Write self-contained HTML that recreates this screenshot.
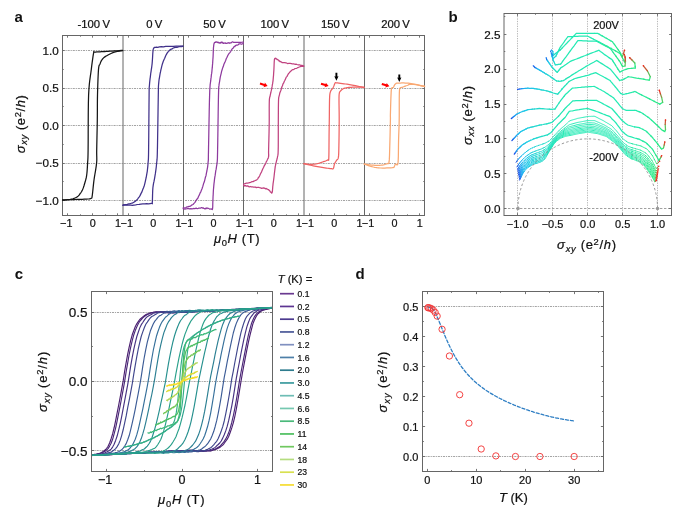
<!DOCTYPE html>
<html><head><meta charset="utf-8"><style>html,body{margin:0;padding:0;background:#fff;}svg{display:block;will-change:transform;}</style></head>
<body><svg width="685" height="523" viewBox="0 0 685 523" font-family="'Liberation Sans', sans-serif" fill="#111"><style>text{stroke:#111;stroke-width:0.22px;}text[font-weight=bold]{stroke-width:0;}</style>
<rect width="685" height="523" fill="#fff"/>
<text x="14.60" y="21.50" font-size="15" text-anchor="start" font-weight="bold"  >a</text>
<text x="448.40" y="21.60" font-size="15" text-anchor="start" font-weight="bold"  >b</text>
<text x="14.80" y="279.00" font-size="15" text-anchor="start" font-weight="bold"  >c</text>
<text x="355.50" y="279.00" font-size="15" text-anchor="start" font-weight="bold"  >d</text>
<line x1="62.50" y1="50.50" x2="424.50" y2="50.50" stroke="#a4a4a4" stroke-width="1" stroke-dasharray="2.1 0.9 1.2 0.9"/>
<line x1="62.50" y1="88.50" x2="424.50" y2="88.50" stroke="#a4a4a4" stroke-width="1" stroke-dasharray="2.1 0.9 1.2 0.9"/>
<line x1="62.50" y1="125.50" x2="424.50" y2="125.50" stroke="#a4a4a4" stroke-width="1" stroke-dasharray="2.1 0.9 1.2 0.9"/>
<line x1="62.50" y1="163.50" x2="424.50" y2="163.50" stroke="#a4a4a4" stroke-width="1" stroke-dasharray="2.1 0.9 1.2 0.9"/>
<line x1="62.50" y1="200.50" x2="424.50" y2="200.50" stroke="#a4a4a4" stroke-width="1" stroke-dasharray="2.1 0.9 1.2 0.9"/>
<line x1="62.50" y1="200.50" x2="64.70" y2="200.50" stroke="#666666" stroke-width="0.9" />
<line x1="424.50" y1="200.50" x2="422.30" y2="200.50" stroke="#666666" stroke-width="0.9" />
<line x1="62.50" y1="163.50" x2="64.70" y2="163.50" stroke="#666666" stroke-width="0.9" />
<line x1="424.50" y1="163.50" x2="422.30" y2="163.50" stroke="#666666" stroke-width="0.9" />
<line x1="62.50" y1="125.50" x2="64.70" y2="125.50" stroke="#666666" stroke-width="0.9" />
<line x1="424.50" y1="125.50" x2="422.30" y2="125.50" stroke="#666666" stroke-width="0.9" />
<line x1="62.50" y1="88.50" x2="64.70" y2="88.50" stroke="#666666" stroke-width="0.9" />
<line x1="424.50" y1="88.50" x2="422.30" y2="88.50" stroke="#666666" stroke-width="0.9" />
<line x1="62.50" y1="50.50" x2="64.70" y2="50.50" stroke="#666666" stroke-width="0.9" />
<line x1="424.50" y1="50.50" x2="422.30" y2="50.50" stroke="#666666" stroke-width="0.9" />
<line x1="62.50" y1="181.50" x2="63.70" y2="181.50" stroke="#666666" stroke-width="0.9" />
<line x1="424.50" y1="181.50" x2="423.30" y2="181.50" stroke="#666666" stroke-width="0.9" />
<line x1="62.50" y1="144.50" x2="63.70" y2="144.50" stroke="#666666" stroke-width="0.9" />
<line x1="424.50" y1="144.50" x2="423.30" y2="144.50" stroke="#666666" stroke-width="0.9" />
<line x1="62.50" y1="106.50" x2="63.70" y2="106.50" stroke="#666666" stroke-width="0.9" />
<line x1="424.50" y1="106.50" x2="423.30" y2="106.50" stroke="#666666" stroke-width="0.9" />
<line x1="62.50" y1="69.50" x2="63.70" y2="69.50" stroke="#666666" stroke-width="0.9" />
<line x1="424.50" y1="69.50" x2="423.30" y2="69.50" stroke="#666666" stroke-width="0.9" />
<line x1="67.50" y1="215.50" x2="67.50" y2="213.30" stroke="#666666" stroke-width="0.9" />
<line x1="67.50" y1="35.50" x2="67.50" y2="37.70" stroke="#666666" stroke-width="0.9" />
<line x1="92.50" y1="215.50" x2="92.50" y2="213.30" stroke="#666666" stroke-width="0.9" />
<line x1="92.50" y1="35.50" x2="92.50" y2="37.70" stroke="#666666" stroke-width="0.9" />
<line x1="117.50" y1="215.50" x2="117.50" y2="213.30" stroke="#666666" stroke-width="0.9" />
<line x1="117.50" y1="35.50" x2="117.50" y2="37.70" stroke="#666666" stroke-width="0.9" />
<line x1="80.50" y1="215.50" x2="80.50" y2="214.30" stroke="#666666" stroke-width="0.9" />
<line x1="80.50" y1="35.50" x2="80.50" y2="36.70" stroke="#666666" stroke-width="0.9" />
<line x1="105.50" y1="215.50" x2="105.50" y2="214.30" stroke="#666666" stroke-width="0.9" />
<line x1="105.50" y1="35.50" x2="105.50" y2="36.70" stroke="#666666" stroke-width="0.9" />
<line x1="128.50" y1="215.50" x2="128.50" y2="213.30" stroke="#666666" stroke-width="0.9" />
<line x1="128.50" y1="35.50" x2="128.50" y2="37.70" stroke="#666666" stroke-width="0.9" />
<line x1="153.50" y1="215.50" x2="153.50" y2="213.30" stroke="#666666" stroke-width="0.9" />
<line x1="153.50" y1="35.50" x2="153.50" y2="37.70" stroke="#666666" stroke-width="0.9" />
<line x1="178.50" y1="215.50" x2="178.50" y2="213.30" stroke="#666666" stroke-width="0.9" />
<line x1="178.50" y1="35.50" x2="178.50" y2="37.70" stroke="#666666" stroke-width="0.9" />
<line x1="140.50" y1="215.50" x2="140.50" y2="214.30" stroke="#666666" stroke-width="0.9" />
<line x1="140.50" y1="35.50" x2="140.50" y2="36.70" stroke="#666666" stroke-width="0.9" />
<line x1="165.50" y1="215.50" x2="165.50" y2="214.30" stroke="#666666" stroke-width="0.9" />
<line x1="165.50" y1="35.50" x2="165.50" y2="36.70" stroke="#666666" stroke-width="0.9" />
<line x1="188.50" y1="215.50" x2="188.50" y2="213.30" stroke="#666666" stroke-width="0.9" />
<line x1="188.50" y1="35.50" x2="188.50" y2="37.70" stroke="#666666" stroke-width="0.9" />
<line x1="213.50" y1="215.50" x2="213.50" y2="213.30" stroke="#666666" stroke-width="0.9" />
<line x1="213.50" y1="35.50" x2="213.50" y2="37.70" stroke="#666666" stroke-width="0.9" />
<line x1="238.50" y1="215.50" x2="238.50" y2="213.30" stroke="#666666" stroke-width="0.9" />
<line x1="238.50" y1="35.50" x2="238.50" y2="37.70" stroke="#666666" stroke-width="0.9" />
<line x1="200.50" y1="215.50" x2="200.50" y2="214.30" stroke="#666666" stroke-width="0.9" />
<line x1="200.50" y1="35.50" x2="200.50" y2="36.70" stroke="#666666" stroke-width="0.9" />
<line x1="226.50" y1="215.50" x2="226.50" y2="214.30" stroke="#666666" stroke-width="0.9" />
<line x1="226.50" y1="35.50" x2="226.50" y2="36.70" stroke="#666666" stroke-width="0.9" />
<line x1="248.50" y1="215.50" x2="248.50" y2="213.30" stroke="#666666" stroke-width="0.9" />
<line x1="248.50" y1="35.50" x2="248.50" y2="37.70" stroke="#666666" stroke-width="0.9" />
<line x1="273.50" y1="215.50" x2="273.50" y2="213.30" stroke="#666666" stroke-width="0.9" />
<line x1="273.50" y1="35.50" x2="273.50" y2="37.70" stroke="#666666" stroke-width="0.9" />
<line x1="298.50" y1="215.50" x2="298.50" y2="213.30" stroke="#666666" stroke-width="0.9" />
<line x1="298.50" y1="35.50" x2="298.50" y2="37.70" stroke="#666666" stroke-width="0.9" />
<line x1="261.50" y1="215.50" x2="261.50" y2="214.30" stroke="#666666" stroke-width="0.9" />
<line x1="261.50" y1="35.50" x2="261.50" y2="36.70" stroke="#666666" stroke-width="0.9" />
<line x1="286.50" y1="215.50" x2="286.50" y2="214.30" stroke="#666666" stroke-width="0.9" />
<line x1="286.50" y1="35.50" x2="286.50" y2="36.70" stroke="#666666" stroke-width="0.9" />
<line x1="309.50" y1="215.50" x2="309.50" y2="213.30" stroke="#666666" stroke-width="0.9" />
<line x1="309.50" y1="35.50" x2="309.50" y2="37.70" stroke="#666666" stroke-width="0.9" />
<line x1="334.50" y1="215.50" x2="334.50" y2="213.30" stroke="#666666" stroke-width="0.9" />
<line x1="334.50" y1="35.50" x2="334.50" y2="37.70" stroke="#666666" stroke-width="0.9" />
<line x1="359.50" y1="215.50" x2="359.50" y2="213.30" stroke="#666666" stroke-width="0.9" />
<line x1="359.50" y1="35.50" x2="359.50" y2="37.70" stroke="#666666" stroke-width="0.9" />
<line x1="321.50" y1="215.50" x2="321.50" y2="214.30" stroke="#666666" stroke-width="0.9" />
<line x1="321.50" y1="35.50" x2="321.50" y2="36.70" stroke="#666666" stroke-width="0.9" />
<line x1="346.50" y1="215.50" x2="346.50" y2="214.30" stroke="#666666" stroke-width="0.9" />
<line x1="346.50" y1="35.50" x2="346.50" y2="36.70" stroke="#666666" stroke-width="0.9" />
<line x1="369.50" y1="215.50" x2="369.50" y2="213.30" stroke="#666666" stroke-width="0.9" />
<line x1="369.50" y1="35.50" x2="369.50" y2="37.70" stroke="#666666" stroke-width="0.9" />
<line x1="394.50" y1="215.50" x2="394.50" y2="213.30" stroke="#666666" stroke-width="0.9" />
<line x1="394.50" y1="35.50" x2="394.50" y2="37.70" stroke="#666666" stroke-width="0.9" />
<line x1="419.50" y1="215.50" x2="419.50" y2="213.30" stroke="#666666" stroke-width="0.9" />
<line x1="419.50" y1="35.50" x2="419.50" y2="37.70" stroke="#666666" stroke-width="0.9" />
<line x1="381.50" y1="215.50" x2="381.50" y2="214.30" stroke="#666666" stroke-width="0.9" />
<line x1="381.50" y1="35.50" x2="381.50" y2="36.70" stroke="#666666" stroke-width="0.9" />
<line x1="407.50" y1="215.50" x2="407.50" y2="214.30" stroke="#666666" stroke-width="0.9" />
<line x1="407.50" y1="35.50" x2="407.50" y2="36.70" stroke="#666666" stroke-width="0.9" />
<line x1="123.00" y1="35.50" x2="123.00" y2="215.50" stroke="#666666" stroke-width="1" />
<line x1="183.50" y1="35.50" x2="183.50" y2="215.50" stroke="#666666" stroke-width="1" />
<line x1="243.50" y1="35.50" x2="243.50" y2="215.50" stroke="#666666" stroke-width="1" />
<line x1="304.00" y1="35.50" x2="304.00" y2="215.50" stroke="#666666" stroke-width="1" />
<line x1="364.50" y1="35.50" x2="364.50" y2="215.50" stroke="#666666" stroke-width="1" />
<rect x="62.5" y="35.5" width="362.00" height="180.00" fill="none" stroke="#666666" stroke-width="1"/>
<text x="58.80" y="54.70" font-size="11.7" text-anchor="end" font-weight="normal"  >1.0</text>
<text x="58.80" y="92.20" font-size="11.7" text-anchor="end" font-weight="normal"  >0.5</text>
<text x="58.80" y="129.70" font-size="11.7" text-anchor="end" font-weight="normal"  >0.0</text>
<text x="58.80" y="167.20" font-size="11.7" text-anchor="end" font-weight="normal"  >&#8722;0.5</text>
<text x="58.80" y="204.70" font-size="11.7" text-anchor="end" font-weight="normal"  >&#8722;1.0</text>
<text x="66.28" y="227.30" font-size="10.8" text-anchor="middle" font-weight="normal"  >&#8722;1</text>
<text x="92.75" y="227.30" font-size="10.8" text-anchor="middle" font-weight="normal"  >0</text>
<text x="117.92" y="227.30" font-size="10.8" text-anchor="middle" font-weight="normal"  >1</text>
<text x="126.78" y="227.30" font-size="10.8" text-anchor="middle" font-weight="normal"  >&#8722;1</text>
<text x="153.25" y="227.30" font-size="10.8" text-anchor="middle" font-weight="normal"  >0</text>
<text x="178.42" y="227.30" font-size="10.8" text-anchor="middle" font-weight="normal"  >1</text>
<text x="187.03" y="227.30" font-size="10.8" text-anchor="middle" font-weight="normal"  >&#8722;1</text>
<text x="213.50" y="227.30" font-size="10.8" text-anchor="middle" font-weight="normal"  >0</text>
<text x="238.67" y="227.30" font-size="10.8" text-anchor="middle" font-weight="normal"  >1</text>
<text x="247.28" y="227.30" font-size="10.8" text-anchor="middle" font-weight="normal"  >&#8722;1</text>
<text x="273.75" y="227.30" font-size="10.8" text-anchor="middle" font-weight="normal"  >0</text>
<text x="298.92" y="227.30" font-size="10.8" text-anchor="middle" font-weight="normal"  >1</text>
<text x="307.78" y="227.30" font-size="10.8" text-anchor="middle" font-weight="normal"  >&#8722;1</text>
<text x="334.25" y="227.30" font-size="10.8" text-anchor="middle" font-weight="normal"  >0</text>
<text x="359.42" y="227.30" font-size="10.8" text-anchor="middle" font-weight="normal"  >1</text>
<text x="368.03" y="227.30" font-size="10.8" text-anchor="middle" font-weight="normal"  >&#8722;1</text>
<text x="394.50" y="227.30" font-size="10.8" text-anchor="middle" font-weight="normal"  >0</text>
<text x="419.67" y="227.30" font-size="10.8" text-anchor="middle" font-weight="normal"  >1</text>
<text x="93.75" y="28.40" font-size="11.3" text-anchor="middle" font-weight="normal"  >-100&#8201;V</text>
<text x="154.25" y="28.40" font-size="11.3" text-anchor="middle" font-weight="normal"  >0&#8201;V</text>
<text x="214.50" y="28.40" font-size="11.3" text-anchor="middle" font-weight="normal"  >50&#8201;V</text>
<text x="274.75" y="28.40" font-size="11.3" text-anchor="middle" font-weight="normal"  >100&#8201;V</text>
<text x="335.25" y="28.40" font-size="11.3" text-anchor="middle" font-weight="normal"  >150&#8201;V</text>
<text x="395.50" y="28.40" font-size="11.3" text-anchor="middle" font-weight="normal"  >200&#8201;V</text>
<path d="M122.70,50.40 L121.29,50.49 L119.31,50.61 L116.98,50.76 L114.50,50.92 L112.11,51.07 L110.00,51.20 L108.12,51.31 L106.30,51.42 L104.55,51.53 L102.90,51.62 L101.37,51.71 L100.00,51.80 L98.77,51.87 L97.66,51.93 L96.68,51.99 L95.83,52.04 L95.10,52.11 L94.50,52.20 L94.10,52.13 L93.91,51.86 L93.85,51.60 L93.83,51.56 L93.78,51.96 L93.60,53.00 L93.30,54.72 L92.95,56.97 L92.56,59.65 L92.15,62.67 L91.72,65.95 L91.30,69.40 L90.85,72.79 L90.35,76.16 L89.84,79.79 L89.35,83.95 L88.93,88.93 L88.60,95.00 L88.39,102.95 L88.27,112.71 L88.21,123.29 L88.19,133.69 L88.16,142.92 L88.10,150.00 L88.02,154.61 L87.95,157.48 L87.87,159.19 L87.80,160.30 L87.71,161.38 L87.60,163.00 L87.48,165.10 L87.37,167.22 L87.24,169.31 L87.09,171.33 L86.91,173.24 L86.70,175.00 L86.45,176.58 L86.16,178.00 L85.84,179.31 L85.51,180.56 L85.16,181.77 L84.80,183.00 L84.43,184.25 L84.06,185.50 L83.66,186.72 L83.26,187.89 L82.83,188.99 L82.40,190.00 L81.94,190.92 L81.46,191.76 L80.96,192.53 L80.46,193.24 L79.97,193.89 L79.50,194.50 L79.08,195.04 L78.70,195.50 L78.33,195.91 L77.93,196.28 L77.46,196.64 L76.90,197.00 L76.23,197.38 L75.48,197.74 L74.66,198.10 L73.80,198.43 L72.91,198.74 L72.00,199.00 L71.03,199.22 L69.99,199.40 L68.91,199.56 L67.86,199.69 L66.87,199.80 L66.00,199.90 L65.23,199.99 L64.52,200.06 L63.88,200.11 L63.31,200.14 L62.85,200.17 L62.50,200.20" fill="none" stroke="#151515" stroke-width="1.25" stroke-linejoin="round" stroke-linecap="round" />
<path d="M62.50,199.90 L63.85,199.86 L65.72,199.80 L67.94,199.73 L70.33,199.66 L72.74,199.58 L75.00,199.50 L77.25,199.43 L79.66,199.35 L82.08,199.28 L84.37,199.19 L86.39,199.10 L88.00,199.00 L89.13,198.90 L89.87,198.81 L90.35,198.71 L90.66,198.58 L90.91,198.42 L91.20,198.20 L91.48,198.07 L91.67,198.08 L91.79,198.05 L91.89,197.81 L92.01,197.18 L92.20,196.00 L92.44,194.14 L92.71,191.73 L93.00,188.93 L93.31,185.92 L93.64,182.88 L94.00,180.00 L94.42,177.18 L94.90,174.26 L95.41,171.31 L95.89,168.41 L96.30,165.61 L96.60,163.00 L96.76,160.80 L96.80,159.00 L96.77,157.31 L96.72,155.44 L96.68,153.10 L96.70,150.00 L96.78,145.93 L96.88,141.07 L96.99,135.75 L97.11,130.26 L97.22,124.91 L97.30,120.00 L97.35,115.55 L97.37,111.32 L97.38,107.23 L97.39,103.19 L97.42,99.14 L97.50,95.00 L97.61,90.53 L97.76,85.76 L97.92,80.97 L98.10,76.46 L98.30,72.50 L98.50,69.40 L98.72,67.31 L98.96,66.04 L99.21,65.33 L99.47,64.93 L99.74,64.57 L100.00,64.00 L100.25,63.27 L100.50,62.61 L100.74,61.99 L101.00,61.40 L101.29,60.84 L101.60,60.30 L101.95,59.77 L102.33,59.26 L102.72,58.78 L103.14,58.33 L103.57,57.90 L104.00,57.50 L104.41,57.15 L104.80,56.87 L105.19,56.61 L105.64,56.34 L106.16,56.05 L106.80,55.70 L107.58,55.26 L108.49,54.76 L109.48,54.23 L110.51,53.70 L111.53,53.22 L112.50,52.80 L113.44,52.46 L114.38,52.16 L115.31,51.91 L116.23,51.68 L117.13,51.48 L118.00,51.30 L118.88,51.14 L119.80,51.01 L120.69,50.91 L121.51,50.82 L122.20,50.75 L122.70,50.70" fill="none" stroke="#151515" stroke-width="1.25" stroke-linejoin="round" stroke-linecap="round" />
<path d="M183.00,46.10 L181.32,46.01 L178.95,46.21 L176.17,46.19 L173.23,46.38 L170.38,46.47 L167.90,46.28 L165.67,46.36 L163.47,46.88 L161.36,46.71 L159.43,46.82 L157.75,47.33 L156.40,47.19 L155.44,47.46 L154.84,47.33 L154.49,47.46 L154.28,47.31 L154.12,47.71 L153.90,48.08 L153.66,48.19 L153.48,48.55 L153.35,48.84 L153.24,49.03 L153.13,50.12 L153.00,51.15 L152.86,52.57 L152.73,54.41 L152.59,57.06 L152.45,59.22 L152.29,61.66 L152.10,63.89 L151.87,65.79 L151.60,67.83 L151.32,69.47 L151.03,71.56 L150.75,73.27 L150.50,75.42 L150.27,77.34 L150.03,78.95 L149.81,80.97 L149.61,82.96 L149.44,85.20 L149.30,86.67 L149.21,87.79 L149.17,87.87 L149.16,88.13 L149.15,88.84 L149.14,90.88 L149.12,93.02 L149.10,95.04 L149.08,97.52 L149.06,99.73 L149.03,102.17 L149.01,104.51 L148.99,106.95 L148.98,109.16 L148.96,111.28 L148.94,113.78 L148.92,115.99 L148.90,118.12 L148.89,120.11 L148.87,122.34 L148.85,124.26 L148.83,126.74 L148.81,128.78 L148.80,130.80 L148.78,132.86 L148.76,135.67 L148.73,138.16 L148.71,140.12 L148.69,142.90 L148.66,145.12 L148.63,147.41 L148.60,149.90 L148.56,152.41 L148.53,154.74 L148.47,157.11 L148.41,159.00 L148.34,159.74 L148.24,161.09 L148.10,162.52 L147.93,164.90 L147.73,167.07 L147.51,168.95 L147.26,171.32 L146.95,173.09 L146.60,175.09 L146.20,177.48 L145.76,179.37 L145.27,181.61 L144.74,183.84 L144.15,186.00 L143.50,187.73 L142.76,189.57 L141.94,191.85 L141.07,193.37 L140.17,195.38 L139.27,196.87 L138.40,197.94 L137.57,199.07 L136.74,200.00 L135.92,200.79 L135.09,201.38 L134.26,201.91 L133.40,202.46 L132.51,203.08 L131.58,203.24 L130.64,203.50 L129.72,203.89 L128.83,203.86 L128.00,204.10 L127.21,204.63 L126.42,204.55 L125.67,204.68 L124.99,204.51 L124.39,204.79 L123.90,204.94 L123.54,204.71 L123.30,205.04 L123.14,205.06 L123.04,204.78 L122.97,205.00 L122.90,205.00" fill="none" stroke="#40318a" stroke-width="1.25" stroke-linejoin="round" stroke-linecap="round" />
<path d="M122.90,205.30 L123.73,205.17 L124.87,205.11 L126.22,205.25 L127.71,205.12 L129.26,205.05 L130.80,205.15 L132.35,205.31 L133.99,205.11 L135.69,204.94 L137.43,204.50 L139.17,204.48 L140.90,204.19 L142.72,203.97 L144.69,203.77 L146.67,203.66 L148.52,203.84 L150.11,203.63 L151.30,203.45 L152.02,203.45 L152.34,203.34 L152.41,203.60 L152.34,203.77 L152.27,203.45 L152.30,202.58 L152.40,200.94 L152.47,198.30 L152.53,195.93 L152.60,193.18 L152.71,190.37 L152.90,187.74 L153.18,185.68 L153.54,183.36 L153.94,181.70 L154.35,179.62 L154.75,177.41 L155.10,175.20 L155.41,173.39 L155.71,171.11 L155.99,169.14 L156.26,167.00 L156.49,164.72 L156.70,162.56 L156.87,161.03 L156.99,159.93 L157.09,158.77 L157.19,157.24 L157.28,154.71 L157.34,152.05 L157.40,149.77 L157.45,147.66 L157.50,145.08 L157.54,142.80 L157.58,140.38 L157.62,137.92 L157.66,135.85 L157.70,133.06 L157.74,131.01 L157.77,128.76 L157.80,126.82 L157.84,124.49 L157.87,122.38 L157.90,120.42 L157.93,118.06 L157.97,116.03 L158.00,114.06 L158.03,111.50 L158.07,109.10 L158.10,106.79 L158.14,104.68 L158.18,102.22 L158.22,99.64 L158.26,97.30 L158.30,94.84 L158.34,92.74 L158.38,90.30 L158.42,87.95 L158.44,86.58 L158.48,85.74 L158.56,84.77 L158.70,83.43 L158.91,81.01 L159.16,79.19 L159.45,77.59 L159.77,75.57 L160.13,73.50 L160.50,71.92 L160.89,69.96 L161.29,68.30 L161.73,66.30 L162.20,64.55 L162.72,63.01 L163.30,61.22 L163.96,59.68 L164.70,58.28 L165.49,56.30 L166.30,54.57 L167.11,53.17 L167.90,52.03 L168.65,51.38 L169.39,50.41 L170.12,49.76 L170.88,49.17 L171.66,49.17 L172.50,48.46 L173.41,47.97 L174.39,47.59 L175.39,47.35 L176.40,47.20 L177.38,47.27 L178.30,46.82 L179.20,46.59 L180.12,46.65 L181.01,46.38 L181.82,46.63 L182.50,46.28 L183.00,46.20" fill="none" stroke="#40318a" stroke-width="1.25" stroke-linejoin="round" stroke-linecap="round" />
<path d="M243.40,42.10 L242.29,42.20 L240.70,42.28 L238.84,42.31 L236.92,42.43 L235.14,42.26 L233.70,42.48 L232.62,41.78 L231.76,42.32 L231.02,42.93 L230.37,42.85 L229.71,43.24 L229.00,42.65 L228.22,43.07 L227.41,42.96 L226.61,43.30 L225.84,43.37 L225.13,42.88 L224.50,43.05 L223.96,43.02 L223.50,43.45 L223.10,43.14 L222.73,42.42 L222.37,42.85 L222.00,42.17 L221.64,42.61 L221.32,42.23 L221.01,42.21 L220.69,43.08 L220.33,42.55 L219.90,42.54 L219.38,43.14 L218.77,42.87 L218.12,42.14 L217.49,42.55 L216.90,42.01 L216.40,42.06 L216.01,41.61 L215.68,42.26 L215.40,42.07 L215.16,42.41 L214.93,42.54 L214.70,42.32 L214.48,42.76 L214.27,43.00 L214.08,43.50 L213.91,44.09 L213.75,45.18 L213.60,46.59 L213.47,47.54 L213.37,49.94 L213.29,51.64 L213.20,53.73 L213.11,56.29 L213.00,57.98 L212.87,59.74 L212.74,61.79 L212.60,63.88 L212.45,65.20 L212.28,67.92 L212.10,68.97 L211.89,71.51 L211.66,73.44 L211.41,74.55 L211.16,77.13 L210.92,78.71 L210.70,80.97 L210.50,82.18 L210.31,83.48 L210.13,84.94 L209.96,87.58 L209.78,89.98 L209.69,92.86 L209.60,95.39 L209.54,97.83 L209.47,99.72 L209.41,102.16 L209.36,104.71 L209.31,107.33 L209.26,109.13 L209.21,112.10 L209.17,114.29 L209.13,116.49 L209.09,117.89 L209.05,120.85 L209.01,122.23 L208.97,124.59 L208.93,126.97 L208.89,129.39 L208.85,131.01 L208.81,133.67 L208.77,135.71 L208.73,137.88 L208.69,140.27 L208.64,142.52 L208.60,144.83 L208.55,147.29 L208.50,150.17 L208.46,152.72 L208.41,154.25 L208.38,156.93 L208.36,159.38 L208.33,159.99 L208.26,160.90 L208.10,162.36 L207.87,164.80 L207.59,167.12 L207.26,168.91 L206.89,171.00 L206.47,172.79 L206.00,175.67 L205.47,177.01 L204.88,179.59 L204.24,182.07 L203.57,183.56 L202.89,186.15 L202.20,188.30 L201.52,189.88 L200.83,191.83 L200.12,192.95 L199.39,194.90 L198.62,196.22 L197.80,198.31 L196.92,199.20 L195.97,200.67 L194.99,202.39 L194.00,203.38 L193.02,204.49 L192.10,204.86 L191.21,205.55 L190.34,206.24 L189.49,206.37 L188.66,206.46 L187.86,206.79 L187.10,206.78 L186.34,207.20 L185.57,207.91 L184.84,208.00 L184.17,207.79 L183.61,207.74 L183.20,207.80" fill="none" stroke="#8e3a9e" stroke-width="1.25" stroke-linejoin="round" stroke-linecap="round" />
<path d="M183.20,208.70 L183.88,208.98 L184.81,209.04 L185.92,208.77 L187.14,208.59 L188.39,208.37 L189.60,208.95 L190.83,208.72 L192.14,208.91 L193.49,208.47 L194.81,208.73 L196.07,208.19 L197.20,208.57 L198.21,208.41 L199.14,208.01 L200.00,208.00 L200.79,208.03 L201.52,207.53 L202.20,207.85 L202.80,208.15 L203.31,207.80 L203.77,208.46 L204.19,208.53 L204.59,208.83 L205.00,208.45 L205.39,208.23 L205.73,208.81 L206.05,208.72 L206.40,208.31 L206.80,207.93 L207.30,208.03 L207.95,208.51 L208.74,208.36 L209.59,209.15 L210.41,209.01 L211.14,208.79 L211.70,209.24 L212.06,208.99 L212.28,209.53 L212.41,209.49 L212.47,209.00 L212.53,208.80 L212.60,208.28 L212.68,207.55 L212.73,206.67 L212.76,204.60 L212.79,203.52 L212.83,202.22 L212.90,200.32 L212.98,198.77 L213.07,196.30 L213.18,194.85 L213.29,192.31 L213.43,189.71 L213.60,188.05 L213.80,185.63 L214.02,183.43 L214.27,181.59 L214.53,179.18 L214.81,177.14 L215.10,175.63 L215.42,173.37 L215.79,170.63 L216.16,169.20 L216.53,166.39 L216.85,164.56 L217.10,162.96 L217.27,161.09 L217.36,159.79 L217.42,158.83 L217.46,157.24 L217.51,154.22 L217.56,152.73 L217.60,149.60 L217.64,147.53 L217.69,145.41 L217.73,142.70 L217.76,140.83 L217.80,137.77 L217.84,136.03 L217.87,133.56 L217.91,131.21 L217.94,129.26 L217.97,126.71 L218.00,124.90 L218.03,122.72 L218.06,120.32 L218.10,118.13 L218.13,116.19 L218.16,113.77 L218.19,111.33 L218.23,109.54 L218.27,106.72 L218.31,104.53 L218.35,102.41 L218.40,99.48 L218.45,96.96 L218.50,94.66 L218.56,92.85 L218.62,90.40 L218.72,87.64 L218.81,86.34 L218.93,85.90 L219.08,84.43 L219.30,83.12 L219.58,81.59 L219.91,79.40 L220.28,77.15 L220.69,75.41 L221.13,73.52 L221.60,71.38 L222.11,69.78 L222.66,67.92 L223.24,66.61 L223.85,64.46 L224.47,63.11 L225.10,61.82 L225.73,60.29 L226.37,58.37 L227.03,57.21 L227.70,55.66 L228.39,54.49 L229.10,53.39 L229.85,52.54 L230.63,51.59 L231.44,49.99 L232.23,48.79 L233.00,48.32 L233.70,47.20 L234.30,46.52 L234.81,46.63 L235.29,45.56 L235.80,45.70 L236.38,45.02 L237.10,45.19 L238.06,44.81 L239.22,43.84 L240.46,43.75 L241.66,44.25 L242.68,43.71 L243.40,43.60" fill="none" stroke="#8e3a9e" stroke-width="1.25" stroke-linejoin="round" stroke-linecap="round" />
<path d="M303.75,66.00 L303.03,65.72 L302.04,65.37 L300.86,65.46 L299.58,64.78 L298.30,64.85 L297.10,64.51 L295.98,64.12 L294.86,64.29 L293.73,63.83 L292.59,63.97 L291.42,63.57 L290.20,63.41 L288.88,63.45 L287.45,63.51 L285.99,62.79 L284.57,62.62 L283.29,62.65 L282.20,62.61 L281.34,62.07 L280.66,61.65 L280.09,61.75 L279.61,60.78 L279.16,61.04 L278.70,60.35 L278.23,59.96 L277.79,59.64 L277.39,59.48 L277.02,59.56 L276.69,58.87 L276.40,58.96 L276.17,58.84 L276.00,58.53 L275.87,58.56 L275.76,58.16 L275.65,58.15 L275.50,58.29 L275.32,58.64 L275.13,58.42 L274.93,58.34 L274.73,58.67 L274.55,58.96 L274.40,59.56 L274.29,61.01 L274.20,62.38 L274.14,63.73 L274.07,65.77 L274.00,67.60 L273.90,69.66 L273.78,71.41 L273.65,73.08 L273.51,75.59 L273.35,76.98 L273.18,79.10 L273.00,81.08 L272.79,82.23 L272.57,83.92 L272.33,84.97 L272.08,86.70 L271.83,88.00 L271.60,89.05 L271.37,90.38 L271.15,91.01 L270.93,92.24 L270.71,93.11 L270.50,94.05 L270.30,94.97 L270.11,96.10 L269.91,96.83 L269.73,97.18 L269.56,98.21 L269.41,99.15 L269.30,101.64 L269.24,104.44 L269.22,108.16 L269.23,111.98 L269.23,113.71 L269.24,115.88 L269.24,118.22 L269.24,119.90 L269.22,122.29 L269.20,124.17 L269.16,126.30 L269.12,128.42 L269.07,131.26 L269.02,133.17 L268.96,135.64 L268.90,138.12 L268.84,140.74 L268.78,142.46 L268.73,144.73 L268.68,146.82 L268.60,150.27 L268.58,152.47 L268.62,153.98 L268.67,154.54 L268.69,155.32 L268.65,155.94 L268.50,157.17 L268.24,158.22 L267.89,158.57 L267.48,159.48 L267.02,160.42 L266.52,161.37 L266.00,162.59 L265.44,163.82 L264.83,164.83 L264.18,165.93 L263.51,167.54 L262.85,168.82 L262.20,170.25 L261.57,171.84 L260.93,173.03 L260.30,174.29 L259.67,175.68 L259.03,176.92 L258.40,177.49 L257.78,178.87 L257.18,179.41 L256.57,179.97 L255.96,180.33 L255.30,180.43 L254.60,180.83 L253.85,181.02 L253.06,181.74 L252.24,181.66 L251.39,181.95 L250.51,182.33 L249.60,182.56 L248.58,182.95 L247.44,183.01 L246.26,183.22 L245.16,183.54 L244.22,183.97 L243.55,184.10" fill="none" stroke="#c0427f" stroke-width="1.25" stroke-linejoin="round" stroke-linecap="round" />
<path d="M243.55,185.40 L244.05,185.32 L244.72,185.99 L245.53,185.59 L246.43,186.19 L247.36,185.94 L248.30,186.22 L249.27,186.90 L250.33,186.48 L251.43,186.92 L252.53,186.92 L253.60,187.04 L254.60,187.20 L255.51,187.11 L256.37,187.68 L257.19,187.28 L258.00,187.49 L258.83,187.45 L259.70,187.74 L260.64,187.93 L261.63,188.35 L262.64,188.05 L263.63,187.95 L264.56,188.17 L265.40,188.84 L266.15,188.40 L266.84,189.04 L267.47,189.15 L268.05,189.65 L268.59,189.74 L269.10,190.33 L269.57,190.61 L269.99,191.21 L270.37,191.90 L270.71,192.15 L271.02,192.23 L271.30,192.40 L271.54,193.11 L271.74,192.81 L271.90,192.54 L272.04,192.87 L272.17,192.27 L272.30,191.86 L272.42,191.27 L272.50,189.98 L272.58,189.02 L272.66,188.24 L272.76,186.48 L272.90,185.59 L273.08,183.65 L273.28,182.45 L273.51,180.73 L273.74,179.12 L273.98,177.27 L274.20,175.30 L274.41,173.38 L274.61,171.60 L274.81,170.11 L275.02,168.39 L275.25,166.44 L275.50,165.48 L275.79,163.79 L276.13,162.62 L276.48,161.05 L276.83,159.86 L277.14,158.50 L277.40,157.49 L277.61,156.38 L277.77,155.68 L277.91,154.84 L278.03,154.10 L278.12,152.58 L278.20,149.77 L278.26,146.67 L278.27,144.49 L278.28,142.81 L278.28,140.76 L278.29,137.95 L278.29,135.96 L278.29,133.26 L278.29,130.72 L278.29,128.90 L278.29,126.45 L278.30,124.17 L278.31,122.27 L278.32,120.04 L278.33,118.02 L278.34,115.90 L278.35,113.78 L278.36,111.79 L278.39,107.63 L278.44,104.02 L278.50,101.21 L278.57,99.24 L278.66,98.24 L278.75,97.31 L278.87,97.05 L279.01,96.28 L279.20,95.65 L279.45,94.86 L279.75,93.24 L280.08,92.24 L280.42,91.40 L280.73,90.70 L281.00,90.05 L281.18,89.55 L281.30,88.81 L281.39,88.84 L281.50,87.73 L281.69,87.74 L282.00,86.50 L282.44,85.88 L282.97,83.98 L283.57,83.20 L284.23,81.57 L284.91,80.28 L285.60,78.66 L286.31,77.11 L287.06,76.39 L287.84,74.78 L288.63,73.36 L289.42,72.67 L290.20,71.70 L290.97,70.97 L291.73,70.18 L292.50,69.72 L293.27,69.66 L294.03,69.23 L294.80,68.64 L295.57,68.49 L296.34,68.35 L297.12,68.03 L297.89,67.58 L298.65,67.26 L299.40,67.00 L300.19,66.70 L301.03,66.49 L301.86,66.50 L302.63,66.13 L303.28,66.29 L303.75,66.20" fill="none" stroke="#c0427f" stroke-width="1.25" stroke-linejoin="round" stroke-linecap="round" />
<path d="M364.10,87.60 L362.94,87.34 L361.32,86.97 L359.41,86.53 L357.38,86.08 L355.42,85.65 L353.70,85.30 L352.23,85.02 L350.87,84.79 L349.57,84.58 L348.30,84.39 L346.99,84.20 L345.60,84.00 L344.04,83.78 L342.32,83.54 L340.58,83.31 L338.92,83.09 L337.49,82.92 L336.40,82.80 L335.73,82.71 L335.39,82.64 L335.27,82.60 L335.26,82.63 L335.24,82.75 L335.10,83.00 L334.86,83.42 L334.60,84.00 L334.34,84.68 L334.09,85.39 L333.83,86.05 L333.60,86.60 L333.39,87.03 L333.20,87.38 L333.02,87.69 L332.84,88.00 L332.64,88.32 L332.40,88.70 L332.11,89.10 L331.78,89.48 L331.43,89.89 L331.09,90.35 L330.77,90.91 L330.50,91.60 L330.29,92.27 L330.10,92.86 L329.95,93.55 L329.82,94.50 L329.70,95.90 L329.60,97.90 L329.51,100.78 L329.45,104.45 L329.41,108.56 L329.37,112.75 L329.34,116.68 L329.30,120.00 L329.26,122.50 L329.23,124.43 L329.20,126.10 L329.17,127.81 L329.14,129.88 L329.10,132.60 L329.06,136.35 L329.03,140.96 L328.99,145.92 L328.95,150.73 L328.89,154.89 L328.80,157.90 L328.73,159.57 L328.67,160.27 L328.61,160.31 L328.48,160.03 L328.26,159.75 L327.90,159.80 L327.39,160.12 L326.76,160.43 L326.04,160.75 L325.24,161.07 L324.38,161.38 L323.50,161.70 L322.57,162.03 L321.59,162.37 L320.55,162.72 L319.47,163.05 L318.35,163.35 L317.20,163.60 L315.99,163.82 L314.69,164.01 L313.36,164.17 L312.04,164.29 L310.77,164.37 L309.60,164.40 L308.47,164.35 L307.35,164.22 L306.28,164.05 L305.31,163.87 L304.50,163.71 L303.90,163.60" fill="none" stroke="#ef6464" stroke-width="1.25" stroke-linejoin="round" stroke-linecap="round" />
<path d="M303.90,163.80 L304.19,163.85 L304.54,163.91 L304.97,163.99 L305.52,164.10 L306.19,164.23 L307.00,164.40 L307.99,164.62 L309.15,164.89 L310.44,165.19 L311.80,165.50 L313.21,165.81 L314.60,166.10 L316.02,166.38 L317.52,166.67 L319.06,166.95 L320.59,167.22 L322.08,167.47 L323.50,167.70 L324.89,167.90 L326.30,168.09 L327.66,168.25 L328.94,168.39 L330.07,168.51 L331.00,168.60 L331.70,168.71 L332.19,168.85 L332.54,168.97 L332.80,169.00 L333.03,168.90 L333.30,168.60 L333.57,168.04 L333.78,167.24 L333.96,166.31 L334.14,165.33 L334.35,164.40 L334.60,163.60 L334.91,162.94 L335.26,162.33 L335.63,161.77 L336.00,161.24 L336.36,160.72 L336.70,160.20 L337.02,159.78 L337.34,159.50 L337.65,159.23 L337.94,158.84 L338.19,158.21 L338.40,157.20 L338.56,155.89 L338.66,154.39 L338.74,152.64 L338.79,150.59 L338.84,148.16 L338.90,145.30 L338.97,141.80 L339.03,137.66 L339.09,133.14 L339.14,128.52 L339.18,124.05 L339.20,120.00 L339.19,116.23 L339.15,112.51 L339.10,108.95 L339.05,105.64 L339.01,102.69 L339.00,100.20 L339.01,98.25 L339.03,96.77 L339.06,95.66 L339.11,94.78 L339.19,94.03 L339.30,93.30 L339.43,92.65 L339.57,92.19 L339.74,91.86 L339.95,91.60 L340.20,91.33 L340.50,91.00 L340.85,90.60 L341.25,90.19 L341.69,89.78 L342.17,89.38 L342.71,89.01 L343.30,88.70 L343.95,88.44 L344.66,88.22 L345.41,88.03 L346.21,87.87 L347.04,87.73 L347.90,87.60 L348.74,87.49 L349.57,87.40 L350.44,87.33 L351.38,87.28 L352.45,87.24 L353.70,87.20 L355.29,87.18 L357.21,87.17 L359.26,87.17 L361.23,87.19 L362.92,87.20 L364.10,87.20" fill="none" stroke="#ef6464" stroke-width="1.25" stroke-linejoin="round" stroke-linecap="round" />
<path d="M424.60,86.70 L423.58,86.43 L422.15,86.03 L420.47,85.58 L418.67,85.10 L416.90,84.66 L415.30,84.30 L413.87,84.02 L412.50,83.77 L411.16,83.55 L409.81,83.37 L408.44,83.22 L407.00,83.10 L405.41,83.02 L403.67,82.99 L401.89,82.99 L400.21,83.01 L398.74,83.05 L397.60,83.10 L396.85,83.16 L396.41,83.23 L396.19,83.33 L396.07,83.43 L395.98,83.56 L395.80,83.70 L395.57,83.85 L395.36,84.01 L395.16,84.19 L394.98,84.39 L394.79,84.62 L394.60,84.90 L394.41,85.25 L394.22,85.66 L394.04,86.11 L393.84,86.55 L393.63,86.96 L393.40,87.30 L393.12,87.49 L392.80,87.54 L392.46,87.55 L392.13,87.63 L391.84,87.88 L391.60,88.40 L391.43,89.11 L391.31,89.91 L391.23,90.89 L391.16,92.11 L391.09,93.65 L391.00,95.60 L390.89,98.23 L390.78,101.53 L390.66,105.16 L390.56,108.76 L390.47,111.99 L390.40,114.50 L390.37,115.96 L390.38,116.59 L390.40,116.85 L390.42,117.20 L390.43,118.09 L390.40,120.00 L390.34,123.17 L390.25,127.30 L390.14,131.97 L390.03,136.79 L389.91,141.37 L389.80,145.30 L389.70,148.72 L389.61,151.96 L389.53,154.96 L389.42,157.64 L389.28,159.91 L389.10,161.70 L388.92,162.86 L388.75,163.42 L388.56,163.57 L388.28,163.53 L387.88,163.47 L387.30,163.60 L386.53,163.90 L385.60,164.22 L384.54,164.52 L383.38,164.80 L382.16,165.04 L380.90,165.20 L379.56,165.29 L378.11,165.33 L376.59,165.32 L375.05,165.27 L373.54,165.19 L372.10,165.10 L370.65,164.96 L369.12,164.77 L367.63,164.54 L366.25,164.32 L365.09,164.13 L364.25,164.00" fill="none" stroke="#f9a872" stroke-width="1.25" stroke-linejoin="round" stroke-linecap="round" />
<path d="M364.25,164.20 L365.26,164.53 L366.68,164.99 L368.36,165.54 L370.13,166.10 L371.86,166.61 L373.40,167.00 L374.70,167.29 L375.88,167.51 L377.01,167.69 L378.17,167.83 L379.44,167.93 L380.90,168.00 L382.68,168.03 L384.76,168.02 L386.95,167.97 L389.06,167.90 L390.90,167.81 L392.30,167.70 L393.17,167.59 L393.66,167.48 L393.88,167.35 L393.96,167.19 L394.03,166.97 L394.20,166.70 L394.44,166.33 L394.63,165.87 L394.81,165.36 L395.00,164.84 L395.22,164.38 L395.50,164.00 L395.87,163.99 L396.31,164.36 L396.79,164.78 L397.26,164.90 L397.68,164.39 L398.00,162.90 L398.21,160.17 L398.34,156.41 L398.42,152.01 L398.47,147.37 L398.52,142.87 L398.60,138.90 L398.71,135.52 L398.82,132.43 L398.93,129.48 L399.04,126.52 L399.13,123.41 L399.20,120.00 L399.24,116.05 L399.25,111.64 L399.25,107.07 L399.25,102.66 L399.26,98.73 L399.30,95.60 L399.35,93.33 L399.40,91.70 L399.46,90.54 L399.55,89.71 L399.69,89.05 L399.90,88.40 L400.17,87.87 L400.48,87.61 L400.84,87.51 L401.26,87.49 L401.75,87.45 L402.30,87.30 L402.95,87.03 L403.69,86.73 L404.50,86.41 L405.34,86.08 L406.18,85.77 L407.00,85.50 L407.70,85.23 L408.30,84.94 L408.89,84.68 L409.60,84.46 L410.54,84.32 L411.80,84.30 L413.62,84.45 L415.95,84.74 L418.50,85.12 L420.99,85.52 L423.11,85.87 L424.60,86.10" fill="none" stroke="#f9a872" stroke-width="1.25" stroke-linejoin="round" stroke-linecap="round" />
<path d="M335.45,72.80 L337.35,72.80 L337.35,76.40 L338.50,76.20 L336.40,80.70 L334.30,76.20 L335.45,76.40 Z" fill="#000"/>
<path d="M398.35,74.50 L400.25,74.50 L400.25,77.70 L401.40,77.50 L399.30,82.00 L397.20,77.50 L398.35,77.70 Z" fill="#000"/>
<path transform="translate(260.00,83.60) rotate(16.8)" d="M0,-1.05 L4.54,-1.05 L4.34,-2.4 L7.94,0 L4.34,2.4 L4.54,1.05 L0,1.05 Z" fill="#ff0000"/>
<path transform="translate(321.00,83.80) rotate(16.8)" d="M0,-1.05 L4.54,-1.05 L4.34,-2.4 L7.94,0 L4.34,2.4 L4.54,1.05 L0,1.05 Z" fill="#ff0000"/>
<path transform="translate(381.80,84.00) rotate(16.8)" d="M0,-1.05 L4.54,-1.05 L4.34,-2.4 L7.94,0 L4.34,2.4 L4.54,1.05 L0,1.05 Z" fill="#ff0000"/>
<text transform="translate(24.60,124.20) rotate(-90)" font-size="13" text-anchor="middle" textLength="58" lengthAdjust="spacing"><tspan font-style="italic">&#963;</tspan><tspan font-style="italic" font-size="9.36" dy="2.47">xy</tspan><tspan dy="-2.47">&#160;(e</tspan><tspan font-size="9.36" dy="-4.03">2</tspan><tspan dy="4.03">/</tspan><tspan font-style="italic">h</tspan>)</text>
<text x="236.80" y="243.00" font-size="13" text-anchor="middle" textLength="45.8" lengthAdjust="spacing"><tspan font-style="italic">&#956;</tspan><tspan font-size="9.36" dy="2.86">0</tspan><tspan font-style="italic" dy="-2.86">H</tspan>&#160;(T)</text>
<line x1="517.50" y1="13.50" x2="517.50" y2="215.50" stroke="#b0b0b0" stroke-width="0.9" stroke-dasharray="1.3 1.15"/>
<line x1="552.50" y1="13.50" x2="552.50" y2="215.50" stroke="#b0b0b0" stroke-width="0.9" stroke-dasharray="1.3 1.15"/>
<line x1="587.50" y1="13.50" x2="587.50" y2="215.50" stroke="#b0b0b0" stroke-width="0.9" stroke-dasharray="1.3 1.15"/>
<line x1="622.50" y1="13.50" x2="622.50" y2="215.50" stroke="#b0b0b0" stroke-width="0.9" stroke-dasharray="1.3 1.15"/>
<line x1="657.50" y1="13.50" x2="657.50" y2="215.50" stroke="#b0b0b0" stroke-width="0.9" stroke-dasharray="1.3 1.15"/>
<line x1="504.00" y1="208.50" x2="671.50" y2="208.50" stroke="#a0a0a0" stroke-width="1" stroke-dasharray="2.4 1.6"/>
<line x1="504.00" y1="208.50" x2="506.40" y2="208.50" stroke="#666666" stroke-width="0.9" />
<line x1="671.50" y1="208.50" x2="669.10" y2="208.50" stroke="#666666" stroke-width="0.9" />
<line x1="504.00" y1="173.50" x2="506.40" y2="173.50" stroke="#666666" stroke-width="0.9" />
<line x1="671.50" y1="173.50" x2="669.10" y2="173.50" stroke="#666666" stroke-width="0.9" />
<line x1="504.00" y1="138.50" x2="506.40" y2="138.50" stroke="#666666" stroke-width="0.9" />
<line x1="671.50" y1="138.50" x2="669.10" y2="138.50" stroke="#666666" stroke-width="0.9" />
<line x1="504.00" y1="104.50" x2="506.40" y2="104.50" stroke="#666666" stroke-width="0.9" />
<line x1="671.50" y1="104.50" x2="669.10" y2="104.50" stroke="#666666" stroke-width="0.9" />
<line x1="504.00" y1="69.50" x2="506.40" y2="69.50" stroke="#666666" stroke-width="0.9" />
<line x1="671.50" y1="69.50" x2="669.10" y2="69.50" stroke="#666666" stroke-width="0.9" />
<line x1="504.00" y1="34.50" x2="506.40" y2="34.50" stroke="#666666" stroke-width="0.9" />
<line x1="671.50" y1="34.50" x2="669.10" y2="34.50" stroke="#666666" stroke-width="0.9" />
<line x1="504.00" y1="191.50" x2="505.30" y2="191.50" stroke="#666666" stroke-width="0.9" />
<line x1="671.50" y1="191.50" x2="670.20" y2="191.50" stroke="#666666" stroke-width="0.9" />
<line x1="504.00" y1="156.50" x2="505.30" y2="156.50" stroke="#666666" stroke-width="0.9" />
<line x1="671.50" y1="156.50" x2="670.20" y2="156.50" stroke="#666666" stroke-width="0.9" />
<line x1="504.00" y1="121.50" x2="505.30" y2="121.50" stroke="#666666" stroke-width="0.9" />
<line x1="671.50" y1="121.50" x2="670.20" y2="121.50" stroke="#666666" stroke-width="0.9" />
<line x1="504.00" y1="86.50" x2="505.30" y2="86.50" stroke="#666666" stroke-width="0.9" />
<line x1="671.50" y1="86.50" x2="670.20" y2="86.50" stroke="#666666" stroke-width="0.9" />
<line x1="504.00" y1="51.50" x2="505.30" y2="51.50" stroke="#666666" stroke-width="0.9" />
<line x1="671.50" y1="51.50" x2="670.20" y2="51.50" stroke="#666666" stroke-width="0.9" />
<line x1="504.00" y1="16.50" x2="505.30" y2="16.50" stroke="#666666" stroke-width="0.9" />
<line x1="671.50" y1="16.50" x2="670.20" y2="16.50" stroke="#666666" stroke-width="0.9" />
<line x1="517.50" y1="215.50" x2="517.50" y2="213.10" stroke="#666666" stroke-width="0.9" />
<line x1="517.50" y1="13.50" x2="517.50" y2="15.90" stroke="#666666" stroke-width="0.9" />
<line x1="552.50" y1="215.50" x2="552.50" y2="213.10" stroke="#666666" stroke-width="0.9" />
<line x1="552.50" y1="13.50" x2="552.50" y2="15.90" stroke="#666666" stroke-width="0.9" />
<line x1="587.50" y1="215.50" x2="587.50" y2="213.10" stroke="#666666" stroke-width="0.9" />
<line x1="587.50" y1="13.50" x2="587.50" y2="15.90" stroke="#666666" stroke-width="0.9" />
<line x1="622.50" y1="215.50" x2="622.50" y2="213.10" stroke="#666666" stroke-width="0.9" />
<line x1="622.50" y1="13.50" x2="622.50" y2="15.90" stroke="#666666" stroke-width="0.9" />
<line x1="657.50" y1="215.50" x2="657.50" y2="213.10" stroke="#666666" stroke-width="0.9" />
<line x1="657.50" y1="13.50" x2="657.50" y2="15.90" stroke="#666666" stroke-width="0.9" />
<line x1="535.50" y1="215.50" x2="535.50" y2="214.20" stroke="#666666" stroke-width="0.9" />
<line x1="535.50" y1="13.50" x2="535.50" y2="14.80" stroke="#666666" stroke-width="0.9" />
<line x1="570.50" y1="215.50" x2="570.50" y2="214.20" stroke="#666666" stroke-width="0.9" />
<line x1="570.50" y1="13.50" x2="570.50" y2="14.80" stroke="#666666" stroke-width="0.9" />
<line x1="605.50" y1="215.50" x2="605.50" y2="214.20" stroke="#666666" stroke-width="0.9" />
<line x1="605.50" y1="13.50" x2="605.50" y2="14.80" stroke="#666666" stroke-width="0.9" />
<line x1="640.50" y1="215.50" x2="640.50" y2="214.20" stroke="#666666" stroke-width="0.9" />
<line x1="640.50" y1="13.50" x2="640.50" y2="14.80" stroke="#666666" stroke-width="0.9" />
<rect x="504.0" y="13.5" width="167.50" height="202.00" fill="none" stroke="#666666" stroke-width="1"/>
<text x="500.60" y="212.73" font-size="11.7" text-anchor="end" font-weight="normal"  >0.0</text>
<text x="500.60" y="177.90" font-size="11.7" text-anchor="end" font-weight="normal"  >0.5</text>
<text x="500.60" y="143.07" font-size="11.7" text-anchor="end" font-weight="normal"  >1.0</text>
<text x="500.60" y="108.24" font-size="11.7" text-anchor="end" font-weight="normal"  >1.5</text>
<text x="500.60" y="73.41" font-size="11.7" text-anchor="end" font-weight="normal"  >2.0</text>
<text x="500.60" y="38.58" font-size="11.7" text-anchor="end" font-weight="normal"  >2.5</text>
<text x="517.66" y="227.80" font-size="11.0" text-anchor="middle" font-weight="normal"  >&#8722;1.0</text>
<text x="552.56" y="227.80" font-size="11.0" text-anchor="middle" font-weight="normal"  >&#8722;0.5</text>
<text x="587.75" y="227.80" font-size="11.0" text-anchor="middle" font-weight="normal"  >0.0</text>
<text x="622.64" y="227.80" font-size="11.0" text-anchor="middle" font-weight="normal"  >0.5</text>
<text x="657.54" y="227.80" font-size="11.0" text-anchor="middle" font-weight="normal"  >1.0</text>
<text x="593.20" y="29.10" font-size="11.0" text-anchor="start" font-weight="normal"  >200V</text>
<text x="589.30" y="161.00" font-size="11.0" text-anchor="start" font-weight="normal"  >-200V</text>
<text transform="translate(471.80,115.50) rotate(-90)" font-size="13" text-anchor="middle" textLength="59" lengthAdjust="spacing"><tspan font-style="italic">&#963;</tspan><tspan font-style="italic" font-size="9.36" dy="2.47">xx</tspan><tspan dy="-2.47">&#160;(e</tspan><tspan font-size="9.36" dy="-4.03">2</tspan><tspan dy="4.03">/</tspan><tspan font-style="italic">h</tspan>)</text>
<text transform="translate(586.60,249.30)" font-size="13" text-anchor="middle" textLength="59" lengthAdjust="spacing"><tspan font-style="italic">&#963;</tspan><tspan font-style="italic" font-size="9.36" dy="2.47">xy</tspan><tspan dy="-2.47">&#160;(e</tspan><tspan font-size="9.36" dy="-4.03">2</tspan><tspan dy="4.03">/</tspan><tspan font-style="italic">h</tspan>)</text>
<path d="M519.6 180.1L520.1 179.1M519.4 178.9L519.9 177.9M519.1 177.4L519.6 176.4M518.8 176.0L519.3 175.0M518.5 174.6L519.0 173.6M518.2 173.0L518.7 172.0M517.9 171.2L518.4 170.2M517.5 169.4L518.1 168.5M517.0 166.9L517.6 166.0M516.1 162.3L516.7 161.4" fill="none" stroke="#1842e4" stroke-width="0.95" stroke-linecap="round"/>
<path d="M520.1 179.1L520.6 178.1M519.9 177.9L520.4 176.9M519.6 176.4L520.1 175.5M519.3 175.0L519.8 174.1M519.0 173.6L519.6 172.6M518.7 172.0L519.3 171.1M518.4 170.2L519.0 169.3M518.1 168.5L518.6 167.5M517.6 166.0L518.2 165.1M516.7 161.4L517.3 160.5" fill="none" stroke="#1866ea" stroke-width="0.95" stroke-linecap="round"/>
<path d="M520.6 178.1L521.1 177.1M520.4 176.9L520.8 175.9M520.1 175.5L520.6 174.5M519.8 174.1L520.4 173.1M519.6 172.6L520.1 171.7M519.3 171.1L519.8 170.1M519.0 169.3L519.5 168.3M518.6 167.5L519.2 166.6M518.2 165.1L518.8 164.1M517.3 160.5L518.0 159.6" fill="none" stroke="#1878f0" stroke-width="0.95" stroke-linecap="round"/>
<path d="M521.1 177.1L521.6 176.1M520.8 175.9L521.4 174.9M520.6 174.5L521.1 173.5M518.0 159.6L518.7 158.8" fill="none" stroke="#1e90f0" stroke-width="0.95" stroke-linecap="round"/>
<path d="M521.6 176.1L522.0 175.1M521.4 174.9L521.9 173.9M521.1 173.5L521.7 172.6M520.9 172.1L521.4 171.2M520.7 170.7L521.2 169.8M520.4 169.2L521.0 168.3M520.1 167.4L520.8 166.5M519.8 165.7L520.5 164.8M519.4 163.3L520.1 162.4M518.7 158.8L519.5 157.9" fill="none" stroke="#1ea2f0" stroke-width="0.95" stroke-linecap="round"/>
<path d="M522.0 175.1L522.5 174.1M521.9 173.9L522.4 173.0M521.7 172.6L522.2 171.6M521.4 171.2L522.0 170.2M521.2 169.8L521.8 168.9M521.0 168.3L521.6 167.3M520.8 166.5L521.4 165.6M520.5 164.8L521.1 163.9M520.1 162.4L520.8 161.6M519.5 157.9L520.2 157.1" fill="none" stroke="#1ea8f0" stroke-width="0.95" stroke-linecap="round"/>
<path d="M522.5 174.1L523.0 173.2M522.4 173.0L522.9 172.0M522.2 171.6L522.7 170.6M522.0 170.2L522.6 169.3M521.8 168.9L522.4 167.9M521.6 167.3L522.2 166.4M521.4 165.6L522.0 164.8M521.1 163.9L521.8 163.1M520.8 161.6L521.5 160.7M520.2 157.1L521.0 156.3" fill="none" stroke="#1eaef0" stroke-width="0.95" stroke-linecap="round"/>
<path d="M523.0 173.2L523.7 172.3M522.9 172.0L523.6 171.1M522.7 170.6L523.4 169.8M522.6 169.3L523.3 168.4M522.4 167.9L523.1 167.1M522.2 166.4L522.9 165.6M522.0 164.8L522.7 163.9M521.8 163.1L522.5 162.3M521.5 160.7L522.3 159.9M521.0 156.3L521.8 155.6" fill="none" stroke="#1eb4f0" stroke-width="0.95" stroke-linecap="round"/>
<path d="M523.7 172.3L524.4 171.4M523.6 171.1L524.2 170.2L524.9 169.4M523.4 169.8L524.1 168.9L524.8 168.1M523.3 168.4L524.0 167.6L524.7 166.7M523.1 167.1L523.8 166.3L524.5 165.4M522.9 165.6L523.7 164.8L524.4 164.0M522.7 163.9L523.5 163.1L524.2 162.3M522.5 162.3L523.3 161.5L524.1 160.7M522.3 159.9L523.1 159.2L523.8 158.4M521.8 155.6L522.6 154.9L523.4 154.1" fill="none" stroke="#1ebaea" stroke-width="0.95" stroke-linecap="round"/>
<path d="M524.4 171.4L525.0 170.5L525.7 169.6L526.4 168.8M524.9 169.4L525.6 168.5L526.3 167.6M524.8 168.1L525.5 167.2L526.2 166.3M524.7 166.7L525.4 165.9L526.1 165.1M524.5 165.4L525.3 164.6L526.0 163.8M524.4 164.0L525.1 163.1L525.9 162.3M524.2 162.3L525.0 161.5L525.7 160.7M524.1 160.7L524.8 159.9L525.6 159.1M523.8 158.4L524.6 157.6L525.4 156.8M523.4 154.1L524.2 153.4L525.1 152.7" fill="none" stroke="#1ec0ea" stroke-width="0.95" stroke-linecap="round"/>
<path d="M526.4 168.8L527.2 168.1L528.1 167.4M526.3 167.6L527.1 167.0L528.1 166.3M526.2 166.3L527.0 165.7L527.9 165.0M526.1 165.1L526.9 164.4L527.8 163.7M526.0 163.8L526.8 163.1L527.7 162.4M525.9 162.3L526.7 161.6L527.6 161.0M525.7 160.7L526.6 160.0L527.5 159.4M525.6 159.1L526.4 158.4L527.3 157.8M525.4 156.8L526.3 156.1L527.2 155.5M525.1 152.7L525.9 151.9L526.8 151.3" fill="none" stroke="#1ec6ea" stroke-width="0.95" stroke-linecap="round"/>
<path d="M528.1 167.4L529.0 166.8M528.1 166.3L529.0 165.7M527.9 165.0L528.8 164.4M527.8 163.7L528.7 163.1M527.7 162.4L528.6 161.8M527.6 161.0L528.5 160.3M527.5 159.4L528.4 158.7M527.3 157.8L528.2 157.1M527.2 155.5L528.1 154.9M526.8 151.3L527.7 150.6" fill="none" stroke="#1ec6e4" stroke-width="0.95" stroke-linecap="round"/>
<path d="M529.0 166.8L530.0 166.2M529.0 165.7L529.9 165.0M528.8 164.4L529.8 163.8M528.7 163.1L529.6 162.5M528.6 161.8L529.5 161.2M528.5 160.3L529.4 159.7M528.4 158.7L529.3 158.1M528.2 157.1L529.1 156.5M528.1 154.9L529.0 154.2M527.7 150.6L528.6 150.0" fill="none" stroke="#1ecce4" stroke-width="0.95" stroke-linecap="round"/>
<path d="M530.0 166.2L530.9 165.5M529.9 165.0L530.8 164.4L531.7 163.8M529.8 163.8L530.7 163.1L531.6 162.5M529.6 162.5L530.5 161.8L531.5 161.2M529.5 161.2L530.4 160.5L531.3 159.9M529.4 159.7L530.3 159.1L531.2 158.4M529.3 158.1L530.2 157.5L531.1 156.8M529.1 156.5L530.0 155.8L531.0 155.2M529.0 154.2L529.9 153.6L530.8 153.0M528.6 150.0L529.5 149.4L530.4 148.8" fill="none" stroke="#24cce4" stroke-width="0.95" stroke-linecap="round"/>
<path d="M530.9 165.5L531.8 164.9M531.6 162.5L532.6 162.0M531.5 161.2L532.4 160.7M531.3 159.9L532.3 159.4M531.2 158.4L532.2 158.0M531.1 156.8L532.1 156.4M531.0 155.2L532.0 154.8M530.8 153.0L531.8 152.5" fill="none" stroke="#24ccde" stroke-width="0.95" stroke-linecap="round"/>
<path d="M531.8 164.9L532.8 164.4L533.8 164.1M531.7 163.8L532.7 163.3L533.7 163.0M532.6 162.0L533.6 161.7M532.4 160.7L533.5 160.4M532.3 159.4L533.4 159.1M532.2 158.0L533.3 157.6M532.1 156.4L533.1 156.0M532.0 154.8L533.0 154.4M531.8 152.5L532.8 152.1M530.4 148.8L531.4 148.3L532.4 147.9" fill="none" stroke="#24d2de" stroke-width="0.95" stroke-linecap="round"/>
<path d="M533.8 164.1L534.9 163.8L535.9 163.5M533.7 163.0L534.8 162.7L535.8 162.3M533.6 161.7L534.7 161.4L535.7 161.0M533.5 160.4L534.5 160.0L535.6 159.7M533.4 159.1L534.4 158.7L535.5 158.4M533.3 157.6L534.3 157.3L535.3 156.9M533.1 156.0L534.2 155.6L535.2 155.2M533.0 154.4L534.0 154.0L535.0 153.6M532.8 152.1L533.8 151.7L534.8 151.3M532.4 147.9L533.4 147.4L534.5 147.0" fill="none" stroke="#24d2d8" stroke-width="0.95" stroke-linecap="round"/>
<path d="M535.9 163.5L537.0 163.2M535.8 162.3L536.9 162.0M535.7 161.0L536.8 160.7M535.6 159.7L536.6 159.4M535.5 158.4L536.5 158.0M535.3 156.9L536.4 156.5M535.2 155.2L536.2 154.9M535.0 153.6L536.1 153.2M534.8 151.3L535.9 150.9M534.5 147.0L535.5 146.5" fill="none" stroke="#24d2d2" stroke-width="0.95" stroke-linecap="round"/>
<path d="M537.0 163.2L538.1 162.9L539.1 162.5L540.1 162.1M536.9 162.0L537.9 161.7L539.0 161.3L540.0 160.9M536.8 160.7L537.8 160.4L538.9 160.0L539.9 159.6M536.6 159.4L537.7 159.0L538.7 158.7L539.8 158.3M536.5 158.0L537.6 157.7L538.6 157.3L539.7 156.9M536.4 156.5L537.4 156.2L538.5 155.8L539.5 155.4M536.2 154.9L537.3 154.5L538.3 154.1L539.4 153.8M536.1 153.2L537.1 152.8L538.2 152.5L539.2 152.1M535.9 150.9L536.9 150.5L537.9 150.1L539.0 149.8M535.5 146.5L536.5 146.1L537.5 145.8L538.6 145.4" fill="none" stroke="#24d8d2" stroke-width="0.95" stroke-linecap="round"/>
<path d="M540.1 162.1L541.2 161.7L542.2 161.3L543.1 160.7L543.8 159.9M540.0 160.9L541.1 160.6L542.1 160.2L543.0 159.6L543.8 158.8M539.9 159.6L540.9 159.2L542.0 158.9L542.9 158.3L543.7 157.5M539.8 158.3L540.8 157.9L541.9 157.5L542.8 157.0L543.6 156.3M539.7 156.9L540.7 156.6L541.7 156.2L542.7 155.6L543.5 155.0M539.5 155.4L540.6 155.1L541.6 154.7L542.5 154.2L543.4 153.6M539.4 153.8L540.4 153.4L541.4 153.0L542.4 152.5L543.3 152.0M539.2 152.1L540.2 151.7L541.3 151.4L542.3 150.9L543.2 150.4M539.0 149.8L540.0 149.4L541.1 149.1L542.1 148.6L543.0 148.1M538.6 145.4L539.6 145.1L540.7 144.7L541.7 144.4L542.8 144.0" fill="none" stroke="#24d8cc" stroke-width="0.95" stroke-linecap="round"/>
<path d="M543.8 159.9L544.6 159.1M543.8 158.8L544.6 158.0M543.7 157.5L544.5 156.8M543.6 156.3L544.4 155.6M543.5 155.0L544.4 154.3M543.4 153.6L544.3 152.9M543.3 152.0L544.2 151.4M543.2 150.4L544.1 149.8M543.0 148.1L544.0 147.7M542.8 144.0L543.8 143.6" fill="none" stroke="#24decc" stroke-width="0.95" stroke-linecap="round"/>
<path d="M544.6 159.1L545.4 158.3L545.9 157.4L546.5 156.4L547.0 155.4L547.5 154.5M544.6 158.0L545.3 157.3L545.9 156.3L546.5 155.4L547.1 154.5L547.6 153.5M544.5 156.8L545.3 156.1L545.9 155.2L546.5 154.3L547.1 153.4L547.7 152.5M544.4 155.6L545.3 154.9L545.9 154.0L546.5 153.1L547.2 152.3L547.8 151.4M544.4 154.3L545.2 153.7L545.9 152.8L546.6 152.0L547.2 151.2L547.9 150.3L548.6 149.5M544.3 152.9L545.2 152.3L545.9 151.5L546.6 150.7L547.3 149.9L548.0 149.1L548.7 148.3M544.2 151.4L545.1 150.8L545.9 150.1L546.6 149.3L547.4 148.6L548.1 147.8L548.9 147.1M544.1 149.8L545.1 149.3L545.9 148.6L546.6 147.9L547.4 147.2L548.2 146.5L549.0 145.8M544.0 147.7L545.0 147.2L545.8 146.6L546.7 145.9L547.5 145.3L548.4 144.6L549.3 144.0M543.8 143.6L544.8 143.3L545.8 142.8L546.8 142.2L547.7 141.7L548.7 141.2" fill="none" stroke="#24dec6" stroke-width="0.95" stroke-linecap="round"/>
<path d="M547.5 154.5L548.1 153.5L548.6 152.5M547.6 153.5L548.2 152.6L548.8 151.7L549.3 150.7M547.7 152.5L548.3 151.6L548.9 150.6L549.5 149.7M547.8 151.4L548.4 150.5L549.1 149.6L549.7 148.7M548.6 149.5L549.2 148.6L549.8 147.7M548.7 148.3L549.4 147.5L550.0 146.6M548.9 147.1L549.5 146.2L550.2 145.3M549.0 145.8L549.7 144.9L550.4 144.1M549.3 144.0L550.0 143.2L550.7 142.3M548.7 141.2L549.7 140.6L550.5 139.9L551.2 139.0" fill="none" stroke="#24dec0" stroke-width="0.95" stroke-linecap="round"/>
<path d="M548.6 152.5L549.2 151.6L549.8 150.6L550.3 149.7L550.9 148.7M549.3 150.7L549.9 149.8L550.5 148.8L551.1 147.9L551.7 146.9M549.5 149.7L550.1 148.8L550.7 147.8L551.3 146.9L551.9 146.0M549.7 148.7L550.3 147.8L550.9 146.9L551.5 145.9L552.1 145.0M549.8 147.7L550.4 146.8L551.1 145.9L551.7 145.0L552.3 144.1M550.0 146.6L550.6 145.7L551.3 144.8L551.9 143.9L552.5 143.0M550.2 145.3L550.8 144.4L551.5 143.5L552.2 142.7L552.8 141.8M550.4 144.1L551.1 143.2L551.7 142.3L552.4 141.4L553.1 140.6M550.7 142.3L551.4 141.5L552.1 140.6L552.8 139.7L553.4 138.9M551.2 139.0L551.9 138.2L552.7 137.4L553.4 136.6L554.1 135.8" fill="none" stroke="#24e4c0" stroke-width="0.95" stroke-linecap="round"/>
<path d="M550.9 148.7L551.5 147.8L552.1 146.9L552.7 145.9L553.3 145.0L553.9 144.1L554.5 143.2L555.2 142.3M551.7 146.9L552.3 146.0L552.9 145.1L553.5 144.2L554.1 143.3L554.8 142.4L555.5 141.5M551.9 146.0L552.5 145.1L553.1 144.2L553.8 143.3L554.4 142.4L555.0 141.5L555.7 140.6M552.1 145.0L552.7 144.1L553.4 143.2L554.0 142.3L554.7 141.4L555.3 140.6L556.0 139.7M552.3 144.1L552.9 143.2L553.6 142.3L554.3 141.4L554.9 140.5L555.6 139.6L556.3 138.8M552.5 143.0L553.2 142.1L553.9 141.2L554.5 140.3L555.2 139.5L555.9 138.6L556.6 137.8M552.8 141.8L553.5 140.9L554.2 140.0L554.8 139.2L555.5 138.3L556.2 137.5L556.9 136.6M553.1 140.6L553.7 139.7L554.4 138.9L555.1 138.0L555.9 137.2L556.6 136.3L557.3 135.5M553.4 138.9L554.1 138.0L554.9 137.2L555.6 136.4L556.3 135.5L557.0 134.7L557.8 133.9M554.1 135.8L554.9 134.9L555.6 134.1L556.4 133.3L557.1 132.5L557.9 131.7L558.7 130.9" fill="none" stroke="#24e4ba" stroke-width="0.95" stroke-linecap="round"/>
<path d="M555.2 142.3L556.1 141.6L556.9 140.9L557.8 140.3L558.7 139.6L559.5 138.9L560.5 138.3L561.5 137.9L562.5 137.5M555.5 141.5L556.3 140.8L557.2 140.1L558.0 139.4L558.9 138.8L559.8 138.1L560.7 137.5L561.7 137.1L562.7 136.6M555.7 140.6L556.6 139.9L557.4 139.2L558.3 138.5L559.1 137.8L560.0 137.1L560.9 136.5L561.9 136.1L562.9 135.6M556.0 139.7L556.8 139.0L557.7 138.3L558.5 137.6L559.4 136.9L560.3 136.2L561.2 135.6L562.2 135.1L563.1 134.6M556.3 138.8L557.1 138.1L557.9 137.3L558.8 136.7L559.7 136.0L560.5 135.3L561.4 134.7L562.4 134.1L563.4 133.6M556.6 137.8L557.4 137.0L558.2 136.3L559.1 135.6L560.0 134.9L560.8 134.2L561.7 133.6L562.7 133.1L563.6 132.5M556.9 136.6L557.7 135.9L558.6 135.1L559.4 134.4L560.3 133.7L561.1 133.0L562.0 132.4L563.0 131.8L563.9 131.3M557.3 135.5L558.1 134.7L558.9 134.0L559.7 133.3L560.6 132.6L561.4 131.9L562.3 131.2L563.2 130.6L564.2 130.0M557.8 133.9L558.5 133.1L559.3 132.4L560.2 131.7L561.0 130.9L561.9 130.2L562.8 129.6L563.7 128.9L564.5 128.3M558.7 130.9L559.4 130.1L560.2 129.3L561.0 128.6L561.9 127.9L562.7 127.2L563.6 126.5L564.4 125.8L565.2 125.1" fill="none" stroke="#24e4b4" stroke-width="0.95" stroke-linecap="round"/>
<path d="M562.5 137.5L563.5 137.1L564.6 136.7L565.6 136.4L566.7 136.2L567.8 135.9L568.9 135.7L570.0 135.5L571.1 135.3L572.1 135.1L573.2 134.8L574.3 134.6L575.4 134.4L576.5 134.1L577.5 133.9L578.6 133.7L579.7 133.5L580.8 133.3L581.9 133.1L583.0 132.9L584.1 132.8L585.2 132.6L586.3 132.4L587.4 132.2L588.5 132.3L589.5 132.5L590.6 132.6L591.7 132.8L592.8 132.9L593.9 133.1L595.0 133.2L596.1 133.4L597.2 133.6L598.3 133.9L599.3 134.2L600.4 134.6L601.4 134.9L602.5 135.3L603.5 135.6L604.6 135.9L605.6 136.3L606.6 136.7L607.5 137.4L608.4 138.1L609.3 138.7L610.2 139.4L611.0 140.0L611.9 140.7L612.8 141.4L613.7 142.0L614.6 142.7L615.4 143.4L616.1 144.3L616.9 145.1L617.6 145.9L618.4 146.7L619.1 147.6L619.8 148.4L620.6 149.2L621.3 150.1L622.0 150.9L622.7 151.7L623.4 152.6L624.1 153.4L624.8 154.3L625.7 155.0L626.6 155.6L627.5 156.3M562.7 136.6L563.7 136.2L564.7 135.7L565.8 135.4L566.8 135.2L567.9 134.9L569.0 134.7L570.1 134.4L571.1 134.2L572.2 134.0L573.3 133.7L574.4 133.5L575.5 133.3L576.5 133.0L577.6 132.8L578.7 132.6L579.8 132.4L580.9 132.2L582.0 132.0L583.1 131.8L584.2 131.7L585.2 131.5L586.3 131.3L587.4 131.1L588.5 131.2L589.6 131.3L590.7 131.5L591.8 131.6L592.9 131.8L594.0 131.9L595.1 132.1L596.2 132.3L597.3 132.5L598.3 132.8L599.3 133.2L600.4 133.5L601.4 133.9L602.5 134.2L603.5 134.6L604.6 134.9L605.6 135.3L606.6 135.7L607.5 136.4L608.4 137.1L609.3 137.7L610.2 138.4L611.1 139.0L612.0 139.7L612.8 140.4L613.7 141.0L614.6 141.7L615.4 142.5L616.1 143.3L616.9 144.1L617.6 144.9L618.3 145.8L619.1 146.6L619.8 147.4L620.5 148.2L621.2 149.1L621.9 149.9L622.7 150.8L623.4 151.6L624.1 152.5L624.8 153.3L625.7 154.0L626.6 154.6L627.5 155.3M562.9 135.6L563.9 135.2L564.9 134.7L565.9 134.3L567.0 134.0L568.0 133.7L569.1 133.5L570.2 133.2L571.2 133.0L572.3 132.7L573.4 132.5L574.5 132.3L575.5 132.0L576.6 131.8L577.7 131.6L578.8 131.3L579.9 131.1L581.0 130.9L582.0 130.8L583.1 130.6L584.2 130.4L585.3 130.2L586.4 130.0L587.5 129.9L588.6 129.9L589.7 130.1L590.8 130.2L591.9 130.3L593.0 130.4L594.1 130.6L595.2 130.8L596.2 131.0L597.3 131.2L598.3 131.6L599.4 131.9L600.4 132.3L601.5 132.7L602.5 133.0L603.6 133.4L604.6 133.8L605.6 134.1L606.6 134.6L607.5 135.3L608.4 135.9L609.3 136.6L610.2 137.2L611.1 137.9L612.0 138.5L612.8 139.2L613.7 139.9L614.6 140.6L615.4 141.3L616.1 142.2L616.8 143.0L617.6 143.8L618.3 144.6L619.0 145.5L619.8 146.3L620.5 147.1L621.2 148.0L621.9 148.8L622.6 149.7L623.3 150.5L624.1 151.3L624.8 152.2L625.7 152.8L626.6 153.5M563.1 134.6L564.1 134.1L565.1 133.6L566.1 133.2L567.1 132.9L568.1 132.6L569.2 132.3L570.2 132.0L571.3 131.8L572.4 131.5L573.5 131.3L574.6 131.0L575.6 130.8L576.7 130.5L577.8 130.3L578.9 130.1L580.0 129.9L581.0 129.7L582.1 129.5L583.2 129.3L584.3 129.1L585.4 129.0L586.5 128.8L587.6 128.6L588.7 128.7L589.8 128.8L590.9 128.9L592.0 129.0L593.1 129.1L594.2 129.2L595.2 129.5L596.3 129.7L597.4 130.0L598.4 130.3L599.4 130.7L600.5 131.1L601.5 131.5L602.5 131.8L603.6 132.2L604.6 132.6L605.6 133.0L606.6 133.5L607.5 134.1L608.4 134.8L609.3 135.4L610.2 136.0L611.1 136.7L612.0 137.4L612.8 138.1L613.7 138.7L614.5 139.4L615.3 140.2L616.1 141.0L616.8 141.9L617.5 142.7L618.3 143.5L619.0 144.3L619.7 145.2L620.4 146.0L621.1 146.9L621.8 147.7L622.5 148.6L623.3 149.4L624.0 150.2L624.8 151.0L625.6 151.7L626.5 152.3M563.4 133.6L564.3 133.1L565.3 132.6L566.2 132.1L567.2 131.8L568.2 131.4L569.3 131.1L570.3 130.8L571.4 130.5L572.5 130.3L573.6 130.0L574.6 129.8L575.7 129.5L576.8 129.3L577.9 129.0L578.9 128.8L580.0 128.6L581.1 128.4L582.2 128.2L583.3 128.1L584.4 127.9L585.5 127.7L586.6 127.5L587.7 127.4L588.8 127.4L589.9 127.5L591.0 127.6L592.1 127.7L593.1 127.7L594.2 127.9L595.3 128.2L596.4 128.4L597.4 128.7L598.4 129.1L599.5 129.5L600.5 129.9L601.5 130.3L602.6 130.7L603.6 131.1L604.6 131.5L605.6 131.9L606.6 132.4L607.5 133.0L608.4 133.6L609.3 134.3L610.2 134.9L611.1 135.5L612.0 136.2L612.8 136.9L613.7 137.6L614.5 138.3L615.3 139.1L616.0 139.9L616.8 140.7L617.5 141.6L618.2 142.4L619.0 143.2L619.7 144.1L620.4 144.9L621.1 145.8L621.8 146.6L622.5 147.5L623.2 148.3L624.0 149.1L624.8 149.9L625.6 150.5L626.5 151.2M563.6 132.5L564.5 132.0L565.5 131.4L566.4 130.9L567.4 130.5L568.4 130.0L569.4 129.7L570.4 129.4L571.5 129.2L572.6 128.9L573.7 128.7L574.7 128.4L575.8 128.1L576.9 127.9L578.0 127.6L579.0 127.4L580.1 127.2L581.2 127.0L582.3 126.8L583.4 126.6L584.5 126.4L585.6 126.3L586.7 126.1L587.8 125.9L588.8 126.0L589.9 126.0L591.0 126.1L592.1 126.2L593.2 126.2L594.3 126.4L595.4 126.7L596.4 127.0L597.5 127.3L598.5 127.7L599.5 128.1L600.5 128.5L601.6 128.9L602.6 129.3L603.6 129.7L604.6 130.2L605.6 130.6L606.6 131.1L607.5 131.7L608.4 132.3L609.3 133.0L610.2 133.6L611.2 134.2L612.0 134.9L612.9 135.6L613.7 136.3L614.5 137.0L615.3 137.8L616.0 138.6L616.8 139.5L617.5 140.3L618.2 141.1L618.9 142.0L619.6 142.8L620.3 143.7L621.0 144.5L621.7 145.4L622.4 146.2L623.2 147.0L624.0 147.8L624.7 148.6L625.6 149.3L626.5 149.9M563.9 131.3L564.8 130.7L565.7 130.1L566.6 129.6L567.6 129.1L568.5 128.6L569.5 128.2L570.6 127.9L571.6 127.6L572.7 127.4L573.8 127.1L574.8 126.8L575.9 126.6L577.0 126.3L578.1 126.1L579.1 125.8L580.2 125.6L581.3 125.4L582.4 125.2L583.5 125.1L584.6 124.9L585.7 124.7L586.8 124.5L587.8 124.4L588.9 124.4L590.0 124.4L591.1 124.5L592.2 124.5L593.3 124.6L594.4 124.7L595.5 125.0L596.5 125.4L597.5 125.7L598.6 126.1L599.6 126.6L600.6 127.0L601.6 127.4L602.6 127.8L603.6 128.3L604.6 128.7L605.6 129.2L606.6 129.7L607.5 130.3L608.4 130.9L609.4 131.5L610.3 132.1L611.2 132.7L612.1 133.4L612.9 134.2L613.7 134.9L614.5 135.6L615.3 136.4L616.0 137.2L616.7 138.1L617.5 138.9L618.2 139.7L618.9 140.6L619.6 141.4L620.3 142.3L621.0 143.1L621.7 144.0L622.4 144.9L623.1 145.7L623.9 146.4L624.7 147.2L625.6 147.8L626.5 148.5M564.2 130.0L565.0 129.4L565.9 128.8L566.8 128.2L567.7 127.6L568.6 127.1L569.6 126.7L570.7 126.4L571.8 126.1L572.8 125.8L573.9 125.6L575.0 125.3L576.0 125.0L577.1 124.7L578.2 124.5L579.2 124.3L580.3 124.1L581.4 123.9L582.5 123.7L583.6 123.5L584.7 123.3L585.8 123.1L586.9 122.9L587.9 122.8L589.0 122.8L590.1 122.8L591.2 122.8L592.3 122.9L593.4 122.9L594.5 123.0L595.5 123.4L596.6 123.8L597.6 124.1L598.6 124.6L599.6 125.0L600.6 125.5L601.6 125.9L602.7 126.3L603.6 126.8L604.6 127.3L605.6 127.7L606.6 128.3L607.5 128.9L608.4 129.5L609.4 130.1L610.3 130.7L611.2 131.3L612.1 132.0L612.9 132.7L613.7 133.5L614.5 134.2L615.2 135.0L616.0 135.8L616.7 136.7L617.4 137.5L618.1 138.3L618.8 139.2L619.5 140.0L620.2 140.9L620.9 141.8L621.6 142.6L622.3 143.5L623.1 144.3L623.9 145.0L624.7 145.7L625.6 146.4L626.5 147.0M564.5 128.3L565.4 127.6L566.2 126.9L567.1 126.3L568.0 125.7L568.8 125.0L569.8 124.6L570.8 124.3L571.9 124.0L573.0 123.7L574.0 123.4L575.1 123.1L576.2 122.8L577.2 122.5L578.3 122.3L579.4 122.1L580.5 121.9L581.6 121.7L582.6 121.5L583.7 121.3L584.8 121.1L585.9 120.9L587.0 120.7L588.1 120.6L589.2 120.6L590.3 120.6L591.4 120.6L592.5 120.6L593.6 120.6L594.7 120.7L595.7 121.1L596.7 121.5L597.7 122.0L598.7 122.4L599.7 122.9L600.7 123.3L601.7 123.8L602.7 124.3L603.7 124.7L604.7 125.2L605.6 125.8L606.6 126.3L607.5 126.9L608.5 127.5L609.4 128.0L610.3 128.6L611.3 129.2L612.1 129.9L612.9 130.7L613.7 131.5L614.4 132.2L615.2 133.0L615.9 133.9L616.7 134.7L617.4 135.5L618.1 136.4L618.8 137.2L619.5 138.1L620.2 139.0L620.8 139.8L621.5 140.7L622.2 141.6L623.0 142.3L623.8 143.0L624.7 143.7L625.6 144.4L626.4 145.0M565.2 125.1L566.0 124.3L566.8 123.5L567.6 122.7L568.4 122.0L569.2 121.2L570.1 120.7L571.2 120.3L572.2 120.0L573.3 119.7L574.3 119.4L575.4 119.1L576.4 118.8L577.5 118.4L578.6 118.2L579.7 118.0L580.7 117.8L581.8 117.6L582.9 117.4L584.0 117.2L585.1 117.0L586.2 116.8L587.2 116.6L588.3 116.5L589.4 116.4L590.5 116.4L591.6 116.3L592.8 116.3L593.9 116.2L594.9 116.4L595.9 116.9L596.9 117.4L597.9 117.9L598.8 118.4L599.8 118.9L600.8 119.4L601.8 119.9L602.8 120.4L603.7 120.9L604.7 121.5L605.6 122.1L606.6 122.6L607.5 123.2L608.5 123.7L609.4 124.3L610.4 124.9L611.3 125.4L612.2 126.1L612.9 126.9L613.6 127.8L614.4 128.6L615.1 129.4L615.9 130.2L616.6 131.0L617.3 131.9L618.0 132.8L618.7 133.6L619.3 134.5L620.0 135.4L620.7 136.2L621.4 137.1L622.0 138.0L622.9 138.7L623.7 139.4L624.6 140.0L625.5 140.7L626.4 141.3" fill="none" stroke="#24eab4" stroke-width="0.95" stroke-linecap="round"/>
<path d="M627.5 156.3L628.4 156.9L629.3 157.5L630.2 158.2L631.2 158.7M627.5 155.3L628.4 155.9L629.3 156.5L630.2 157.1L631.2 157.6M626.6 153.5L627.5 154.1L628.4 154.7L629.3 155.3L630.2 155.9L631.2 156.4M626.5 152.3L627.4 153.0L628.3 153.6L629.3 154.2L630.2 154.7L631.2 155.2M626.5 151.2L627.4 151.8L628.3 152.5L629.3 153.0L630.2 153.5L631.2 154.0M626.5 149.9L627.4 150.5L628.3 151.2L629.3 151.7L630.2 152.2L631.3 152.6M626.5 148.5L627.4 149.1L628.3 149.8L629.3 150.2L630.3 150.7L631.3 151.1M626.5 147.0L627.4 147.7L628.3 148.3L629.3 148.8L630.3 149.2L631.3 149.6M626.4 145.0L627.3 145.7L628.2 146.3L629.3 146.7L630.3 147.1L631.3 147.5M626.4 141.3L627.3 142.0L628.2 142.6L629.2 142.9L630.3 143.2L631.4 143.5" fill="none" stroke="#24eaae" stroke-width="0.95" stroke-linecap="round"/>
<path d="M631.2 158.7L632.2 159.0M631.2 157.6L632.2 158.0M631.2 156.4L632.3 156.8M631.2 155.2L632.3 155.5M631.2 154.0L632.3 154.3M631.3 152.6L632.3 153.0M631.3 151.1L632.3 151.4M631.3 149.6L632.3 149.9M631.3 147.5L632.4 147.8M631.4 143.5L632.4 143.8" fill="none" stroke="#24eaa8" stroke-width="0.95" stroke-linecap="round"/>
<path d="M632.2 159.0L633.3 159.4L634.3 159.8L635.3 160.2L636.4 160.6M632.2 158.0L633.3 158.3L634.3 158.7L635.4 159.1L636.4 159.5M632.3 156.8L633.3 157.1L634.3 157.5L635.4 157.8L636.4 158.2M632.3 155.5L633.3 155.9L634.4 156.2L635.4 156.6L636.4 157.0M632.3 154.3L633.3 154.7L634.4 155.0L635.4 155.3L636.5 155.7M632.3 153.0L633.4 153.3L634.4 153.6L635.5 153.9M632.3 151.4L633.4 151.8L634.4 152.1L635.5 152.4M632.3 149.9L633.4 150.2L634.5 150.5L635.5 150.8M632.4 147.8L633.4 148.1L634.5 148.4L635.6 148.7M632.4 143.8L633.5 144.1L634.6 144.4L635.6 144.6L636.7 144.9" fill="none" stroke="#2aeaa8" stroke-width="0.95" stroke-linecap="round"/>
<path d="M636.4 160.6L637.4 161.0L638.4 161.5L639.4 162.0L640.3 162.6M636.4 159.5L637.4 159.9L638.4 160.4L639.4 160.8L640.4 161.4M636.4 158.2L637.4 158.7L638.4 159.1L639.5 159.5L640.4 160.1M636.4 157.0L637.5 157.4L638.5 157.8L639.5 158.2L640.5 158.8M636.5 155.7L637.5 156.1L638.5 156.5L639.5 156.9L640.5 157.4M635.5 153.9L636.5 154.3L637.5 154.7L638.6 155.1L639.6 155.4L640.6 155.9M635.5 152.4L636.5 152.8L637.6 153.1L638.6 153.5L639.7 153.8L640.6 154.3M635.5 150.8L636.6 151.2L637.6 151.5L638.7 151.9L639.7 152.2L640.7 152.6M635.6 148.7L636.6 149.0L637.7 149.3L638.7 149.6L639.8 149.9L640.8 150.3M636.7 144.9L637.8 145.2L638.9 145.4L639.9 145.7L641.0 146.0" fill="none" stroke="#2aeaa2" stroke-width="0.95" stroke-linecap="round"/>
<path d="M640.3 162.6L641.2 163.2L642.2 163.8L643.1 164.4L644.0 165.0L644.6 165.9M640.4 161.4L641.3 162.0L642.2 162.6L643.1 163.2L644.1 163.8L644.7 164.7M640.4 160.1L641.3 160.7L642.3 161.3L643.2 161.9L644.1 162.4L644.8 163.3M640.5 158.8L641.4 159.3L642.3 159.9L643.3 160.5L644.2 161.1L644.9 161.9M640.5 157.4L641.5 158.0L642.4 158.6L643.3 159.2L644.3 159.7L645.0 160.5M640.6 155.9L641.5 156.5L642.5 157.1L643.4 157.6L644.4 158.2L645.1 158.9M640.6 154.3L641.6 154.8L642.5 155.4L643.5 155.9L644.5 156.5L645.3 157.2M640.7 152.6L641.7 153.2L642.6 153.7L643.6 154.2L644.5 154.8L645.4 155.5M640.8 150.3L641.8 150.8L642.7 151.4L643.7 151.9L644.7 152.4L645.6 153.0M641.0 146.0L642.0 146.5L642.9 147.0L643.9 147.5L644.9 148.0L645.9 148.5" fill="none" stroke="#2aea9c" stroke-width="0.95" stroke-linecap="round"/>
<path d="M644.6 165.9L645.3 166.8L645.9 167.7L646.6 168.6L647.2 169.5M644.7 164.7L645.4 165.6L646.0 166.4L646.7 167.3L647.3 168.2M644.8 163.3L645.5 164.1L646.2 165.0L646.8 165.9L647.5 166.8M644.9 161.9L645.6 162.7L646.3 163.6L647.0 164.5L647.6 165.3M645.0 160.5L645.8 161.3L646.5 162.1L647.1 163.0L647.8 163.9M645.1 158.9L645.9 159.7L646.6 160.5L647.3 161.4L647.9 162.3M645.3 157.2L646.1 157.9L646.8 158.7L647.5 159.6L648.1 160.5M645.4 155.5L646.2 156.1L647.0 156.9L647.7 157.8L648.3 158.7M645.6 153.0L646.5 153.6L647.2 154.4L647.9 155.2L648.6 156.1M645.9 148.5L646.9 149.0L647.7 149.7L648.4 150.6L649.1 151.4" fill="none" stroke="#2aea96" stroke-width="0.95" stroke-linecap="round"/>
<path d="M647.2 169.5L647.8 170.4L648.4 171.3L649.1 172.3L649.7 173.2L650.3 174.1M647.3 168.2L648.0 169.1L648.6 170.1L649.2 171.0L649.8 171.9L650.4 172.8M647.5 166.8L648.1 167.7L648.7 168.6L649.4 169.5L650.0 170.4L650.6 171.4M647.6 165.3L648.3 166.2L648.9 167.1L649.5 168.1L650.2 169.0L650.8 169.9M647.8 163.9L648.4 164.8L649.1 165.7L649.7 166.6L650.3 167.5L651.0 168.4M647.9 162.3L648.6 163.2L649.2 164.1L649.9 165.0L650.5 165.9L651.2 166.8M648.1 160.5L648.8 161.3L649.4 162.2L650.1 163.1L650.7 164.0L651.4 164.9M648.3 158.7L649.0 159.5L649.6 160.4L650.3 161.3L651.0 162.2L651.6 163.1M648.6 156.1L649.3 157.0L649.9 157.9L650.6 158.7L651.3 159.6L651.9 160.5M649.1 151.4L649.8 152.3L650.5 153.1L651.1 154.0L651.8 154.9L652.5 155.7" fill="none" stroke="#2aea90" stroke-width="0.95" stroke-linecap="round"/>
<path d="M650.3 174.1L650.9 175.0L651.5 176.0L652.0 176.9L652.6 177.9M650.4 172.8L651.0 173.8L651.6 174.7L652.2 175.6L652.7 176.6M650.6 171.4L651.2 172.3L651.8 173.2L652.3 174.2L652.9 175.1M650.8 169.9L651.4 170.8L651.9 171.8L652.5 172.7L653.0 173.7M651.0 168.4L651.5 169.4L652.1 170.3L652.6 171.3L653.2 172.2M651.2 166.8L651.7 167.7L652.3 168.7L652.8 169.6L653.4 170.6M651.4 164.9L651.9 165.9L652.5 166.8L653.0 167.8L653.5 168.8M651.6 163.1L652.2 164.0L652.7 165.0L653.2 166.0L653.7 166.9M651.9 160.5L652.5 161.5L653.0 162.4L653.5 163.4L654.0 164.4M652.5 155.7L653.0 156.7L653.5 157.7L654.0 158.7L654.5 159.7" fill="none" stroke="#2aea8a" stroke-width="0.95" stroke-linecap="round"/>
<path d="M652.6 177.9L653.1 178.8L653.7 179.8L654.2 180.7L654.8 181.7M652.7 176.6L653.3 177.6L653.8 178.5L654.4 179.5L654.9 180.4M652.9 175.1L653.4 176.1L654.0 177.1L654.5 178.0L655.1 179.0M653.0 173.7L653.6 174.6L654.1 175.6L654.6 176.6L655.2 177.5M653.2 172.2L653.7 173.2L654.3 174.2L654.8 175.1L655.3 176.1M653.4 170.6L653.9 171.6L654.4 172.5L654.9 173.5L655.5 174.5M653.5 168.8L654.1 169.7L654.6 170.7L655.1 171.7L655.6 172.6M653.7 166.9L654.3 167.9L654.8 168.9L655.3 169.9L655.8 170.8M654.0 164.4L654.5 165.4L655.0 166.4L655.5 167.3L656.1 168.3M654.5 159.7L655.0 160.6L655.5 161.6L656.0 162.6L656.5 163.6" fill="none" stroke="#2aea84" stroke-width="0.95" stroke-linecap="round"/>
<path d="M654.8 181.7L655.6 181.4M654.9 180.4L655.8 180.1M655.1 179.0L656.0 178.6M655.2 177.5L656.2 177.2M655.3 176.1L656.3 175.7M655.5 174.5L656.6 174.0M655.6 172.6L656.8 172.2M655.8 170.8L657.0 170.4M656.1 168.3L657.4 167.8M656.5 163.6L658.0 163.0" fill="none" stroke="#60c05a" stroke-width="0.95" stroke-linecap="round"/>
<path d="M655.6 181.4L656.3 180.6M655.8 180.1L656.5 179.2M656.0 178.6L656.8 177.7M656.2 177.2L657.1 176.2M656.3 175.7L657.3 174.6M656.6 174.0L657.6 172.9M656.8 172.2L658.0 170.9M657.0 170.4L658.3 169.0M657.4 167.8L658.7 166.3M658.0 163.0L659.6 161.3" fill="none" stroke="#c65a36" stroke-width="0.95" stroke-linecap="round"/>
<path d="M520.4 173.1L520.9 172.1M520.1 171.7L520.7 170.7M519.8 170.1L520.4 169.2M519.5 168.3L520.1 167.4M519.2 166.6L519.8 165.7M518.8 164.1L519.4 163.3" fill="none" stroke="#1e8af0" stroke-width="0.95" stroke-linecap="round"/>
<path d="M517.6 89.4L519.8 89.0" fill="none" stroke="#1854ea" stroke-width="1.25" stroke-linecap="round"/>
<path d="M519.8 89.0L522.0 88.6M551.2 52.6L551.6 54.5" fill="none" stroke="#1e84f0" stroke-width="1.25" stroke-linecap="round"/>
<path d="M522.0 88.6L524.0 88.5" fill="none" stroke="#1ea2f0" stroke-width="1.25" stroke-linecap="round"/>
<path d="M524.0 88.5L525.9 88.3M516.5 114.3L518.1 113.5M516.5 135.5L518.0 134.2M536.5 68.4L538.1 69.2M546.7 59.6L547.8 61.1" fill="none" stroke="#1eaef0" stroke-width="1.25" stroke-linecap="round"/>
<path d="M525.9 88.3L527.9 88.2M518.1 113.5L519.6 112.8M518.0 134.2L519.5 132.8M519.9 147.2L521.0 146.1M538.1 69.2L539.6 70.1M551.6 54.5L552.0 56.5" fill="none" stroke="#1ebaea" stroke-width="1.25" stroke-linecap="round"/>
<path d="M527.9 88.2L529.6 88.3L531.3 88.3M519.6 112.8L521.2 112.0L522.9 111.4M519.5 132.8L521.0 131.5M521.0 146.1L522.2 145.0L523.8 144.0M539.6 70.1L541.2 71.0M547.8 61.1L548.8 62.6" fill="none" stroke="#1ec0ea" stroke-width="1.25" stroke-linecap="round"/>
<path d="M531.3 88.3L533.0 88.4M522.9 111.4L524.5 110.8M521.0 131.5L522.7 130.6M541.2 71.0L542.8 72.0M552.7 57.9L552.9 59.6M552.8 51.4L553.0 53.5" fill="none" stroke="#1ec6ea" stroke-width="1.25" stroke-linecap="round"/>
<path d="M533.0 88.4L534.6 88.7M524.5 110.8L526.2 110.3M522.7 130.6L524.5 129.8M523.8 144.0L525.4 143.0" fill="none" stroke="#1ec6e4" stroke-width="1.25" stroke-linecap="round"/>
<path d="M534.6 88.7L536.2 88.9M524.5 129.8L526.2 128.9M525.4 143.0L527.0 142.0M542.8 72.0L544.4 72.9M548.8 62.6L549.9 64.2M552.0 56.5L553.0 58.8" fill="none" stroke="#1ecce4" stroke-width="1.25" stroke-linecap="round"/>
<path d="M536.2 88.9L537.8 89.2M527.9 109.7L529.5 109.5M526.2 128.9L527.9 128.0M544.4 72.9L545.9 73.9M552.9 59.6L553.7 61.3" fill="none" stroke="#24ccde" stroke-width="1.25" stroke-linecap="round"/>
<path d="M537.8 89.2L539.4 89.4M529.5 109.5L531.2 109.4M527.9 128.0L529.5 127.6M528.7 141.2L530.4 140.4M549.9 64.2L550.9 65.7M553.0 53.5L553.2 55.5" fill="none" stroke="#24d2de" stroke-width="1.25" stroke-linecap="round"/>
<path d="M539.4 89.4L541.2 89.8M531.2 109.4L532.8 109.2M529.5 127.6L531.2 127.2M530.4 140.4L532.0 139.7L533.7 138.9M545.9 73.9L547.5 74.8" fill="none" stroke="#24d2d8" stroke-width="1.25" stroke-linecap="round"/>
<path d="M541.2 89.8L543.1 90.2M532.8 109.2L534.5 109.0M531.2 127.2L532.8 126.8M553.0 58.8L554.5 57.4" fill="none" stroke="#24d2d2" stroke-width="1.25" stroke-linecap="round"/>
<path d="M543.1 90.2L544.9 90.5L546.8 90.9M534.5 109.0L536.1 108.8L537.8 108.7M532.8 126.8L534.5 126.4L536.1 126.0M533.7 138.9L535.3 138.4L536.9 137.9M547.5 74.8L549.1 75.8L550.6 76.8M550.9 65.7L552.0 67.2M553.7 61.3L554.5 63.1" fill="none" stroke="#24d8d2" stroke-width="1.25" stroke-linecap="round"/>
<path d="M546.8 90.9L548.6 91.3L550.1 91.9M537.8 108.7L539.4 108.5L541.0 108.6M536.1 126.0L537.8 125.6L539.4 125.2M536.9 137.9L538.4 137.3L540.0 136.8L541.9 136.3M550.6 76.8L552.1 77.9M552.0 67.2L553.3 68.5M554.5 57.4L556.0 56.0M553.2 55.5L555.5 53.5" fill="none" stroke="#24d8cc" stroke-width="1.25" stroke-linecap="round"/>
<path d="M550.1 91.9L551.7 92.4M541.0 108.6L542.7 108.7M539.4 125.2L541.2 124.8M552.1 77.9L553.7 78.9M554.5 63.1L555.3 64.8" fill="none" stroke="#24decc" stroke-width="1.25" stroke-linecap="round"/>
<path d="M551.7 92.4L553.2 93.0L555.5 93.6L557.8 94.2M542.7 108.7L544.3 108.8L546.0 109.0L547.6 109.1L549.3 109.2M541.2 124.8L543.1 124.5L544.9 124.1L546.8 123.8M541.9 136.3L543.7 135.9L545.5 135.4L547.4 134.9M553.7 78.9L555.2 80.0L556.7 81.0M553.3 68.5L554.6 69.8L555.9 71.1M555.3 64.8L557.1 64.6M556.0 56.0L556.8 54.3M555.5 53.5L557.0 52.4" fill="none" stroke="#24dec6" stroke-width="1.25" stroke-linecap="round"/>
<path d="M557.8 94.2L558.8 92.9M549.3 109.2L550.9 109.3M546.8 123.8L548.6 123.4M547.4 134.9L549.2 133.7M556.7 81.0L558.4 81.2" fill="none" stroke="#24dec0" stroke-width="1.25" stroke-linecap="round"/>
<path d="M558.8 92.9L559.9 91.6L561.0 90.3L562.0 89.0M550.9 109.3L552.9 109.2L554.9 109.1M548.6 123.4L550.3 122.8L552.0 122.3L553.3 121.1M549.2 133.7L551.1 132.4L552.2 131.2L553.2 129.9M558.4 81.2L560.0 81.3L561.7 80.9M555.9 71.1L557.2 72.4M557.1 64.6L558.8 64.3M556.8 54.3L557.6 52.6M557.0 52.4L558.5 51.3" fill="none" stroke="#24e4c0" stroke-width="1.25" stroke-linecap="round"/>
<path d="M562.0 89.0L563.1 87.8L564.3 86.5L565.5 85.3L566.6 84.1M554.9 109.1L555.9 107.6L556.9 106.1L558.0 104.5L559.0 103.0M553.3 121.1L554.6 119.9L556.0 118.6L557.3 117.4L558.6 116.2M553.2 129.9L554.3 128.7L555.4 127.4L556.5 126.2L557.5 124.9M561.7 80.9L563.4 80.6L564.8 79.7L566.1 78.8M557.2 72.4L558.3 71.0L559.5 69.5M558.8 64.3L560.6 64.1M557.6 52.6L558.4 51.0M558.5 51.3L560.0 50.2" fill="none" stroke="#24e4ba" stroke-width="1.25" stroke-linecap="round"/>
<path d="M566.6 84.1L567.8 82.8L568.9 81.6L570.4 80.8L572.0 80.0L573.5 79.3M559.0 103.0L560.0 101.5L561.0 100.2L562.0 98.9L563.0 97.6L564.0 96.3M558.6 116.2L559.7 114.9L560.7 113.6L561.8 112.3L562.9 111.1L563.9 109.8M557.5 124.9L558.6 123.7L559.9 122.5L561.2 121.2L562.4 120.0L563.7 118.7M566.1 78.8L567.5 77.9L568.9 77.1L570.3 76.2L571.6 75.3M559.5 69.5L560.6 68.1M560.6 64.1L561.6 62.8L562.5 61.5M558.4 51.0L559.2 49.3M560.0 50.2L561.2 49.0L562.3 47.8" fill="none" stroke="#24e4b4" stroke-width="1.25" stroke-linecap="round"/>
<path d="M573.5 79.3L575.0 78.5L576.6 78.1L578.1 77.7L579.7 77.3L581.3 76.9L582.9 76.5L584.5 76.1L586.0 75.7L587.6 75.3L589.2 74.8L590.8 74.2L592.5 73.7L594.1 73.1L595.7 72.6L597.1 73.4L598.6 74.2L600.0 75.0L601.5 75.8L602.9 76.5L604.3 77.3L605.8 78.1L607.2 78.9L608.7 79.7L610.1 80.5L611.1 81.8L612.2 83.1L613.2 84.4L614.3 85.7L615.4 87.0L616.4 88.2L617.5 89.5L618.5 90.8L619.6 92.1L620.6 93.4L623.0 94.4L624.7 94.1L626.5 93.7M564.0 96.3L565.0 95.0L566.2 93.8L567.5 92.7L568.7 91.5L569.9 90.4L571.2 89.2L572.4 88.1L574.1 88.0L575.7 87.8L577.4 87.7L579.0 87.5L580.7 87.4L582.3 87.2L584.0 87.1L585.6 86.9L587.3 86.8L589.0 86.7L590.8 86.6L592.5 86.5L594.3 86.4L595.9 87.2L597.5 88.1L599.1 89.0L600.8 89.8L602.4 90.7L604.0 91.5L605.4 92.4L606.8 93.4L608.2 94.3L609.5 95.2L610.9 96.1L612.3 97.1L613.7 98.0L614.8 99.3L615.9 100.6L616.9 101.9L618.0 103.2L619.1 104.6L620.1 105.9L621.2 107.2L622.3 108.5L624.2 109.5L626.2 110.4L627.8 110.4L629.5 110.4L631.1 110.4L632.7 110.4L634.4 110.4M563.9 109.8L565.0 108.5L566.3 107.2L567.6 105.9L568.9 104.7L570.2 103.4L571.5 102.1L572.8 100.8L574.4 100.8L576.0 100.7L577.6 100.7L579.2 100.6L580.9 100.6L582.5 100.5L584.1 100.5L585.7 100.4L587.3 100.4L589.2 100.4L591.1 100.4L592.9 100.4L594.8 100.4L596.7 100.4L598.2 101.2L599.7 102.0L601.2 102.8L602.7 103.6L604.2 104.5L605.8 105.3L607.3 106.1L608.8 106.9L610.3 107.7L611.8 108.5L613.1 110.0L614.4 111.5L615.7 113.0L617.0 114.5L618.1 115.8L619.1 117.0L620.2 118.3L621.2 119.5L622.3 120.8L623.7 121.8L625.0 122.9L626.4 124.0L627.8 125.0L629.5 125.5L631.3 126.0L633.0 126.5L634.6 126.8M563.7 118.7L565.0 117.5L566.1 116.0L567.1 114.4L568.2 112.8L569.3 111.3L570.9 111.0L572.6 110.8L574.2 110.5L575.8 110.2L577.5 109.9L579.1 109.7L580.8 109.4L582.4 109.1L584.0 108.8L585.7 108.6L587.3 108.3L588.8 108.8L590.4 109.4L591.9 109.9L593.4 110.4L594.9 110.9L596.5 111.5L598.0 112.0L599.7 112.7L601.4 113.3L603.1 114.0L604.8 114.6L606.5 115.3L608.2 115.9L609.9 116.6L611.1 117.9L612.3 119.2L613.6 120.4L614.8 121.7L616.0 123.0L617.0 124.4L618.1 125.8L619.1 127.2L620.2 128.7L621.2 130.1L622.3 131.5L623.6 132.6L624.9 133.7L626.2 134.7L627.5 135.8L629.3 136.4L631.2 136.9L633.0 137.5M571.6 75.3L573.0 74.4L574.5 73.5L575.9 72.6L577.4 71.7L578.8 70.8L580.3 70.0L581.8 69.1L583.2 68.2L584.7 67.3L586.1 66.4L587.6 65.5L589.1 64.7L590.7 63.8L592.2 63.0L593.7 62.2L595.3 61.3L596.8 60.5L598.2 61.4L599.5 62.2L600.9 63.1L602.2 63.9L603.6 64.8L605.0 65.7L606.3 66.5L607.7 67.4L609.0 68.2L610.4 69.1L611.4 70.4L612.4 71.6L613.5 72.9L614.5 74.2L615.5 75.4L616.5 76.7M560.6 68.1L562.0 67.1L563.4 66.2L564.8 65.2L566.3 64.2L567.7 63.2L569.1 62.3L570.5 61.3L572.0 60.7L573.5 60.1L575.0 59.5L576.5 59.0L578.0 58.4L579.5 57.8L581.0 57.2L582.5 56.6L584.0 56.0L585.4 55.5L586.9 54.9L588.4 54.3L589.9 53.7L591.4 53.1L592.9 52.5L594.4 52.0L595.9 51.4L597.4 50.8L598.9 50.2L600.4 51.4L602.0 52.5L603.5 53.7L605.0 54.9L606.4 55.8L607.8 56.7L609.1 57.7M562.5 61.5L563.5 60.2L564.4 58.9L565.4 57.6L566.4 56.3L567.3 55.0L568.3 53.7L569.2 52.3L570.2 51.0L571.2 49.7L572.1 48.4L573.1 47.1L574.1 45.8L575.0 44.5L576.0 43.2L576.9 41.9L577.9 40.6L579.6 40.7L581.3 40.7L583.1 40.8L584.8 40.9L586.5 40.9L588.2 41.0L589.9 41.0L591.6 41.1L593.4 41.2L595.1 41.2L596.8 41.3M559.2 49.3L560.0 47.6L561.0 46.2L562.0 44.9L563.0 43.5L564.0 42.1L564.9 40.7L565.9 39.4L566.9 38.0L567.9 36.6L569.5 36.6L571.1 36.5L572.8 36.5L574.4 36.4L576.0 36.4L577.6 36.3L579.2 36.2L580.8 36.2L582.4 36.1L584.1 36.1L585.7 36.0L587.3 36.0L588.9 36.8L590.5 37.6L592.0 38.4L593.6 39.2M562.3 47.8L563.5 46.6L564.7 45.4L565.8 44.2L567.0 43.0L568.1 41.8L569.3 40.6L570.5 39.4L571.6 38.2L572.8 37.0L574.0 35.8L575.1 34.6L576.3 33.4L578.0 33.4L579.6 33.4L581.3 33.4L582.9 33.4L584.6 33.4L586.2 33.4L587.9 33.4L589.5 33.4L591.2 33.4L592.8 33.4L594.5 33.4" fill="none" stroke="#24eab4" stroke-width="1.25" stroke-linecap="round"/>
<path d="M626.5 93.7L628.2 93.4L629.9 92.9L631.5 92.5M634.4 110.4L636.0 110.4L637.5 111.1L639.0 111.7M634.6 126.8L636.2 127.1L637.9 127.4L639.5 127.7M633.0 137.5L634.6 138.0L636.2 138.4L637.9 138.9M616.5 76.7L617.6 78.0L618.6 79.2L619.6 80.5M609.1 57.7L610.5 58.6L611.9 59.5L612.8 60.9M596.8 41.3L598.3 42.1L599.8 42.9L601.3 43.7M593.6 39.2L595.2 40.0L596.8 40.8L598.2 41.6M594.5 33.4L596.1 33.4L597.8 33.4L599.3 34.2" fill="none" stroke="#24eaae" stroke-width="1.25" stroke-linecap="round"/>
<path d="M631.5 92.5L633.2 92.0M639.0 111.7L640.5 112.3M637.9 138.9L639.5 139.4M619.6 80.5L621.3 80.0M612.8 60.9L613.7 62.3M601.3 43.7L602.8 44.5M598.2 41.6L599.7 42.3" fill="none" stroke="#24eaa8" stroke-width="1.25" stroke-linecap="round"/>
<path d="M633.2 92.0L634.9 91.5L636.5 92.3M640.5 112.3L642.0 113.0L643.4 114.0M639.5 127.7L641.1 128.5L642.8 129.3M639.5 139.4L641.1 140.2L642.8 141.1M621.3 80.0L623.0 79.6L624.7 78.6M613.7 62.3L614.6 63.7L615.5 65.1M602.8 44.5L604.4 45.4L605.9 46.2M599.7 42.3L601.1 43.1L602.5 43.9M599.3 34.2L600.7 35.1L602.2 35.9" fill="none" stroke="#2aeaa8" stroke-width="1.25" stroke-linecap="round"/>
<path d="M636.5 92.3L638.2 93.2L639.9 94.1L641.5 94.9M643.4 114.0L644.9 115.0L646.3 116.0L647.8 117.0M642.8 129.3L644.4 130.2L646.0 131.0L647.3 132.3M642.8 141.1L644.4 141.9L646.0 142.7L647.3 144.0M624.7 78.6L626.5 77.7L628.2 76.7M615.5 65.1L616.3 66.5L617.2 67.9L618.1 69.3M605.9 46.2L607.4 47.0L608.9 47.8L610.4 48.6M602.5 43.9L603.9 44.6L605.4 45.4L606.8 46.1M602.2 35.9L603.7 36.8L605.1 37.6L606.6 38.4" fill="none" stroke="#2aeaa2" stroke-width="1.25" stroke-linecap="round"/>
<path d="M641.5 94.9L643.1 95.7L644.7 96.5L646.3 97.3M647.8 117.0L649.2 118.0L650.4 119.1L651.6 120.2M647.3 132.3L648.6 133.6L649.9 134.9L651.2 136.2M647.3 144.0L648.6 145.3L649.9 146.6M628.2 76.7L629.9 77.0L631.6 77.2L633.3 77.5M618.1 69.3L619.0 70.7L619.9 72.1L622.0 71.0M610.4 48.6L611.4 49.9L612.3 51.2L613.3 52.6M606.8 46.1L608.2 46.9L609.6 47.7L611.1 48.4M606.6 38.4L608.1 39.3L609.6 40.1L611.0 41.0" fill="none" stroke="#2aea9c" stroke-width="1.25" stroke-linecap="round"/>
<path d="M646.3 97.3L647.9 98.1L649.5 98.9M651.6 120.2L652.8 121.3L654.1 122.5L655.3 123.6M651.2 136.2L652.5 137.5L653.5 138.8L654.6 140.1M649.9 146.6L651.2 147.9L652.5 149.2L653.4 150.7M633.3 77.5L634.9 77.8L636.6 78.1L638.3 78.3M622.0 71.0L624.0 70.0L626.0 69.3M613.3 52.6L614.2 53.9L615.2 55.2L616.2 56.5M611.1 48.4L612.5 49.2L614.0 50.0L615.5 50.9M611.0 41.0L612.5 41.8L613.4 43.1L614.4 44.4" fill="none" stroke="#2aea96" stroke-width="1.25" stroke-linecap="round"/>
<path d="M649.5 98.9L651.1 99.7L652.7 100.5L654.3 101.4M655.3 123.6L656.5 124.7L657.7 125.8L659.0 127.1M654.6 140.1L655.6 141.4L656.7 142.7L657.7 144.0M653.4 150.7L654.2 152.2L655.1 153.8L656.0 155.3M638.3 78.3L640.0 78.6L641.8 78.9L643.7 79.2M626.0 69.3L628.0 68.7L629.9 68.5L631.7 68.4M616.2 56.5L617.1 57.8L618.1 59.2L619.0 60.5M615.5 50.9L617.0 51.7L618.5 52.6L620.0 53.4M614.4 44.4L615.3 45.7L616.2 47.0L617.2 48.4L618.1 49.7" fill="none" stroke="#2aea90" stroke-width="1.25" stroke-linecap="round"/>
<path d="M654.3 101.4L655.9 102.2L657.5 103.0L659.8 104.1M659.0 127.1L660.3 128.4L661.6 129.7L663.2 130.6M657.7 144.0L658.7 145.3L659.7 146.6L660.6 147.9M656.0 155.3L656.8 156.8L657.7 158.3L659.0 160.9M643.7 79.2L645.5 79.6L647.4 79.9L649.2 80.2M631.7 68.4L633.5 68.2L635.4 68.1L635.2 66.4M619.0 60.5L620.0 61.8L620.8 63.4L621.7 64.9M620.0 53.4L620.8 54.9L621.7 56.5L622.5 58.0M618.1 49.7L619.1 51.0L620.0 52.3L620.8 53.9" fill="none" stroke="#2aea8a" stroke-width="1.25" stroke-linecap="round"/>
<path d="M659.8 104.1L661.2 103.2L662.7 102.4M663.2 130.6L664.8 131.6L665.5 129.7M660.6 147.9L661.6 149.2L663.5 147.9M659.0 160.9L660.3 158.3M649.2 80.2L649.8 78.5L650.3 76.7M635.2 66.4L635.0 64.7L634.8 63.0M621.7 64.9L622.5 66.5L625.0 66.0M622.5 58.0L623.5 60.0L624.5 62.0M620.8 53.9L621.5 55.4L622.3 57.0" fill="none" stroke="#2aea84" stroke-width="1.25" stroke-linecap="round"/>
<path d="M662.7 102.4L661.6 97.2" fill="none" stroke="#54cc60" stroke-width="1.25" stroke-linecap="round"/>
<path d="M661.6 97.2L660.4 93.8" fill="none" stroke="#909048" stroke-width="1.25" stroke-linecap="round"/>
<path d="M660.4 93.8L659.3 90.3" fill="none" stroke="#de422a" stroke-width="1.25" stroke-linecap="round"/>
<path d="M511.3 118.6L512.6 117.5M511.9 140.6L513.0 139.3" fill="none" stroke="#184ee4" stroke-width="1.25" stroke-linecap="round"/>
<path d="M512.6 117.5L513.9 116.4M513.0 139.3L514.2 138.1M546.2 57.6L546.7 59.6M550.6 51.5L551.5 50.2" fill="none" stroke="#1878f0" stroke-width="1.25" stroke-linecap="round"/>
<path d="M513.9 116.4L515.2 115.4" fill="none" stroke="#1e90f0" stroke-width="1.25" stroke-linecap="round"/>
<path d="M515.2 115.4L516.5 114.3M515.4 136.8L516.5 135.5M517.5 149.5L518.7 148.4" fill="none" stroke="#1ea8f0" stroke-width="1.25" stroke-linecap="round"/>
<path d="M526.2 110.3L527.9 109.7M527.0 142.0L528.7 141.2" fill="none" stroke="#24cce4" stroke-width="1.25" stroke-linecap="round"/>
<path d="M665.5 129.7L665.2 124.5M663.5 147.9L664.2 145.0M660.3 158.3L661.0 157.0M650.3 76.7L647.5 71.0M634.8 63.0L632.0 60.0M625.0 66.0L625.5 61.0M624.5 62.0L625.5 58.0M622.3 57.0L623.5 53.5" fill="none" stroke="#60c05a" stroke-width="1.25" stroke-linecap="round"/>
<path d="M665.2 124.5L665.5 120.0M664.2 145.0L664.8 142.0M661.0 157.0L661.6 155.7M647.5 71.0L643.4 65.8M632.0 60.0L629.7 57.8M625.5 61.0L625.0 57.0M625.5 58.0L624.3 54.5M623.5 53.5L624.5 50.3" fill="none" stroke="#c65a36" stroke-width="1.25" stroke-linecap="round"/>
<path d="M514.2 138.1L515.4 136.8" fill="none" stroke="#1e96f0" stroke-width="1.25" stroke-linecap="round"/>
<path d="M514.3 154.2L515.4 152.6" fill="none" stroke="#184eea" stroke-width="1.25" stroke-linecap="round"/>
<path d="M515.4 152.6L516.4 151.1M552.3 54.5L552.5 56.2" fill="none" stroke="#187ef0" stroke-width="1.25" stroke-linecap="round"/>
<path d="M516.4 151.1L517.5 149.5M535.0 67.5L536.5 68.4" fill="none" stroke="#1e9cf0" stroke-width="1.25" stroke-linecap="round"/>
<path d="M518.7 148.4L519.9 147.2M552.5 56.2L552.7 57.9M551.5 50.2L552.8 51.4" fill="none" stroke="#1eb4f0" stroke-width="1.25" stroke-linecap="round"/>
<path d="M533.3 65.8L535.0 67.5" fill="none" stroke="#1866ea" stroke-width="1.25" stroke-linecap="round"/>
<circle cx="656.30" cy="180.60" r="0.8" fill="#f5261c"/>
<circle cx="656.53" cy="179.25" r="0.8" fill="#f5261c"/>
<circle cx="656.79" cy="177.70" r="0.8" fill="#f5261c"/>
<circle cx="657.06" cy="176.16" r="0.8" fill="#f5261c"/>
<circle cx="657.32" cy="174.62" r="0.8" fill="#f5261c"/>
<circle cx="657.62" cy="172.88" r="0.8" fill="#f5261c"/>
<circle cx="657.95" cy="170.95" r="0.8" fill="#f5261c"/>
<circle cx="658.28" cy="169.02" r="0.8" fill="#f5261c"/>
<circle cx="658.74" cy="166.32" r="0.8" fill="#f5261c"/>
<circle cx="659.60" cy="161.30" r="0.8" fill="#f5261c"/>
<circle cx="659.30" cy="90.30" r="0.8" fill="#f5261c"/>
<circle cx="665.50" cy="120.00" r="0.8" fill="#f5261c"/>
<circle cx="664.80" cy="142.00" r="0.8" fill="#f5261c"/>
<circle cx="661.60" cy="155.70" r="0.8" fill="#f5261c"/>
<circle cx="643.40" cy="65.80" r="0.8" fill="#f5261c"/>
<circle cx="629.70" cy="57.80" r="0.8" fill="#f5261c"/>
<circle cx="625.00" cy="57.00" r="0.8" fill="#f5261c"/>
<circle cx="624.30" cy="54.50" r="0.8" fill="#f5261c"/>
<circle cx="624.50" cy="50.30" r="0.8" fill="#f5261c"/>
<path d="M517.96,208.53 A69.79,69.66 0 0 1 657.54,208.53" fill="none" stroke="#8a8a8a" stroke-width="0.9" stroke-dasharray="2.4 2.2"/>
<circle cx="517.96" cy="208.53" r="1.8" fill="#999"/>
<circle cx="657.54" cy="208.53" r="1.8" fill="#999"/>
<line x1="91.50" y1="312.50" x2="272.50" y2="312.50" stroke="#a4a4a4" stroke-width="1" stroke-dasharray="2.1 0.9 1.2 0.9"/>
<line x1="91.50" y1="381.50" x2="272.50" y2="381.50" stroke="#a4a4a4" stroke-width="1" stroke-dasharray="2.1 0.9 1.2 0.9"/>
<line x1="91.50" y1="450.50" x2="272.50" y2="450.50" stroke="#a4a4a4" stroke-width="1" stroke-dasharray="2.1 0.9 1.2 0.9"/>
<line x1="91.50" y1="450.50" x2="94.10" y2="450.50" stroke="#666666" stroke-width="0.9" />
<line x1="272.50" y1="450.50" x2="269.90" y2="450.50" stroke="#666666" stroke-width="0.9" />
<line x1="91.50" y1="381.50" x2="94.10" y2="381.50" stroke="#666666" stroke-width="0.9" />
<line x1="272.50" y1="381.50" x2="269.90" y2="381.50" stroke="#666666" stroke-width="0.9" />
<line x1="91.50" y1="312.50" x2="94.10" y2="312.50" stroke="#666666" stroke-width="0.9" />
<line x1="272.50" y1="312.50" x2="269.90" y2="312.50" stroke="#666666" stroke-width="0.9" />
<line x1="91.50" y1="416.50" x2="92.90" y2="416.50" stroke="#666666" stroke-width="0.9" />
<line x1="272.50" y1="416.50" x2="271.10" y2="416.50" stroke="#666666" stroke-width="0.9" />
<line x1="91.50" y1="346.50" x2="92.90" y2="346.50" stroke="#666666" stroke-width="0.9" />
<line x1="272.50" y1="346.50" x2="271.10" y2="346.50" stroke="#666666" stroke-width="0.9" />
<line x1="106.50" y1="471.50" x2="106.50" y2="468.90" stroke="#666666" stroke-width="0.9" />
<line x1="106.50" y1="291.50" x2="106.50" y2="294.10" stroke="#666666" stroke-width="0.9" />
<line x1="182.50" y1="471.50" x2="182.50" y2="468.90" stroke="#666666" stroke-width="0.9" />
<line x1="182.50" y1="291.50" x2="182.50" y2="294.10" stroke="#666666" stroke-width="0.9" />
<line x1="257.50" y1="471.50" x2="257.50" y2="468.90" stroke="#666666" stroke-width="0.9" />
<line x1="257.50" y1="291.50" x2="257.50" y2="294.10" stroke="#666666" stroke-width="0.9" />
<line x1="144.50" y1="471.50" x2="144.50" y2="470.10" stroke="#666666" stroke-width="0.9" />
<line x1="144.50" y1="291.50" x2="144.50" y2="292.90" stroke="#666666" stroke-width="0.9" />
<line x1="219.50" y1="471.50" x2="219.50" y2="470.10" stroke="#666666" stroke-width="0.9" />
<line x1="219.50" y1="291.50" x2="219.50" y2="292.90" stroke="#666666" stroke-width="0.9" />
<path d="M91.50,454.93 L93.00,454.83 L94.51,454.32 L96.02,454.37 L97.53,453.78 L99.04,453.45 L100.55,453.09 L102.05,452.15 L103.56,451.49 L105.07,450.03 L106.58,448.55 L108.09,446.24 L109.60,442.97 L111.11,438.69 L112.61,433.96 L114.12,427.76 L115.63,420.57 L117.14,412.87 L118.65,405.24 L120.16,397.39 L121.66,389.08 L123.17,380.95 L124.68,371.03 L126.19,362.35 L127.70,354.18 L129.21,346.86 L130.71,340.42 L132.22,334.78 L133.73,330.68 L135.24,326.81 L136.75,323.82 L138.26,321.57 L139.76,319.52 L141.27,318.20 L142.78,316.90 L144.29,315.74 L145.80,314.59 L147.31,314.00 L148.82,313.46 L150.32,312.85 L151.83,312.57 L153.34,312.42 L154.85,312.00 L156.36,311.99 L157.87,312.25 L159.37,312.12 L160.88,312.24 L162.39,312.14 L163.90,312.32 L165.41,312.65 L166.92,312.33 L168.42,312.85 L169.93,312.71 L171.44,312.51 L172.95,312.82 L174.46,312.60 L175.97,312.80 L177.47,312.39 L178.98,312.27 L180.49,312.30 L182.00,312.06 L183.51,312.29 L185.02,312.01 L186.53,311.99 L188.03,311.92 L189.54,311.91 L191.05,311.62 L192.56,311.48 L194.07,311.66 L195.58,311.48 L197.08,311.74 L198.59,311.31 L200.10,311.26 L201.61,310.99 L203.12,311.01 L204.63,311.23 L206.13,311.09 L207.64,310.86 L209.15,311.14 L210.66,310.82 L212.17,310.90 L213.68,310.85 L215.18,310.81 L216.69,310.34 L218.20,310.61 L219.71,310.47 L221.22,310.31 L222.73,309.97 L224.24,310.33 L225.74,310.05 L227.25,309.92 L228.76,309.65 L230.27,309.61 L231.78,309.51 L233.29,309.76 L234.79,309.60 L236.30,309.56 L237.81,309.19 L239.32,309.07 L240.83,309.44 L242.34,309.35 L243.84,309.24 L245.35,309.16 L246.86,308.94 L248.37,308.81 L249.88,308.91 L251.39,308.98 L252.89,308.67 L254.40,308.62 L255.91,308.43 L257.42,308.14 L258.93,308.21 L260.44,308.23 L261.95,308.10 L263.45,307.99 L264.96,308.25 L266.47,307.71 L267.98,307.70 L269.49,307.57 L271.00,307.53 L272.50,307.68" fill="none" stroke="#4b1f70" stroke-width="1.15" stroke-linejoin="round" stroke-linecap="round" />
<path d="M91.50,455.44 L93.00,455.52 L94.51,455.15 L96.02,455.39 L97.53,455.31 L99.04,455.16 L100.55,455.10 L102.05,454.93 L103.56,455.01 L105.07,454.96 L106.58,454.80 L108.09,454.75 L109.60,454.53 L111.11,454.64 L112.61,454.09 L114.12,454.16 L115.63,454.34 L117.14,454.20 L118.65,454.07 L120.16,453.98 L121.66,454.04 L123.17,453.56 L124.68,453.40 L126.19,453.62 L127.70,453.53 L129.21,453.67 L130.71,453.59 L132.22,453.38 L133.73,453.34 L135.24,452.95 L136.75,453.24 L138.26,453.24 L139.76,452.65 L141.27,452.81 L142.78,452.94 L144.29,452.64 L145.80,452.85 L147.31,452.50 L148.82,452.17 L150.32,452.16 L151.83,452.17 L153.34,452.34 L154.85,452.20 L156.36,452.23 L157.87,451.82 L159.37,451.87 L160.88,451.66 L162.39,451.83 L163.90,451.81 L165.41,451.41 L166.92,451.24 L168.42,451.23 L169.93,451.18 L171.44,451.10 L172.95,451.06 L174.46,451.27 L175.97,451.03 L177.47,451.04 L178.98,451.15 L180.49,451.07 L182.00,450.85 L183.51,450.79 L185.02,450.48 L186.53,450.27 L188.03,450.49 L189.54,450.17 L191.05,450.10 L192.56,450.09 L194.07,450.42 L195.58,450.51 L197.08,450.55 L198.59,450.63 L200.10,450.71 L201.61,450.58 L203.12,450.53 L204.63,450.65 L206.13,450.90 L207.64,450.81 L209.15,450.67 L210.66,450.92 L212.17,450.36 L213.68,449.88 L215.18,449.48 L216.69,448.91 L218.20,448.32 L219.71,447.60 L221.22,446.18 L222.73,445.13 L224.24,443.28 L225.74,441.24 L227.25,439.16 L228.76,436.20 L230.27,432.25 L231.78,427.93 L233.29,422.87 L234.79,416.55 L236.30,409.21 L237.81,400.54 L239.32,391.60 L240.83,382.49 L242.34,373.47 L243.84,365.40 L245.35,357.63 L246.86,349.97 L248.37,342.33 L249.88,335.59 L251.39,329.52 L252.89,323.87 L254.40,319.99 L255.91,316.97 L257.42,314.45 L258.93,313.04 L260.44,311.56 L261.95,310.66 L263.45,310.31 L264.96,309.76 L266.47,309.32 L267.98,309.01 L269.49,308.55 L271.00,308.50 L272.50,308.21" fill="none" stroke="#4b1f70" stroke-width="1.15" stroke-linejoin="round" stroke-linecap="round" />
<path d="M91.50,455.13 L93.00,454.53 L94.51,454.64 L96.02,454.36 L97.53,454.02 L99.04,453.51 L100.55,453.37 L102.05,452.57 L103.56,452.11 L105.07,451.19 L106.58,449.97 L108.09,448.59 L109.60,446.10 L111.11,443.20 L112.61,439.29 L114.12,433.78 L115.63,428.04 L117.14,420.94 L118.65,413.30 L120.16,405.57 L121.66,397.75 L123.17,389.65 L124.68,381.07 L126.19,371.46 L127.70,362.81 L129.21,354.26 L130.71,347.05 L132.22,340.65 L133.73,334.96 L135.24,330.62 L136.75,326.91 L138.26,323.80 L139.76,321.29 L141.27,319.59 L142.78,317.89 L144.29,316.63 L145.80,315.54 L147.31,314.54 L148.82,313.93 L150.32,313.29 L151.83,312.85 L153.34,312.24 L154.85,312.12 L156.36,311.88 L157.87,311.78 L159.37,312.16 L160.88,312.05 L162.39,311.92 L163.90,312.08 L165.41,312.56 L166.92,312.66 L168.42,312.55 L169.93,312.80 L171.44,312.72 L172.95,312.81 L174.46,312.46 L175.97,312.36 L177.47,312.24 L178.98,312.59 L180.49,312.21 L182.00,312.17 L183.51,312.39 L185.02,311.90 L186.53,311.78 L188.03,312.12 L189.54,311.63 L191.05,311.86 L192.56,311.73 L194.07,311.38 L195.58,311.39 L197.08,311.68 L198.59,311.46 L200.10,311.33 L201.61,311.35 L203.12,311.35 L204.63,311.21 L206.13,310.91 L207.64,311.22 L209.15,310.84 L210.66,310.83 L212.17,310.99 L213.68,310.74 L215.18,310.50 L216.69,310.48 L218.20,310.65 L219.71,310.06 L221.22,310.09 L222.73,309.92 L224.24,310.32 L225.74,310.15 L227.25,310.20 L228.76,309.71 L230.27,309.92 L231.78,309.92 L233.29,309.68 L234.79,309.33 L236.30,309.30 L237.81,309.53 L239.32,309.52 L240.83,309.01 L242.34,309.13 L243.84,308.98 L245.35,309.24 L246.86,309.18 L248.37,308.75 L249.88,308.82 L251.39,308.94 L252.89,308.38 L254.40,308.47 L255.91,308.30 L257.42,308.62 L258.93,308.12 L260.44,308.48 L261.95,307.96 L263.45,308.11 L264.96,308.09 L266.47,307.90 L267.98,307.61 L269.49,307.90 L271.00,307.90 L272.50,307.60" fill="none" stroke="#4a2878" stroke-width="1.15" stroke-linejoin="round" stroke-linecap="round" />
<path d="M91.50,455.53 L93.00,455.52 L94.51,455.41 L96.02,455.40 L97.53,455.24 L99.04,455.10 L100.55,455.03 L102.05,454.70 L103.56,454.88 L105.07,454.68 L106.58,454.79 L108.09,454.61 L109.60,454.72 L111.11,454.51 L112.61,454.57 L114.12,454.09 L115.63,454.11 L117.14,454.24 L118.65,454.00 L120.16,453.67 L121.66,454.05 L123.17,453.58 L124.68,453.71 L126.19,453.60 L127.70,453.34 L129.21,453.50 L130.71,453.36 L132.22,453.18 L133.73,452.94 L135.24,453.22 L136.75,452.87 L138.26,452.86 L139.76,452.83 L141.27,452.88 L142.78,452.83 L144.29,452.92 L145.80,452.80 L147.31,452.75 L148.82,452.30 L150.32,452.49 L151.83,452.47 L153.34,452.43 L154.85,451.94 L156.36,451.84 L157.87,451.88 L159.37,452.01 L160.88,451.96 L162.39,451.85 L163.90,451.68 L165.41,451.77 L166.92,451.54 L168.42,451.56 L169.93,451.09 L171.44,451.01 L172.95,451.17 L174.46,451.26 L175.97,450.78 L177.47,451.07 L178.98,450.97 L180.49,451.09 L182.00,450.80 L183.51,450.68 L185.02,450.60 L186.53,450.70 L188.03,450.48 L189.54,450.72 L191.05,450.56 L192.56,450.65 L194.07,450.50 L195.58,450.74 L197.08,450.82 L198.59,450.75 L200.10,450.88 L201.61,450.79 L203.12,450.90 L204.63,450.83 L206.13,450.89 L207.64,450.79 L209.15,450.56 L210.66,450.58 L212.17,450.26 L213.68,449.42 L215.18,449.29 L216.69,448.23 L218.20,447.37 L219.71,446.62 L221.22,444.86 L222.73,443.23 L224.24,441.41 L225.74,438.92 L227.25,435.89 L228.76,432.58 L230.27,427.87 L231.78,422.48 L233.29,415.90 L234.79,408.53 L236.30,400.23 L237.81,391.34 L239.32,381.68 L240.83,373.23 L242.34,365.24 L243.84,357.55 L245.35,349.84 L246.86,342.28 L248.37,335.22 L249.88,329.27 L251.39,323.80 L252.89,319.95 L254.40,316.86 L255.91,314.60 L257.42,312.91 L258.93,311.80 L260.44,311.16 L261.95,310.04 L263.45,309.54 L264.96,309.26 L266.47,308.92 L267.98,308.58 L269.49,308.68 L271.00,308.11 L272.50,308.21" fill="none" stroke="#4a2878" stroke-width="1.15" stroke-linejoin="round" stroke-linecap="round" />
<path d="M91.50,455.32 L93.00,455.08 L94.51,454.68 L96.02,454.81 L97.53,454.33 L99.04,453.98 L100.55,454.00 L102.05,453.75 L103.56,453.32 L105.07,452.74 L106.58,452.08 L108.09,451.35 L109.60,450.25 L111.11,449.10 L112.61,447.06 L114.12,444.30 L115.63,440.42 L117.14,436.03 L118.65,430.19 L120.16,423.87 L121.66,416.53 L123.17,408.69 L124.68,400.56 L126.19,392.57 L127.70,384.59 L129.21,375.30 L130.71,365.93 L132.22,357.35 L133.73,349.58 L135.24,342.98 L136.75,336.76 L138.26,332.30 L139.76,327.87 L141.27,324.64 L142.78,322.51 L144.29,320.13 L145.80,318.19 L147.31,316.69 L148.82,315.80 L150.32,314.93 L151.83,314.16 L153.34,313.10 L154.85,312.98 L156.36,312.38 L157.87,312.33 L159.37,311.94 L160.88,311.60 L162.39,312.04 L163.90,311.69 L165.41,311.94 L166.92,311.82 L168.42,312.03 L169.93,312.38 L171.44,312.09 L172.95,312.37 L174.46,312.65 L175.97,312.67 L177.47,312.38 L178.98,312.37 L180.49,312.41 L182.00,312.44 L183.51,312.26 L185.02,312.21 L186.53,311.84 L188.03,312.23 L189.54,311.74 L191.05,311.62 L192.56,311.94 L194.07,311.41 L195.58,311.45 L197.08,311.27 L198.59,311.53 L200.10,311.41 L201.61,311.32 L203.12,310.91 L204.63,311.06 L206.13,311.11 L207.64,310.99 L209.15,311.00 L210.66,311.05 L212.17,310.94 L213.68,310.46 L215.18,310.68 L216.69,310.25 L218.20,310.55 L219.71,310.46 L221.22,310.25 L222.73,310.35 L224.24,310.17 L225.74,309.77 L227.25,309.73 L228.76,309.69 L230.27,309.72 L231.78,309.48 L233.29,309.39 L234.79,309.53 L236.30,309.36 L237.81,309.65 L239.32,309.19 L240.83,309.27 L242.34,309.03 L243.84,309.01 L245.35,309.13 L246.86,309.19 L248.37,308.62 L249.88,308.99 L251.39,308.72 L252.89,308.71 L254.40,308.66 L255.91,308.34 L257.42,308.13 L258.93,308.45 L260.44,308.15 L261.95,308.27 L263.45,308.05 L264.96,308.06 L266.47,308.11 L267.98,308.04 L269.49,307.93 L271.00,307.47 L272.50,307.62" fill="none" stroke="#463282" stroke-width="1.15" stroke-linejoin="round" stroke-linecap="round" />
<path d="M91.50,455.54 L93.00,455.08 L94.51,454.95 L96.02,455.18 L97.53,455.27 L99.04,455.16 L100.55,455.14 L102.05,454.93 L103.56,454.99 L105.07,454.83 L106.58,454.74 L108.09,454.49 L109.60,454.24 L111.11,454.24 L112.61,454.35 L114.12,454.27 L115.63,454.13 L117.14,454.13 L118.65,454.08 L120.16,454.15 L121.66,453.95 L123.17,453.49 L124.68,453.88 L126.19,453.60 L127.70,453.45 L129.21,453.24 L130.71,453.52 L132.22,453.42 L133.73,453.35 L135.24,453.19 L136.75,453.09 L138.26,452.73 L139.76,452.71 L141.27,452.62 L142.78,453.01 L144.29,452.93 L145.80,452.47 L147.31,452.29 L148.82,452.45 L150.32,452.31 L151.83,452.56 L153.34,452.26 L154.85,451.89 L156.36,451.87 L157.87,451.77 L159.37,451.63 L160.88,451.95 L162.39,451.95 L163.90,451.85 L165.41,451.57 L166.92,451.40 L168.42,451.18 L169.93,451.23 L171.44,451.19 L172.95,451.05 L174.46,451.14 L175.97,451.01 L177.47,451.22 L178.98,450.74 L180.49,450.97 L182.00,450.53 L183.51,450.62 L185.02,450.76 L186.53,450.83 L188.03,450.74 L189.54,450.54 L191.05,450.53 L192.56,450.91 L194.07,451.01 L195.58,450.85 L197.08,450.92 L198.59,451.12 L200.10,451.28 L201.61,451.11 L203.12,451.42 L204.63,451.16 L206.13,450.89 L207.64,450.32 L209.15,450.10 L210.66,449.44 L212.17,449.01 L213.68,448.35 L215.18,447.37 L216.69,445.80 L218.20,444.52 L219.71,443.00 L221.22,441.02 L222.73,438.12 L224.24,434.77 L225.74,430.91 L227.25,426.16 L228.76,420.13 L230.27,413.20 L231.78,405.82 L233.29,397.32 L234.79,387.90 L236.30,378.36 L237.81,370.22 L239.32,362.51 L240.83,354.27 L242.34,346.58 L243.84,339.40 L245.35,332.94 L246.86,326.82 L248.37,322.55 L249.88,318.66 L251.39,316.28 L252.89,314.29 L254.40,312.52 L255.91,311.70 L257.42,310.53 L258.93,310.17 L260.44,309.86 L261.95,309.46 L263.45,309.05 L264.96,308.66 L266.47,308.29 L267.98,308.55 L269.49,308.25 L271.00,308.21 L272.50,307.66" fill="none" stroke="#463282" stroke-width="1.15" stroke-linejoin="round" stroke-linecap="round" />
<path d="M91.50,455.39 L93.00,455.33 L94.51,455.21 L96.02,454.91 L97.53,454.49 L99.04,454.36 L100.55,454.28 L102.05,453.94 L103.56,453.77 L105.07,453.84 L106.58,453.62 L108.09,452.82 L109.60,452.44 L111.11,452.22 L112.61,451.05 L114.12,450.11 L115.63,448.62 L117.14,446.62 L118.65,443.96 L120.16,440.40 L121.66,435.55 L123.17,429.77 L124.68,422.76 L126.19,415.89 L127.70,407.69 L129.21,400.19 L130.71,392.13 L132.22,383.88 L133.73,374.31 L135.24,365.30 L136.75,356.94 L138.26,348.99 L139.76,342.30 L141.27,336.25 L142.78,331.85 L144.29,327.81 L145.80,324.29 L147.31,322.16 L148.82,319.83 L150.32,317.89 L151.83,316.50 L153.34,315.74 L154.85,314.79 L156.36,313.98 L157.87,312.85 L159.37,312.71 L160.88,312.04 L162.39,311.67 L163.90,311.80 L165.41,311.75 L166.92,311.35 L168.42,311.58 L169.93,311.85 L171.44,311.69 L172.95,312.02 L174.46,312.13 L175.97,312.35 L177.47,311.99 L178.98,311.93 L180.49,312.09 L182.00,311.90 L183.51,312.38 L185.02,312.21 L186.53,312.02 L188.03,311.69 L189.54,311.62 L191.05,311.86 L192.56,311.86 L194.07,311.69 L195.58,311.58 L197.08,311.26 L198.59,311.59 L200.10,311.17 L201.61,311.13 L203.12,311.01 L204.63,310.96 L206.13,310.97 L207.64,311.05 L209.15,310.97 L210.66,310.87 L212.17,310.56 L213.68,310.87 L215.18,310.73 L216.69,310.35 L218.20,310.55 L219.71,310.57 L221.22,310.51 L222.73,310.15 L224.24,310.20 L225.74,309.76 L227.25,309.73 L228.76,309.60 L230.27,309.92 L231.78,309.94 L233.29,309.86 L234.79,309.56 L236.30,309.36 L237.81,309.43 L239.32,309.47 L240.83,309.29 L242.34,309.10 L243.84,308.99 L245.35,308.88 L246.86,308.74 L248.37,308.77 L249.88,308.99 L251.39,308.51 L252.89,308.74 L254.40,308.51 L255.91,308.54 L257.42,308.26 L258.93,308.48 L260.44,308.38 L261.95,308.30 L263.45,308.27 L264.96,307.79 L266.47,307.88 L267.98,307.95 L269.49,307.83 L271.00,307.42 L272.50,307.61" fill="none" stroke="#3f468c" stroke-width="1.15" stroke-linejoin="round" stroke-linecap="round" />
<path d="M91.50,455.53 L93.00,455.13 L94.51,455.14 L96.02,454.88 L97.53,455.29 L99.04,455.01 L100.55,454.74 L102.05,454.65 L103.56,454.53 L105.07,454.94 L106.58,454.72 L108.09,454.74 L109.60,454.62 L111.11,454.11 L112.61,454.25 L114.12,453.98 L115.63,454.21 L117.14,453.86 L118.65,454.01 L120.16,454.04 L121.66,453.68 L123.17,453.51 L124.68,453.89 L126.19,453.55 L127.70,453.45 L129.21,453.60 L130.71,453.44 L132.22,453.49 L133.73,453.38 L135.24,453.27 L136.75,453.00 L138.26,452.89 L139.76,453.07 L141.27,453.09 L142.78,452.84 L144.29,452.57 L145.80,452.77 L147.31,452.62 L148.82,452.60 L150.32,452.19 L151.83,452.25 L153.34,452.45 L154.85,452.35 L156.36,452.11 L157.87,451.94 L159.37,451.82 L160.88,452.04 L162.39,451.92 L163.90,451.55 L165.41,451.63 L166.92,451.62 L168.42,451.53 L169.93,451.10 L171.44,451.38 L172.95,451.16 L174.46,451.21 L175.97,451.10 L177.47,450.79 L178.98,450.66 L180.49,450.96 L182.00,451.02 L183.51,450.71 L185.02,451.00 L186.53,451.14 L188.03,450.70 L189.54,451.04 L191.05,450.91 L192.56,451.24 L194.07,451.07 L195.58,451.38 L197.08,451.58 L198.59,451.65 L200.10,451.26 L201.61,451.03 L203.12,450.60 L204.63,450.66 L206.13,449.85 L207.64,449.34 L209.15,448.47 L210.66,447.71 L212.17,446.47 L213.68,444.93 L215.18,442.98 L216.69,441.32 L218.20,438.50 L219.71,435.10 L221.22,431.06 L222.73,426.68 L224.24,420.98 L225.74,413.78 L227.25,406.05 L228.76,397.75 L230.27,388.76 L231.78,378.71 L233.29,371.02 L234.79,362.75 L236.30,354.99 L237.81,347.14 L239.32,340.17 L240.83,333.16 L242.34,327.72 L243.84,322.93 L245.35,319.03 L246.86,316.29 L248.37,314.62 L249.88,313.11 L251.39,311.92 L252.89,311.03 L254.40,310.48 L255.91,310.15 L257.42,309.70 L258.93,309.13 L260.44,308.78 L261.95,309.03 L263.45,308.56 L264.96,308.29 L266.47,308.54 L267.98,307.97 L269.49,308.24 L271.00,307.86 L272.50,307.78" fill="none" stroke="#3f468c" stroke-width="1.15" stroke-linejoin="round" stroke-linecap="round" />
<path d="M91.50,455.21 L93.00,455.29 L94.51,455.14 L96.02,454.95 L97.53,454.94 L99.04,454.70 L100.55,454.71 L102.05,454.60 L103.56,454.70 L105.07,454.24 L106.58,454.16 L108.09,454.13 L109.60,453.65 L111.11,453.42 L112.61,453.33 L114.12,453.17 L115.63,452.62 L117.14,452.33 L118.65,451.68 L120.16,450.69 L121.66,449.77 L123.17,448.09 L124.68,446.05 L126.19,443.62 L127.70,439.74 L129.21,435.52 L130.71,429.63 L132.22,423.20 L133.73,416.27 L135.24,409.04 L136.75,401.11 L138.26,393.43 L139.76,385.34 L141.27,376.40 L142.78,366.35 L144.29,357.27 L145.80,349.30 L147.31,342.17 L148.82,336.51 L150.32,331.08 L151.83,327.27 L153.34,323.73 L154.85,321.10 L156.36,319.40 L157.87,317.34 L159.37,315.87 L160.88,315.21 L162.39,314.12 L163.90,313.12 L165.41,312.81 L166.92,311.90 L168.42,311.85 L169.93,311.27 L171.44,311.46 L172.95,311.16 L174.46,310.91 L175.97,311.34 L177.47,311.39 L178.98,311.35 L180.49,311.56 L182.00,311.82 L183.51,311.82 L185.02,311.89 L186.53,311.50 L188.03,311.65 L189.54,311.52 L191.05,311.90 L192.56,311.51 L194.07,311.83 L195.58,311.53 L197.08,311.41 L198.59,311.49 L200.10,311.13 L201.61,311.23 L203.12,311.14 L204.63,310.90 L206.13,311.25 L207.64,310.68 L209.15,310.80 L210.66,310.86 L212.17,310.55 L213.68,310.77 L215.18,310.29 L216.69,310.44 L218.20,310.49 L219.71,310.19 L221.22,310.29 L222.73,310.36 L224.24,309.96 L225.74,310.27 L227.25,309.77 L228.76,310.00 L230.27,309.71 L231.78,309.44 L233.29,309.59 L234.79,309.47 L236.30,309.58 L237.81,309.68 L239.32,309.58 L240.83,309.44 L242.34,309.10 L243.84,309.13 L245.35,309.01 L246.86,308.72 L248.37,309.06 L249.88,308.93 L251.39,308.62 L252.89,308.89 L254.40,308.82 L255.91,308.55 L257.42,308.61 L258.93,308.39 L260.44,308.39 L261.95,308.11 L263.45,308.03 L264.96,308.17 L266.47,307.86 L267.98,307.86 L269.49,307.98 L271.00,307.45 L272.50,307.76" fill="none" stroke="#3c5c96" stroke-width="1.15" stroke-linejoin="round" stroke-linecap="round" />
<path d="M91.50,455.58 L93.00,455.53 L94.51,455.15 L96.02,454.94 L97.53,454.92 L99.04,455.05 L100.55,455.05 L102.05,455.11 L103.56,454.68 L105.07,454.65 L106.58,454.69 L108.09,454.45 L109.60,454.48 L111.11,454.13 L112.61,454.17 L114.12,454.36 L115.63,453.92 L117.14,454.32 L118.65,453.97 L120.16,453.96 L121.66,453.98 L123.17,454.00 L124.68,453.52 L126.19,453.87 L127.70,453.49 L129.21,453.20 L130.71,453.56 L132.22,453.46 L133.73,453.15 L135.24,453.13 L136.75,452.98 L138.26,452.81 L139.76,453.08 L141.27,452.93 L142.78,452.86 L144.29,452.92 L145.80,452.38 L147.31,452.36 L148.82,452.32 L150.32,452.63 L151.83,452.09 L153.34,452.07 L154.85,452.14 L156.36,451.91 L157.87,452.00 L159.37,452.04 L160.88,452.03 L162.39,451.89 L163.90,451.92 L165.41,451.68 L166.92,451.38 L168.42,451.34 L169.93,451.19 L171.44,451.21 L172.95,451.42 L174.46,451.23 L175.97,451.28 L177.47,451.10 L178.98,451.28 L180.49,451.49 L182.00,451.36 L183.51,451.28 L185.02,451.80 L186.53,451.53 L188.03,452.09 L189.54,451.99 L191.05,451.98 L192.56,451.61 L194.07,451.31 L195.58,451.14 L197.08,450.98 L198.59,450.16 L200.10,449.84 L201.61,449.11 L203.12,447.80 L204.63,446.82 L206.13,445.39 L207.64,443.70 L209.15,441.40 L210.66,439.04 L212.17,435.54 L213.68,431.55 L215.18,426.47 L216.69,420.69 L218.20,413.45 L219.71,405.42 L221.22,396.56 L222.73,386.96 L224.24,377.34 L225.74,369.87 L227.25,361.66 L228.76,354.40 L230.27,346.98 L231.78,339.87 L233.29,333.00 L234.79,327.79 L236.30,323.38 L237.81,319.90 L239.32,317.20 L240.83,314.83 L242.34,313.38 L243.84,312.24 L245.35,311.39 L246.86,311.13 L248.37,310.35 L249.88,310.08 L251.39,309.51 L252.89,309.25 L254.40,308.99 L255.91,309.26 L257.42,308.65 L258.93,308.47 L260.44,308.32 L261.95,308.65 L263.45,308.48 L264.96,308.42 L266.47,308.36 L267.98,307.81 L269.49,307.73 L271.00,307.74 L272.50,307.54" fill="none" stroke="#3c5c96" stroke-width="1.15" stroke-linejoin="round" stroke-linecap="round" />
<path d="M91.50,455.24 L93.00,455.35 L94.51,455.37 L96.02,455.28 L97.53,454.83 L99.04,455.04 L100.55,454.89 L102.05,454.73 L103.56,454.86 L105.07,454.63 L106.58,454.50 L108.09,454.15 L109.60,454.22 L111.11,454.12 L112.61,453.62 L114.12,453.72 L115.63,453.36 L117.14,453.29 L118.65,453.38 L120.16,452.89 L121.66,452.55 L123.17,451.95 L124.68,451.68 L126.19,450.82 L127.70,450.05 L129.21,449.09 L130.71,447.21 L132.22,445.59 L133.73,442.48 L135.24,439.31 L136.75,434.93 L138.26,429.41 L139.76,422.85 L141.27,415.85 L142.78,409.12 L144.29,401.38 L145.80,393.84 L147.31,386.11 L148.82,377.46 L150.32,367.57 L151.83,358.52 L153.34,350.00 L154.85,343.07 L156.36,336.53 L157.87,331.75 L159.37,327.59 L160.88,323.92 L162.39,321.30 L163.90,319.32 L165.41,317.26 L166.92,316.14 L168.42,314.57 L169.93,313.66 L171.44,312.81 L172.95,312.24 L174.46,311.87 L175.97,311.43 L177.47,311.14 L178.98,310.66 L180.49,311.00 L182.00,310.53 L183.51,311.04 L185.02,311.01 L186.53,311.07 L188.03,310.83 L189.54,311.15 L191.05,311.30 L192.56,311.08 L194.07,311.48 L195.58,311.37 L197.08,311.33 L198.59,311.18 L200.10,311.14 L201.61,311.14 L203.12,311.25 L204.63,311.19 L206.13,311.21 L207.64,310.76 L209.15,310.78 L210.66,310.66 L212.17,310.90 L213.68,310.68 L215.18,310.41 L216.69,310.44 L218.20,310.62 L219.71,310.35 L221.22,310.04 L222.73,310.32 L224.24,310.27 L225.74,310.13 L227.25,309.83 L228.76,309.68 L230.27,309.98 L231.78,309.90 L233.29,309.77 L234.79,309.65 L236.30,309.47 L237.81,309.59 L239.32,309.42 L240.83,309.42 L242.34,308.91 L243.84,308.96 L245.35,309.23 L246.86,308.68 L248.37,309.08 L249.88,308.84 L251.39,308.44 L252.89,308.46 L254.40,308.42 L255.91,308.51 L257.42,308.56 L258.93,308.24 L260.44,308.46 L261.95,308.32 L263.45,308.14 L264.96,308.26 L266.47,307.98 L267.98,307.69 L269.49,307.67 L271.00,307.70 L272.50,307.54" fill="none" stroke="#356f9a" stroke-width="1.15" stroke-linejoin="round" stroke-linecap="round" />
<path d="M91.50,455.40 L93.00,455.50 L94.51,455.17 L96.02,455.20 L97.53,454.94 L99.04,454.77 L100.55,454.96 L102.05,454.80 L103.56,454.62 L105.07,454.73 L106.58,454.76 L108.09,454.41 L109.60,454.24 L111.11,454.22 L112.61,454.19 L114.12,454.02 L115.63,454.04 L117.14,453.99 L118.65,454.01 L120.16,454.01 L121.66,453.76 L123.17,453.98 L124.68,453.72 L126.19,453.44 L127.70,453.40 L129.21,453.37 L130.71,453.50 L132.22,453.33 L133.73,453.24 L135.24,453.07 L136.75,453.11 L138.26,452.88 L139.76,452.66 L141.27,453.00 L142.78,452.66 L144.29,452.51 L145.80,452.65 L147.31,452.52 L148.82,452.17 L150.32,452.61 L151.83,452.26 L153.34,452.39 L154.85,451.97 L156.36,451.81 L157.87,451.97 L159.37,452.13 L160.88,451.80 L162.39,451.75 L163.90,451.60 L165.41,451.67 L166.92,451.58 L168.42,451.47 L169.93,451.65 L171.44,451.75 L172.95,451.52 L174.46,452.01 L175.97,451.85 L177.47,452.12 L178.98,452.01 L180.49,452.44 L182.00,451.99 L183.51,452.31 L185.02,452.36 L186.53,452.05 L188.03,451.68 L189.54,451.48 L191.05,450.73 L192.56,450.08 L194.07,449.12 L195.58,448.35 L197.08,447.23 L198.59,445.82 L200.10,443.76 L201.61,441.46 L203.12,438.96 L204.63,435.73 L206.13,431.20 L207.64,426.29 L209.15,420.22 L210.66,413.03 L212.17,404.41 L213.68,395.26 L215.18,385.64 L216.69,376.74 L218.20,369.13 L219.71,361.77 L221.22,353.90 L222.73,346.97 L224.24,339.93 L225.74,333.58 L227.25,328.17 L228.76,323.89 L230.27,320.45 L231.78,317.61 L233.29,315.80 L234.79,313.89 L236.30,313.01 L237.81,311.88 L239.32,311.54 L240.83,310.96 L242.34,310.62 L243.84,310.20 L245.35,310.05 L246.86,309.92 L248.37,309.33 L249.88,309.40 L251.39,309.26 L252.89,309.09 L254.40,308.86 L255.91,308.77 L257.42,308.54 L258.93,308.42 L260.44,308.48 L261.95,308.07 L263.45,308.02 L264.96,308.37 L266.47,307.85 L267.98,307.72 L269.49,307.70 L271.00,307.97 L272.50,307.50" fill="none" stroke="#356f9a" stroke-width="1.15" stroke-linejoin="round" stroke-linecap="round" />
<path d="M91.50,455.26 L93.00,455.52 L94.51,455.44 L96.02,454.84 L97.53,454.91 L99.04,455.05 L100.55,455.05 L102.05,454.94 L103.56,454.80 L105.07,454.41 L106.58,454.55 L108.09,454.56 L109.60,454.04 L111.11,454.00 L112.61,454.24 L114.12,453.72 L115.63,453.75 L117.14,453.52 L118.65,453.44 L120.16,453.15 L121.66,453.03 L123.17,452.79 L124.68,452.90 L126.19,452.34 L127.70,452.08 L129.21,451.53 L130.71,451.15 L132.22,450.21 L133.73,449.49 L135.24,448.46 L136.75,446.89 L138.26,444.85 L139.76,441.89 L141.27,438.57 L142.78,433.88 L144.29,428.71 L145.80,422.39 L147.31,415.68 L148.82,408.57 L150.32,401.12 L151.83,394.25 L153.34,386.43 L154.85,378.14 L156.36,368.65 L157.87,359.66 L159.37,351.40 L160.88,344.42 L162.39,338.15 L163.90,332.59 L165.41,328.72 L166.92,324.84 L168.42,321.94 L169.93,319.92 L171.44,317.69 L172.95,316.10 L174.46,314.68 L175.97,313.96 L177.47,312.72 L178.98,312.26 L180.49,311.70 L182.00,311.01 L183.51,311.16 L185.02,310.55 L186.53,310.46 L188.03,310.57 L189.54,310.29 L191.05,310.63 L192.56,310.65 L194.07,310.73 L195.58,310.69 L197.08,311.08 L198.59,311.02 L200.10,311.07 L201.61,311.01 L203.12,310.85 L204.63,311.12 L206.13,310.79 L207.64,310.97 L209.15,310.85 L210.66,310.91 L212.17,310.71 L213.68,310.38 L215.18,310.48 L216.69,310.33 L218.20,310.50 L219.71,310.43 L221.22,310.37 L222.73,310.13 L224.24,310.02 L225.74,309.86 L227.25,310.20 L228.76,309.74 L230.27,309.58 L231.78,309.69 L233.29,309.88 L234.79,309.67 L236.30,309.75 L237.81,309.57 L239.32,309.09 L240.83,309.19 L242.34,309.08 L243.84,308.93 L245.35,308.79 L246.86,308.87 L248.37,308.79 L249.88,308.71 L251.39,308.59 L252.89,308.57 L254.40,308.45 L255.91,308.63 L257.42,308.30 L258.93,308.34 L260.44,308.09 L261.95,308.38 L263.45,308.26 L264.96,308.26 L266.47,307.78 L267.98,307.62 L269.49,307.69 L271.00,307.77 L272.50,307.44" fill="none" stroke="#2b7f92" stroke-width="1.15" stroke-linejoin="round" stroke-linecap="round" />
<path d="M91.50,455.22 L93.00,455.27 L94.51,455.36 L96.02,455.26 L97.53,455.12 L99.04,455.10 L100.55,454.96 L102.05,454.76 L103.56,454.52 L105.07,454.93 L106.58,454.57 L108.09,454.78 L109.60,454.66 L111.11,454.20 L112.61,454.26 L114.12,453.99 L115.63,454.17 L117.14,454.33 L118.65,454.05 L120.16,453.86 L121.66,453.59 L123.17,453.49 L124.68,453.69 L126.19,453.65 L127.70,453.74 L129.21,453.36 L130.71,453.53 L132.22,453.48 L133.73,453.48 L135.24,453.41 L136.75,452.95 L138.26,453.19 L139.76,452.64 L141.27,453.05 L142.78,452.54 L144.29,452.87 L145.80,452.86 L147.31,452.39 L148.82,452.58 L150.32,452.23 L151.83,452.46 L153.34,452.46 L154.85,452.00 L156.36,451.97 L157.87,451.84 L159.37,451.86 L160.88,452.20 L162.39,451.89 L163.90,451.86 L165.41,452.04 L166.92,451.84 L168.42,452.30 L169.93,452.00 L171.44,452.24 L172.95,452.72 L174.46,452.78 L175.97,452.44 L177.47,452.29 L178.98,452.57 L180.49,452.21 L182.00,451.64 L183.51,451.50 L185.02,450.53 L186.53,450.02 L188.03,449.38 L189.54,448.15 L191.05,446.76 L192.56,445.28 L194.07,443.24 L195.58,441.18 L197.08,437.92 L198.59,434.59 L200.10,430.07 L201.61,424.82 L203.12,418.69 L204.63,411.47 L206.13,403.09 L207.64,394.07 L209.15,384.72 L210.66,376.35 L212.17,369.14 L213.68,361.92 L215.18,354.14 L216.69,347.21 L218.20,340.43 L219.71,334.58 L221.22,329.08 L222.73,324.41 L224.24,320.93 L225.74,318.30 L227.25,316.36 L228.76,314.71 L230.27,313.27 L231.78,312.65 L233.29,311.78 L234.79,311.28 L236.30,310.69 L237.81,310.38 L239.32,310.39 L240.83,310.30 L242.34,309.94 L243.84,309.67 L245.35,309.42 L246.86,309.15 L248.37,308.97 L249.88,309.32 L251.39,308.76 L252.89,308.67 L254.40,308.53 L255.91,308.59 L257.42,308.66 L258.93,308.25 L260.44,308.18 L261.95,308.16 L263.45,307.94 L264.96,308.17 L266.47,308.23 L267.98,307.88 L269.49,307.67 L271.00,307.91 L272.50,307.53" fill="none" stroke="#2b7f92" stroke-width="1.15" stroke-linejoin="round" stroke-linecap="round" />
<path d="M91.50,455.11 L93.00,455.42 L94.51,455.13 L96.02,455.01 L97.53,455.05 L99.04,455.11 L100.55,455.00 L102.05,454.64 L103.56,454.54 L105.07,454.64 L106.58,454.76 L108.09,454.28 L109.60,454.21 L111.11,454.42 L112.61,454.14 L114.12,453.87 L115.63,453.78 L117.14,453.89 L118.65,453.81 L120.16,453.65 L121.66,453.76 L123.17,453.65 L124.68,453.53 L126.19,453.11 L127.70,453.16 L129.21,452.90 L130.71,452.82 L132.22,452.56 L133.73,452.54 L135.24,452.34 L136.75,451.51 L138.26,451.49 L139.76,451.19 L141.27,450.34 L142.78,449.54 L144.29,448.97 L145.80,447.53 L147.31,446.11 L148.82,443.98 L150.32,441.61 L151.83,438.23 L153.34,433.53 L154.85,428.62 L156.36,423.12 L157.87,416.80 L159.37,410.31 L160.88,403.16 L162.39,396.39 L163.90,389.10 L165.41,382.20 L166.92,372.92 L168.42,363.89 L169.93,355.93 L171.44,348.48 L172.95,341.73 L174.46,336.00 L175.97,331.22 L177.47,327.21 L178.98,323.62 L180.49,320.73 L182.00,318.74 L183.51,316.65 L185.02,315.18 L186.53,314.41 L188.03,313.08 L189.54,312.34 L191.05,311.80 L192.56,310.78 L194.07,310.74 L195.58,310.26 L197.08,310.02 L198.59,309.73 L200.10,309.86 L201.61,310.04 L203.12,310.08 L204.63,310.33 L206.13,309.97 L207.64,310.05 L209.15,310.54 L210.66,310.69 L212.17,310.60 L213.68,310.55 L215.18,310.22 L216.69,310.19 L218.20,310.18 L219.71,310.56 L221.22,310.08 L222.73,310.05 L224.24,310.02 L225.74,309.75 L227.25,310.19 L228.76,310.06 L230.27,309.65 L231.78,309.47 L233.29,309.54 L234.79,309.67 L236.30,309.43 L237.81,309.26 L239.32,309.54 L240.83,309.34 L242.34,309.30 L243.84,309.30 L245.35,309.02 L246.86,309.12 L248.37,309.00 L249.88,308.98 L251.39,308.60 L252.89,308.90 L254.40,308.43 L255.91,308.64 L257.42,308.65 L258.93,308.08 L260.44,308.39 L261.95,307.92 L263.45,307.88 L264.96,307.79 L266.47,308.13 L267.98,307.88 L269.49,308.00 L271.00,307.46 L272.50,307.43" fill="none" stroke="#26908e" stroke-width="1.15" stroke-linejoin="round" stroke-linecap="round" />
<path d="M91.50,455.31 L93.00,455.33 L94.51,455.32 L96.02,454.97 L97.53,455.08 L99.04,454.92 L100.55,455.11 L102.05,454.99 L103.56,455.01 L105.07,454.57 L106.58,454.58 L108.09,454.73 L109.60,454.25 L111.11,454.50 L112.61,454.35 L114.12,454.41 L115.63,454.27 L117.14,453.88 L118.65,454.08 L120.16,454.09 L121.66,453.84 L123.17,453.85 L124.68,453.45 L126.19,453.81 L127.70,453.26 L129.21,453.69 L130.71,453.15 L132.22,453.19 L133.73,453.37 L135.24,453.15 L136.75,453.17 L138.26,453.11 L139.76,453.07 L141.27,452.91 L142.78,452.49 L144.29,452.42 L145.80,452.40 L147.31,452.81 L148.82,452.67 L150.32,452.32 L151.83,452.78 L153.34,452.44 L154.85,452.73 L156.36,452.42 L157.87,453.04 L159.37,452.69 L160.88,453.04 L162.39,453.22 L163.90,453.32 L165.41,452.83 L166.92,452.89 L168.42,452.88 L169.93,452.43 L171.44,451.74 L172.95,451.56 L174.46,450.67 L175.97,450.06 L177.47,449.01 L178.98,447.44 L180.49,445.98 L182.00,444.45 L183.51,442.30 L185.02,439.58 L186.53,435.98 L188.03,432.02 L189.54,427.30 L191.05,421.60 L192.56,414.71 L194.07,407.09 L195.58,398.68 L197.08,389.86 L198.59,380.82 L200.10,373.89 L201.61,366.52 L203.12,359.74 L204.63,352.70 L206.13,346.41 L207.64,339.72 L209.15,334.27 L210.66,329.01 L212.17,324.82 L213.68,321.66 L215.18,319.28 L216.69,316.75 L218.20,315.43 L219.71,314.02 L221.22,313.43 L222.73,312.77 L224.24,311.85 L225.74,311.65 L227.25,311.40 L228.76,310.98 L230.27,310.60 L231.78,310.71 L233.29,310.23 L234.79,310.10 L236.30,309.91 L237.81,309.98 L239.32,309.53 L240.83,309.35 L242.34,309.21 L243.84,309.40 L245.35,309.08 L246.86,309.17 L248.37,308.86 L249.88,309.15 L251.39,308.61 L252.89,308.48 L254.40,308.64 L255.91,308.55 L257.42,308.45 L258.93,308.36 L260.44,308.56 L261.95,307.96 L263.45,308.29 L264.96,308.23 L266.47,308.19 L267.98,308.03 L269.49,307.63 L271.00,307.99 L272.50,307.87" fill="none" stroke="#26908e" stroke-width="1.15" stroke-linejoin="round" stroke-linecap="round" />
<path d="M91.50,455.26 L93.00,455.46 L94.51,455.48 L96.02,455.08 L97.53,455.01 L99.04,454.96 L100.55,454.78 L102.05,455.03 L103.56,454.53 L105.07,454.53 L106.58,454.82 L108.09,454.70 L109.60,454.41 L111.11,454.33 L112.61,454.37 L114.12,454.37 L115.63,454.13 L117.14,454.20 L118.65,453.86 L120.16,453.63 L121.66,453.93 L123.17,453.61 L124.68,453.42 L126.19,453.65 L127.70,453.19 L129.21,453.03 L130.71,453.23 L132.22,453.11 L133.73,452.76 L135.24,452.81 L136.75,452.76 L138.26,452.32 L139.76,452.25 L141.27,452.32 L142.78,452.18 L144.29,451.91 L145.80,451.59 L147.31,450.97 L148.82,450.68 L150.32,450.13 L151.83,449.57 L153.34,448.76 L154.85,448.16 L156.36,446.54 L157.87,444.47 L159.37,442.07 L160.88,439.30 L162.39,435.20 L163.90,430.18 L165.41,424.57 L166.92,418.03 L168.42,411.36 L169.93,403.96 L171.44,396.61 L172.95,389.52 L174.46,382.08 L175.97,373.44 L177.47,365.57 L178.98,357.92 L180.49,351.10 L182.00,344.67 L183.51,339.02 L185.02,334.13 L186.53,330.38 L188.03,326.46 L189.54,323.63 L191.05,320.84 L192.56,318.90 L194.07,316.93 L195.58,315.19 L197.08,314.06 L198.59,313.18 L200.10,312.13 L201.61,311.45 L203.12,310.59 L204.63,310.53 L206.13,310.21 L207.64,309.83 L209.15,310.02 L210.66,309.72 L212.17,309.54 L213.68,309.83 L215.18,310.03 L216.69,309.98 L218.20,309.99 L219.71,310.24 L221.22,310.26 L222.73,310.25 L224.24,310.13 L225.74,310.03 L227.25,310.04 L228.76,310.00 L230.27,310.02 L231.78,309.69 L233.29,309.45 L234.79,309.50 L236.30,309.45 L237.81,309.32 L239.32,309.49 L240.83,309.13 L242.34,309.19 L243.84,309.07 L245.35,308.95 L246.86,308.95 L248.37,308.96 L249.88,308.92 L251.39,308.86 L252.89,308.62 L254.40,308.61 L255.91,308.42 L257.42,308.66 L258.93,308.40 L260.44,308.04 L261.95,308.31 L263.45,308.05 L264.96,308.01 L266.47,308.05 L267.98,307.58 L269.49,307.89 L271.00,307.54 L272.50,307.81" fill="none" stroke="#29a08a" stroke-width="1.15" stroke-linejoin="round" stroke-linecap="round" />
<path d="M91.50,455.62 L93.00,455.10 L94.51,455.26 L96.02,455.39 L97.53,455.13 L99.04,455.03 L100.55,454.79 L102.05,455.06 L103.56,454.91 L105.07,454.43 L106.58,454.47 L108.09,454.72 L109.60,454.54 L111.11,454.46 L112.61,454.20 L114.12,454.15 L115.63,453.95 L117.14,453.88 L118.65,453.97 L120.16,453.77 L121.66,453.69 L123.17,453.61 L124.68,453.69 L126.19,453.44 L127.70,453.40 L129.21,453.21 L130.71,453.57 L132.22,453.08 L133.73,453.48 L135.24,452.99 L136.75,453.03 L138.26,453.02 L139.76,452.72 L141.27,452.91 L142.78,452.99 L144.29,452.80 L145.80,452.78 L147.31,452.98 L148.82,453.16 L150.32,453.18 L151.83,453.23 L153.34,453.10 L154.85,453.31 L156.36,453.15 L157.87,452.87 L159.37,452.65 L160.88,452.26 L162.39,451.42 L163.90,450.66 L165.41,449.96 L166.92,448.90 L168.42,447.75 L169.93,446.15 L171.44,444.42 L172.95,442.02 L174.46,439.46 L175.97,436.69 L177.47,432.64 L178.98,428.76 L180.49,423.58 L182.00,417.97 L183.51,411.57 L185.02,405.00 L186.53,397.32 L188.03,389.08 L189.54,381.39 L191.05,374.00 L192.56,366.35 L194.07,359.07 L195.58,351.64 L197.08,344.80 L198.59,338.49 L200.10,332.47 L201.61,327.83 L203.12,323.82 L204.63,320.59 L206.13,318.34 L207.64,316.53 L209.15,315.03 L210.66,314.13 L212.17,313.01 L213.68,312.54 L215.18,312.14 L216.69,311.99 L218.20,311.52 L219.71,311.24 L221.22,310.93 L222.73,310.72 L224.24,310.38 L225.74,310.18 L227.25,310.31 L228.76,310.20 L230.27,309.98 L231.78,309.66 L233.29,309.92 L234.79,309.71 L236.30,309.46 L237.81,309.72 L239.32,309.54 L240.83,309.09 L242.34,309.08 L243.84,309.17 L245.35,309.30 L246.86,308.78 L248.37,308.81 L249.88,308.66 L251.39,308.48 L252.89,308.46 L254.40,308.63 L255.91,308.70 L257.42,308.54 L258.93,308.34 L260.44,308.26 L261.95,308.36 L263.45,308.28 L264.96,307.96 L266.47,307.89 L267.98,307.95 L269.49,307.52 L271.00,307.64 L272.50,307.89" fill="none" stroke="#29a08a" stroke-width="1.15" stroke-linejoin="round" stroke-linecap="round" />
<path d="M124.68,447.00 L125.64,446.63 L126.59,446.72 L127.55,446.32 L128.50,446.52 L129.46,446.15 L130.41,445.65 L131.37,445.58 L132.32,445.32 L133.28,445.35 L134.23,444.94 L135.19,444.67 L136.14,444.57 L137.10,444.09 L138.06,443.88 L139.01,443.34 L139.97,443.27 L140.92,443.06 L141.88,442.90 L142.83,442.55 L143.79,441.88 L144.74,441.88 L145.70,441.52 L146.65,441.11 L147.61,440.53 L148.56,439.96 L149.52,439.66 L150.47,439.13 L151.43,439.10 L152.39,438.68 L153.34,437.80 L154.30,437.57 L155.25,436.86 L156.21,436.56 L157.16,436.14 L158.12,435.56 L159.07,435.11 L160.03,434.11 L160.98,433.72 L161.94,433.27 L162.89,432.62 L163.85,432.05 L164.80,431.61 L165.76,430.51 L166.71,430.03 L167.67,429.14 L168.63,428.71 L169.58,427.84 L170.54,427.20 L171.49,426.32 L172.45,424.60 L173.40,423.03 L174.36,421.06 L175.31,417.45 L176.27,412.68 L177.22,406.11 L178.18,396.88 L179.13,385.93 L180.09,375.06 L181.04,364.82 L182.00,357.29 L182.96,351.47 L183.91,347.32 L184.87,344.88 L185.82,342.92 L186.78,341.19 L187.73,340.29 L188.69,339.17 L189.64,338.63 L190.60,337.89 L191.55,337.04 L192.51,336.42 L193.46,335.29 L194.42,334.98 L195.37,334.16 L196.33,333.75 L197.29,332.87 L198.24,332.31 L199.20,331.68 L200.15,331.25 L201.11,330.61 L202.06,329.63 L203.02,329.32 L203.97,328.81 L204.93,328.28 L205.88,327.69 L206.84,327.19 L207.79,326.78 L208.75,325.93 L209.70,325.62 L210.66,325.24 L211.61,324.48 L212.57,324.36 L213.53,323.83 L214.48,323.09 L215.44,323.07 L216.39,322.49 L217.35,321.89 L218.30,321.53 L219.26,321.52 L220.21,321.06 L221.17,320.52 L222.12,320.38 L223.08,319.74 L224.03,319.85 L224.99,319.14 L225.94,319.10 L226.90,318.98 L227.86,318.59 L228.81,318.51 L229.77,317.94 L230.72,317.95 L231.68,317.37 L232.63,317.32 L233.59,317.23 L234.54,317.10 L235.50,316.70 L236.45,316.73 L237.41,316.18 L238.36,316.42 L239.32,316.04" fill="none" stroke="#33ad88" stroke-width="1.15" stroke-linejoin="round" stroke-linecap="round" />
<path d="M124.68,446.93 L125.64,446.91 L126.59,446.46 L127.55,446.49 L128.50,446.15 L129.46,446.01 L130.41,445.95 L131.37,445.69 L132.32,445.64 L133.28,445.36 L134.23,444.75 L135.19,444.79 L136.14,444.35 L137.10,444.39 L138.06,443.86 L139.01,443.69 L139.97,443.31 L140.92,443.12 L141.88,442.93 L142.83,442.46 L143.79,442.17 L144.74,441.87 L145.70,441.18 L146.65,441.05 L147.61,440.59 L148.56,439.91 L149.52,439.57 L150.47,439.09 L151.43,438.66 L152.39,438.61 L153.34,438.07 L154.30,437.73 L155.25,436.88 L156.21,436.38 L157.16,436.04 L158.12,435.48 L159.07,434.80 L160.03,434.22 L160.98,433.91 L161.94,433.00 L162.89,432.68 L163.85,431.92 L164.80,431.55 L165.76,430.96 L166.71,429.88 L167.67,429.33 L168.63,428.69 L169.58,428.39 L170.54,427.70 L171.49,426.94 L172.45,426.20 L173.40,425.40 L174.36,424.58 L175.31,423.92 L176.27,422.83 L177.22,421.52 L178.18,420.36 L179.13,418.09 L180.09,415.52 L181.04,411.47 L182.00,405.99 L182.96,397.97 L183.91,387.84 L184.87,376.90 L185.82,366.34 L186.78,356.81 L187.73,350.00 L188.69,345.45 L189.64,342.29 L190.60,339.58 L191.55,338.10 L192.51,337.18 L193.46,336.08 L194.42,335.31 L195.37,334.16 L196.33,333.77 L197.29,332.70 L198.24,332.13 L199.20,331.87 L200.15,330.91 L201.11,330.47 L202.06,329.68 L203.02,329.05 L203.97,328.79 L204.93,328.34 L205.88,327.32 L206.84,327.08 L207.79,326.29 L208.75,325.92 L209.70,325.40 L210.66,324.87 L211.61,324.52 L212.57,324.16 L213.53,323.95 L214.48,323.16 L215.44,322.90 L216.39,322.45 L217.35,321.84 L218.30,321.90 L219.26,321.19 L220.21,321.23 L221.17,320.53 L222.12,320.14 L223.08,320.13 L224.03,319.66 L224.99,319.13 L225.94,319.03 L226.90,318.80 L227.86,318.70 L228.81,318.55 L229.77,318.14 L230.72,317.87 L231.68,317.76 L232.63,317.48 L233.59,317.36 L234.54,316.84 L235.50,316.66 L236.45,316.72 L237.41,316.53 L238.36,316.21 L239.32,316.08" fill="none" stroke="#33ad88" stroke-width="1.15" stroke-linejoin="round" stroke-linecap="round" />
<path d="M147.99,432.83 L148.84,433.16 L149.69,432.91 L150.54,431.95 L151.39,432.46 L152.24,431.68 L153.09,431.62 L153.94,430.78 L154.79,430.76 L155.64,430.21 L156.49,430.56 L157.34,429.69 L158.19,429.46 L159.04,429.30 L159.89,428.65 L160.74,428.26 L161.59,428.74 L162.44,428.24 L163.29,427.85 L164.14,427.70 L164.99,427.55 L165.84,427.00 L166.69,426.78 L167.54,425.91 L168.39,425.88 L169.24,425.93 L170.09,425.39 L170.95,424.91 L171.80,424.71 L172.65,424.60 L173.50,424.38 L174.35,424.08 L175.20,422.58 L176.05,422.33 L176.90,422.30 L177.75,420.35 L178.60,417.83 L179.45,414.22 L180.30,407.57 L181.15,395.94 L182.00,381.57 L182.85,367.41 L183.70,355.81 L184.55,349.25 L185.40,344.17 L186.25,342.25 L187.10,341.02 L187.95,339.92 L188.80,339.70 L189.65,339.73 L190.50,339.38 L191.35,339.16 L192.20,338.96 L193.05,337.82 L193.91,337.43 L194.76,337.72 L195.61,337.53 L196.46,336.72 L197.31,336.17 L198.16,335.77 L199.01,336.30 L199.86,335.31 L200.71,334.94 L201.56,334.73 L202.41,334.88 L203.26,334.72 L204.11,333.70 L204.96,333.95 L205.81,333.58 L206.66,333.07 L207.51,332.96 L208.36,332.13 L209.21,332.47 L210.06,332.38 L210.91,331.49 L211.76,331.11 L212.61,330.58 L213.46,330.40 L214.31,329.86 L215.16,329.51 L216.01,329.69" fill="none" stroke="#3cb97a" stroke-width="1.3" stroke-linejoin="round" stroke-linecap="round" />
<path d="M155.53,424.94 L156.19,425.01 L156.85,424.56 L157.51,423.94 L158.17,424.20 L158.84,423.23 L159.50,423.51 L160.16,422.90 L160.82,422.01 L161.48,422.69 L162.15,422.44 L162.81,421.70 L163.47,421.68 L164.13,420.79 L164.79,421.28 L165.45,420.06 L166.12,419.74 L166.78,419.51 L167.44,419.61 L168.10,419.47 L168.76,418.75 L169.43,418.61 L170.09,418.41 L170.75,418.20 L171.41,417.78 L172.07,417.21 L172.73,416.71 L173.40,416.29 L174.06,416.75 L174.72,416.21 L175.38,415.58 L176.04,414.88 L176.71,414.38 L177.37,413.54 L178.03,412.23 L178.69,409.89 L179.35,406.72 L180.01,401.88 L180.68,396.21 L181.34,389.11 L182.00,380.97 L182.66,372.97 L183.32,366.21 L183.99,360.25 L184.65,356.81 L185.31,353.11 L185.97,351.11 L186.63,350.02 L187.29,348.71 L187.96,347.55 L188.62,347.50 L189.28,346.86 L189.94,346.84 L190.60,346.43 L191.27,345.50 L191.93,346.13 L192.59,345.63 L193.25,344.78 L193.91,344.73 L194.57,344.83 L195.24,343.89 L195.90,343.91 L196.56,343.38 L197.22,343.26 L197.88,342.83 L198.55,342.50 L199.21,342.38 L199.87,342.39 L200.53,342.02 L201.19,340.93 L201.85,341.01 L202.52,341.20 L203.18,340.07 L203.84,340.44 L204.50,340.31 L205.16,339.53 L205.83,339.54 L206.49,338.98 L207.15,338.61 L207.81,338.67 L208.47,337.98" fill="none" stroke="#4cbf60" stroke-width="1.3" stroke-linejoin="round" stroke-linecap="round" />
<path d="M163.60,413.71 L164.06,412.99 L164.52,412.62 L164.98,412.91 L165.44,412.27 L165.90,412.36 L166.36,411.67 L166.82,410.92 L167.28,410.99 L167.74,410.53 L168.20,410.20 L168.66,410.63 L169.12,409.38 L169.58,409.40 L170.04,409.80 L170.50,408.71 L170.96,408.91 L171.42,408.87 L171.88,407.70 L172.34,407.85 L172.80,407.31 L173.26,407.70 L173.72,406.67 L174.18,407.13 L174.64,406.57 L175.10,406.03 L175.56,406.00 L176.02,404.88 L176.48,404.76 L176.94,404.03 L177.40,402.82 L177.86,402.23 L178.32,400.62 L178.78,399.58 L179.24,397.69 L179.70,396.08 L180.16,393.38 L180.62,390.76 L181.08,388.53 L181.54,384.63 L182.00,381.68 L182.46,377.81 L182.92,374.64 L183.38,371.47 L183.84,369.58 L184.30,366.99 L184.76,364.64 L185.22,362.79 L185.68,361.70 L186.14,361.36 L186.60,359.83 L187.06,359.64 L187.52,358.51 L187.98,357.68 L188.44,357.97 L188.90,356.64 L189.36,356.53 L189.82,356.63 L190.28,356.36 L190.74,355.76 L191.20,355.01 L191.66,354.99 L192.12,355.22 L192.58,355.03 L193.04,354.64 L193.50,353.59 L193.96,353.99 L194.42,353.29 L194.88,353.31 L195.34,352.59 L195.80,352.64 L196.26,352.63 L196.72,351.54 L197.18,351.63 L197.64,351.18 L198.10,350.77 L198.56,350.34 L199.02,351.10 L199.48,350.45 L199.94,350.39 L200.40,349.72" fill="none" stroke="#78c858" stroke-width="1.3" stroke-linejoin="round" stroke-linecap="round" />
<path d="M166.69,400.29 L167.07,400.12 L167.46,400.71 L167.84,400.30 L168.22,399.34 L168.60,399.24 L168.99,399.31 L169.37,398.96 L169.75,399.06 L170.13,398.05 L170.52,398.29 L170.90,397.51 L171.28,397.54 L171.67,397.88 L172.05,397.34 L172.43,397.21 L172.81,396.20 L173.20,396.27 L173.58,396.61 L173.96,396.20 L174.34,395.71 L174.73,395.31 L175.11,394.89 L175.49,394.80 L175.88,394.52 L176.26,394.56 L176.64,393.56 L177.02,393.44 L177.41,393.36 L177.79,392.39 L178.17,391.28 L178.56,391.72 L178.94,390.92 L179.32,389.56 L179.70,389.13 L180.09,388.14 L180.47,386.78 L180.85,385.84 L181.23,384.20 L181.62,382.87 L182.00,380.99 L182.38,379.55 L182.77,379.24 L183.15,377.36 L183.53,375.92 L183.91,374.70 L184.30,373.82 L184.68,373.10 L185.06,372.32 L185.44,371.94 L185.83,371.43 L186.21,370.32 L186.59,369.76 L186.98,369.26 L187.36,369.15 L187.74,369.20 L188.12,368.35 L188.51,368.06 L188.89,368.01 L189.27,367.58 L189.66,367.61 L190.04,367.11 L190.42,367.00 L190.80,367.12 L191.19,366.55 L191.57,366.30 L191.95,365.30 L192.33,365.61 L192.72,365.48 L193.10,365.36 L193.48,365.12 L193.87,364.74 L194.25,364.72 L194.63,364.61 L195.01,363.40 L195.40,363.61 L195.78,363.37 L196.16,362.98 L196.54,363.02 L196.93,362.92 L197.31,362.78" fill="none" stroke="#b2d658" stroke-width="1.3" stroke-linejoin="round" stroke-linecap="round" />
<path d="M166.69,391.64 L167.07,391.48 L167.46,390.86 L167.84,390.90 L168.22,390.31 L168.60,390.82 L168.99,390.02 L169.37,390.24 L169.75,390.64 L170.13,390.37 L170.52,389.77 L170.90,389.16 L171.28,389.70 L171.67,389.08 L172.05,389.30 L172.43,388.65 L172.81,389.37 L173.20,388.74 L173.58,388.11 L173.96,388.63 L174.34,388.47 L174.73,388.55 L175.11,388.20 L175.49,387.89 L175.88,387.21 L176.26,387.53 L176.64,387.10 L177.02,387.08 L177.41,386.38 L177.79,385.81 L178.17,385.75 L178.56,385.93 L178.94,384.98 L179.32,384.35 L179.70,384.35 L180.09,384.49 L180.47,383.22 L180.85,382.65 L181.23,382.73 L181.62,382.44 L182.00,381.85 L182.38,380.93 L182.77,380.03 L183.15,379.78 L183.53,378.97 L183.91,379.30 L184.30,378.73 L184.68,377.86 L185.06,377.59 L185.44,377.51 L185.83,376.89 L186.21,376.96 L186.59,377.00 L186.98,376.35 L187.36,376.51 L187.74,375.64 L188.12,375.75 L188.51,375.37 L188.89,375.06 L189.27,375.25 L189.66,374.84 L190.04,375.16 L190.42,373.97 L190.80,374.20 L191.19,373.57 L191.57,374.44 L191.95,373.65 L192.33,373.37 L192.72,373.65 L193.10,373.75 L193.48,373.52 L193.87,373.38 L194.25,372.53 L194.63,373.12 L195.01,372.17 L195.40,372.44 L195.78,372.16 L196.16,371.95 L196.54,371.83 L196.93,371.56 L197.31,371.47" fill="none" stroke="#dcdc38" stroke-width="1.3" stroke-linejoin="round" stroke-linecap="round" />
<path d="M166.69,386.14 L167.07,385.60 L167.46,386.06 L167.84,385.47 L168.22,385.34 L168.60,385.24 L168.99,385.68 L169.37,385.08 L169.75,384.78 L170.13,385.28 L170.52,385.39 L170.90,385.04 L171.28,384.49 L171.67,385.31 L172.05,385.36 L172.43,384.76 L172.81,384.48 L173.20,384.26 L173.58,384.63 L173.96,383.85 L174.34,384.61 L174.73,383.93 L175.11,384.58 L175.49,384.55 L175.88,384.34 L176.26,384.32 L176.64,383.73 L177.02,383.56 L177.41,383.86 L177.79,382.90 L178.17,383.41 L178.56,383.51 L178.94,383.33 L179.32,382.56 L179.70,382.19 L180.09,382.86 L180.47,382.82 L180.85,381.80 L181.23,382.19 L181.62,381.17 L182.00,381.50 L182.38,381.14 L182.77,381.26 L183.15,380.56 L183.53,380.74 L183.91,380.71 L184.30,379.90 L184.68,380.61 L185.06,379.76 L185.44,380.36 L185.83,379.58 L186.21,379.72 L186.59,379.09 L186.98,379.87 L187.36,379.20 L187.74,379.27 L188.12,378.60 L188.51,378.48 L188.89,378.73 L189.27,379.09 L189.66,378.97 L190.04,378.87 L190.42,378.59 L190.80,378.73 L191.19,378.68 L191.57,377.98 L191.95,378.03 L192.33,378.32 L192.72,377.47 L193.10,378.25 L193.48,377.78 L193.87,378.16 L194.25,377.29 L194.63,377.20 L195.01,377.79 L195.40,377.17 L195.78,377.01 L196.16,377.53 L196.54,377.40 L196.93,377.15 L197.31,376.62" fill="none" stroke="#f6dc28" stroke-width="1.3" stroke-linejoin="round" stroke-linecap="round" />
<rect x="91.5" y="291.5" width="181.00" height="180.00" fill="none" stroke="#666666" stroke-width="1"/>
<text x="87.60" y="317.17" font-size="13.5" text-anchor="end" font-weight="normal"  >0.5</text>
<text x="87.60" y="386.40" font-size="13.5" text-anchor="end" font-weight="normal"  >0.0</text>
<text x="87.60" y="455.63" font-size="13.5" text-anchor="end" font-weight="normal"  >&#8722;0.5</text>
<text x="105.08" y="484.30" font-size="12.5" text-anchor="middle" font-weight="normal"  >&#8722;1</text>
<text x="182.00" y="484.30" font-size="12.5" text-anchor="middle" font-weight="normal"  >0</text>
<text x="257.42" y="484.30" font-size="12.5" text-anchor="middle" font-weight="normal"  >1</text>
<text transform="translate(47.20,381.90) rotate(-90)" font-size="13" text-anchor="middle" textLength="60.3" lengthAdjust="spacing"><tspan font-style="italic">&#963;</tspan><tspan font-style="italic" font-size="9.36" dy="2.47">xy</tspan><tspan dy="-2.47">&#160;(e</tspan><tspan font-size="9.36" dy="-4.03">2</tspan><tspan dy="4.03">/</tspan><tspan font-style="italic">h</tspan>)</text>
<text x="181.30" y="504.30" font-size="13" text-anchor="middle" textLength="46.5" lengthAdjust="spacing"><tspan font-style="italic">&#956;</tspan><tspan font-size="9.36" dy="2.86">0</tspan><tspan font-style="italic" dy="-2.86">H</tspan>&#160;(T)</text>
<text x="277.7" y="282.5" font-size="11.2"><tspan font-style="italic">T</tspan>&#160;(K)&#160;=</text>
<line x1="280.00" y1="293.70" x2="294.00" y2="293.70" stroke="#6a3a90" stroke-width="1.7" />
<text x="297.60" y="296.90" font-size="8.6" text-anchor="start" font-weight="normal"  >0.1</text>
<line x1="280.00" y1="306.45" x2="294.00" y2="306.45" stroke="#5d3592" stroke-width="1.7" />
<text x="297.60" y="309.65" font-size="8.6" text-anchor="start" font-weight="normal"  >0.2</text>
<line x1="280.00" y1="319.20" x2="294.00" y2="319.20" stroke="#4c3a8f" stroke-width="1.7" />
<text x="297.60" y="322.40" font-size="8.6" text-anchor="start" font-weight="normal"  >0.5</text>
<line x1="280.00" y1="331.95" x2="294.00" y2="331.95" stroke="#4a5898" stroke-width="1.7" />
<text x="297.60" y="335.15" font-size="8.6" text-anchor="start" font-weight="normal"  >0.8</text>
<line x1="280.00" y1="344.70" x2="294.00" y2="344.70" stroke="#8090c0" stroke-width="1.7" />
<text x="297.60" y="347.90" font-size="8.6" text-anchor="start" font-weight="normal"  >1.2</text>
<line x1="280.00" y1="357.45" x2="294.00" y2="357.45" stroke="#4d7fa8" stroke-width="1.7" />
<text x="297.60" y="360.65" font-size="8.6" text-anchor="start" font-weight="normal"  >1.6</text>
<line x1="280.00" y1="370.20" x2="294.00" y2="370.20" stroke="#2e7c8e" stroke-width="1.7" />
<text x="297.60" y="373.40" font-size="8.6" text-anchor="start" font-weight="normal"  >2.0</text>
<line x1="280.00" y1="382.95" x2="294.00" y2="382.95" stroke="#3a9a9e" stroke-width="1.7" />
<text x="297.60" y="386.15" font-size="8.6" text-anchor="start" font-weight="normal"  >3.0</text>
<line x1="280.00" y1="395.70" x2="294.00" y2="395.70" stroke="#6ebdb5" stroke-width="1.7" />
<text x="297.60" y="398.90" font-size="8.6" text-anchor="start" font-weight="normal"  >4.5</text>
<line x1="280.00" y1="408.45" x2="294.00" y2="408.45" stroke="#75c8b0" stroke-width="1.7" />
<text x="297.60" y="411.65" font-size="8.6" text-anchor="start" font-weight="normal"  >6.6</text>
<line x1="280.00" y1="421.20" x2="294.00" y2="421.20" stroke="#4ab97a" stroke-width="1.7" />
<text x="297.60" y="424.40" font-size="8.6" text-anchor="start" font-weight="normal"  >8.5</text>
<line x1="280.00" y1="433.95" x2="294.00" y2="433.95" stroke="#4cbf5e" stroke-width="1.7" />
<text x="297.60" y="437.15" font-size="8.6" text-anchor="start" font-weight="normal"  >11</text>
<line x1="280.00" y1="446.70" x2="294.00" y2="446.70" stroke="#70c860" stroke-width="1.7" />
<text x="297.60" y="449.90" font-size="8.6" text-anchor="start" font-weight="normal"  >14</text>
<line x1="280.00" y1="459.45" x2="294.00" y2="459.45" stroke="#b5dd80" stroke-width="1.7" />
<text x="297.60" y="462.65" font-size="8.6" text-anchor="start" font-weight="normal"  >18</text>
<line x1="280.00" y1="472.20" x2="294.00" y2="472.20" stroke="#d8e050" stroke-width="1.7" />
<text x="297.60" y="475.40" font-size="8.6" text-anchor="start" font-weight="normal"  >23</text>
<line x1="280.00" y1="484.95" x2="294.00" y2="484.95" stroke="#f5dc30" stroke-width="1.7" />
<text x="297.60" y="488.15" font-size="8.6" text-anchor="start" font-weight="normal"  >30</text>
<line x1="422.50" y1="306.50" x2="603.50" y2="306.50" stroke="#a4a4a4" stroke-width="1" stroke-dasharray="2.1 0.9 1.2 0.9"/>
<line x1="422.50" y1="456.50" x2="603.50" y2="456.50" stroke="#a4a4a4" stroke-width="1" stroke-dasharray="2.1 0.9 1.2 0.9"/>
<line x1="422.50" y1="456.50" x2="425.10" y2="456.50" stroke="#666666" stroke-width="0.9" />
<line x1="603.50" y1="456.50" x2="600.90" y2="456.50" stroke="#666666" stroke-width="0.9" />
<line x1="422.50" y1="426.50" x2="425.10" y2="426.50" stroke="#666666" stroke-width="0.9" />
<line x1="603.50" y1="426.50" x2="600.90" y2="426.50" stroke="#666666" stroke-width="0.9" />
<line x1="422.50" y1="396.50" x2="425.10" y2="396.50" stroke="#666666" stroke-width="0.9" />
<line x1="603.50" y1="396.50" x2="600.90" y2="396.50" stroke="#666666" stroke-width="0.9" />
<line x1="422.50" y1="366.50" x2="425.10" y2="366.50" stroke="#666666" stroke-width="0.9" />
<line x1="603.50" y1="366.50" x2="600.90" y2="366.50" stroke="#666666" stroke-width="0.9" />
<line x1="422.50" y1="336.50" x2="425.10" y2="336.50" stroke="#666666" stroke-width="0.9" />
<line x1="603.50" y1="336.50" x2="600.90" y2="336.50" stroke="#666666" stroke-width="0.9" />
<line x1="422.50" y1="306.50" x2="425.10" y2="306.50" stroke="#666666" stroke-width="0.9" />
<line x1="603.50" y1="306.50" x2="600.90" y2="306.50" stroke="#666666" stroke-width="0.9" />
<line x1="422.50" y1="471.50" x2="423.90" y2="471.50" stroke="#666666" stroke-width="0.9" />
<line x1="603.50" y1="471.50" x2="602.10" y2="471.50" stroke="#666666" stroke-width="0.9" />
<line x1="422.50" y1="441.50" x2="423.90" y2="441.50" stroke="#666666" stroke-width="0.9" />
<line x1="603.50" y1="441.50" x2="602.10" y2="441.50" stroke="#666666" stroke-width="0.9" />
<line x1="422.50" y1="411.50" x2="423.90" y2="411.50" stroke="#666666" stroke-width="0.9" />
<line x1="603.50" y1="411.50" x2="602.10" y2="411.50" stroke="#666666" stroke-width="0.9" />
<line x1="422.50" y1="381.50" x2="423.90" y2="381.50" stroke="#666666" stroke-width="0.9" />
<line x1="603.50" y1="381.50" x2="602.10" y2="381.50" stroke="#666666" stroke-width="0.9" />
<line x1="422.50" y1="351.50" x2="423.90" y2="351.50" stroke="#666666" stroke-width="0.9" />
<line x1="603.50" y1="351.50" x2="602.10" y2="351.50" stroke="#666666" stroke-width="0.9" />
<line x1="422.50" y1="321.50" x2="423.90" y2="321.50" stroke="#666666" stroke-width="0.9" />
<line x1="603.50" y1="321.50" x2="602.10" y2="321.50" stroke="#666666" stroke-width="0.9" />
<line x1="427.50" y1="471.50" x2="427.50" y2="468.90" stroke="#666666" stroke-width="0.9" />
<line x1="427.50" y1="291.50" x2="427.50" y2="294.10" stroke="#666666" stroke-width="0.9" />
<line x1="476.50" y1="471.50" x2="476.50" y2="468.90" stroke="#666666" stroke-width="0.9" />
<line x1="476.50" y1="291.50" x2="476.50" y2="294.10" stroke="#666666" stroke-width="0.9" />
<line x1="525.50" y1="471.50" x2="525.50" y2="468.90" stroke="#666666" stroke-width="0.9" />
<line x1="525.50" y1="291.50" x2="525.50" y2="294.10" stroke="#666666" stroke-width="0.9" />
<line x1="574.50" y1="471.50" x2="574.50" y2="468.90" stroke="#666666" stroke-width="0.9" />
<line x1="574.50" y1="291.50" x2="574.50" y2="294.10" stroke="#666666" stroke-width="0.9" />
<line x1="451.50" y1="471.50" x2="451.50" y2="470.10" stroke="#666666" stroke-width="0.9" />
<line x1="451.50" y1="291.50" x2="451.50" y2="292.90" stroke="#666666" stroke-width="0.9" />
<line x1="500.50" y1="471.50" x2="500.50" y2="470.10" stroke="#666666" stroke-width="0.9" />
<line x1="500.50" y1="291.50" x2="500.50" y2="292.90" stroke="#666666" stroke-width="0.9" />
<line x1="549.50" y1="471.50" x2="549.50" y2="470.10" stroke="#666666" stroke-width="0.9" />
<line x1="549.50" y1="291.50" x2="549.50" y2="292.90" stroke="#666666" stroke-width="0.9" />
<line x1="598.50" y1="471.50" x2="598.50" y2="470.10" stroke="#666666" stroke-width="0.9" />
<line x1="598.50" y1="291.50" x2="598.50" y2="292.90" stroke="#666666" stroke-width="0.9" />
<path d="M427.63,306.80 L428.56,307.65 L429.48,307.67 L430.40,307.64 L431.32,307.88 L432.24,308.48 L433.16,309.45 L434.08,310.75 L435.01,312.33 L435.93,314.14 L436.85,316.11 L437.77,318.21 L438.69,320.41 L439.61,322.66 L440.54,324.95 L441.46,327.24 L442.38,329.54 L443.30,331.81 L444.22,334.05 L445.14,336.26 L446.06,338.42 L446.99,340.53 L447.91,342.59 L448.83,344.59 L449.75,346.54 L450.67,348.44 L451.59,350.27 L452.51,352.05 L453.44,353.78 L454.36,355.45 L455.28,357.06 L456.20,358.63 L457.12,360.14 L458.04,361.61 L458.96,363.03 L459.89,364.40 L460.81,365.73 L461.73,367.02 L462.65,368.26 L463.57,369.47 L464.49,370.64 L465.42,371.77 L466.34,372.87 L467.26,373.93 L468.18,374.96 L469.10,375.97 L470.02,376.94 L470.94,377.89 L471.87,378.81 L472.79,379.70 L473.71,380.57 L474.63,381.42 L475.55,382.24 L476.47,383.04 L477.39,383.83 L478.32,384.59 L479.24,385.33 L480.16,386.06 L481.08,386.77 L482.00,387.46 L482.92,388.14 L483.84,388.80 L484.77,389.45 L485.69,390.08 L486.61,390.70 L487.53,391.31 L488.45,391.90 L489.37,392.49 L490.30,393.06 L491.22,393.62 L492.14,394.17 L493.06,394.71 L493.98,395.24 L494.90,395.77 L495.82,396.28 L496.75,396.78 L497.67,397.28 L498.59,397.77 L499.51,398.25 L500.43,398.72 L501.35,399.19 L502.27,399.65 L503.20,400.10 L504.12,400.54 L505.04,400.98 L505.96,401.41 L506.88,401.84 L507.80,402.26 L508.72,402.67 L509.65,403.08 L510.57,403.49 L511.49,403.88 L512.41,404.28 L513.33,404.66 L514.25,405.05 L515.18,405.42 L516.10,405.80 L517.02,406.16 L517.94,406.53 L518.86,406.88 L519.78,407.24 L520.70,407.59 L521.63,407.93 L522.55,408.27 L523.47,408.61 L524.39,408.94 L525.31,409.27 L526.23,409.59 L527.15,409.91 L528.08,410.23 L529.00,410.54 L529.92,410.85 L530.84,411.15 L531.76,411.45 L532.68,411.74 L533.60,412.03 L534.53,412.32 L535.45,412.60 L536.37,412.88 L537.29,413.16 L538.21,413.43 L539.13,413.70 L540.06,413.96 L540.98,414.22 L541.90,414.48 L542.82,414.73 L543.74,414.98 L544.66,415.22 L545.58,415.46 L546.51,415.70 L547.43,415.93 L548.35,416.16 L549.27,416.38 L550.19,416.60 L551.11,416.82 L552.03,417.03 L552.96,417.24 L553.88,417.44 L554.80,417.64 L555.72,417.84 L556.64,418.03 L557.56,418.22 L558.48,418.41 L559.41,418.59 L560.33,418.76 L561.25,418.93 L562.17,419.10 L563.09,419.26 L564.01,419.42 L564.94,419.58 L565.86,419.73 L566.78,419.88 L567.70,420.02 L568.62,420.16 L569.54,420.29 L570.46,420.42 L571.39,420.55 L572.31,420.67 L573.23,420.78 L574.15,420.90" fill="none" stroke="#2f7fc4" stroke-width="1.3" stroke-linejoin="round" stroke-linecap="round" stroke-dasharray="3 2" stroke-linecap="butt"/>
<circle cx="427.88" cy="307.70" r="3.15" fill="none" stroke="#f23a3a" stroke-width="0.95"/>
<circle cx="428.37" cy="307.70" r="3.15" fill="none" stroke="#f23a3a" stroke-width="0.95"/>
<circle cx="429.84" cy="308.00" r="3.15" fill="none" stroke="#f23a3a" stroke-width="0.95"/>
<circle cx="431.30" cy="308.60" r="3.15" fill="none" stroke="#f23a3a" stroke-width="0.95"/>
<circle cx="433.26" cy="310.10" r="3.15" fill="none" stroke="#f23a3a" stroke-width="0.95"/>
<circle cx="435.22" cy="312.50" r="3.15" fill="none" stroke="#f23a3a" stroke-width="0.95"/>
<circle cx="437.17" cy="316.10" r="3.15" fill="none" stroke="#f23a3a" stroke-width="0.95"/>
<circle cx="442.07" cy="329.30" r="3.15" fill="none" stroke="#f23a3a" stroke-width="0.95"/>
<circle cx="449.40" cy="356.00" r="3.15" fill="none" stroke="#f23a3a" stroke-width="0.95"/>
<circle cx="459.68" cy="394.70" r="3.15" fill="none" stroke="#f23a3a" stroke-width="0.95"/>
<circle cx="468.97" cy="423.20" r="3.15" fill="none" stroke="#f23a3a" stroke-width="0.95"/>
<circle cx="481.20" cy="449.00" r="3.15" fill="none" stroke="#f23a3a" stroke-width="0.95"/>
<circle cx="495.88" cy="455.90" r="3.15" fill="none" stroke="#f23a3a" stroke-width="0.95"/>
<circle cx="515.45" cy="456.50" r="3.15" fill="none" stroke="#f23a3a" stroke-width="0.95"/>
<circle cx="539.91" cy="456.50" r="3.15" fill="none" stroke="#f23a3a" stroke-width="0.95"/>
<circle cx="574.15" cy="456.50" r="3.15" fill="none" stroke="#f23a3a" stroke-width="0.95"/>
<rect x="422.5" y="291.5" width="181.00" height="180.00" fill="none" stroke="#666666" stroke-width="1"/>
<text x="418.40" y="461.10" font-size="11.0" text-anchor="end" font-weight="normal"  >0.0</text>
<text x="418.40" y="431.10" font-size="11.0" text-anchor="end" font-weight="normal"  >0.1</text>
<text x="418.40" y="401.10" font-size="11.0" text-anchor="end" font-weight="normal"  >0.2</text>
<text x="418.40" y="371.10" font-size="11.0" text-anchor="end" font-weight="normal"  >0.3</text>
<text x="418.40" y="341.10" font-size="11.0" text-anchor="end" font-weight="normal"  >0.4</text>
<text x="418.40" y="311.10" font-size="11.0" text-anchor="end" font-weight="normal"  >0.5</text>
<text x="427.39" y="483.60" font-size="11.0" text-anchor="middle" font-weight="normal"  >0</text>
<text x="476.31" y="483.60" font-size="11.0" text-anchor="middle" font-weight="normal"  >10</text>
<text x="525.23" y="483.60" font-size="11.0" text-anchor="middle" font-weight="normal"  >20</text>
<text x="574.15" y="483.60" font-size="11.0" text-anchor="middle" font-weight="normal"  >30</text>
<text transform="translate(387.40,382.00) rotate(-90)" font-size="13" text-anchor="middle" textLength="60.8" lengthAdjust="spacing"><tspan font-style="italic">&#963;</tspan><tspan font-style="italic" font-size="9.36" dy="2.47">xy</tspan><tspan dy="-2.47">&#160;(e</tspan><tspan font-size="9.36" dy="-4.03">2</tspan><tspan dy="4.03">/</tspan><tspan font-style="italic">h</tspan>)</text>
<text x="513.4" y="502.3" font-size="13" text-anchor="middle"><tspan font-style="italic">T</tspan>&#160;(K)</text>
</svg></body></html>
